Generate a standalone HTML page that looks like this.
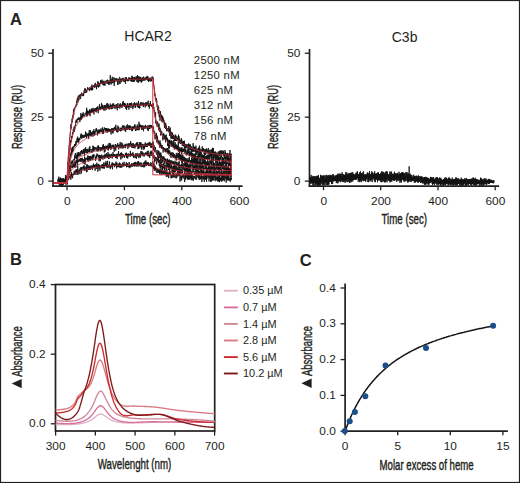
<!DOCTYPE html>
<html><head><meta charset="utf-8"><style>
html,body{margin:0;padding:0;background:#fff;}
#w{position:relative;width:520px;height:483px;overflow:hidden;}
svg{position:absolute;left:0;top:0;}
text{font-family:"Liberation Sans", sans-serif;}
</style></head><body><div id="w">
<svg width="520" height="483" viewBox="0 0 520 483">
<rect x="0.5" y="0.5" width="519" height="482" fill="#fff" stroke="#231f20" stroke-width="1.2"/>
<text x="10.00" y="24.50" font-size="16.5" text-anchor="start" font-weight="bold" fill="#231f20" >A</text>
<text x="148.00" y="41.00" font-size="14" text-anchor="middle" font-weight="normal" fill="#231f20" >HCAR2</text>
<line x1="53.00" y1="49.00" x2="53.00" y2="186.90" stroke="#231f20" stroke-width="1.7" />
<line x1="52.20" y1="186.10" x2="242.60" y2="186.10" stroke="#231f20" stroke-width="1.7" />
<line x1="48.30" y1="53.25" x2="53.00" y2="53.25" stroke="#231f20" stroke-width="1.3" />
<text transform="translate(43.90,56.75) scale(1.08,1)" font-size="11" text-anchor="end" font-weight="normal" fill="#231f20" >50</text>
<line x1="48.30" y1="117.17" x2="53.00" y2="117.17" stroke="#231f20" stroke-width="1.3" />
<text transform="translate(43.90,120.67) scale(1.08,1)" font-size="11" text-anchor="end" font-weight="normal" fill="#231f20" >25</text>
<line x1="48.30" y1="181.10" x2="53.00" y2="181.10" stroke="#231f20" stroke-width="1.3" />
<text transform="translate(43.90,185.40) scale(1.08,1)" font-size="11" text-anchor="end" font-weight="normal" fill="#231f20" >0</text>
<line x1="67.00" y1="186.10" x2="67.00" y2="190.20" stroke="#231f20" stroke-width="1.3" />
<text transform="translate(67.20,205.00) scale(1.08,1)" font-size="11" text-anchor="middle" font-weight="normal" fill="#231f20" >0</text>
<line x1="124.40" y1="186.10" x2="124.40" y2="190.20" stroke="#231f20" stroke-width="1.3" />
<text transform="translate(124.60,205.00) scale(1.08,1)" font-size="11" text-anchor="middle" font-weight="normal" fill="#231f20" >200</text>
<line x1="181.80" y1="186.10" x2="181.80" y2="190.20" stroke="#231f20" stroke-width="1.3" />
<text transform="translate(182.00,205.00) scale(1.08,1)" font-size="11" text-anchor="middle" font-weight="normal" fill="#231f20" >400</text>
<line x1="239.20" y1="186.10" x2="239.20" y2="190.20" stroke="#231f20" stroke-width="1.3" />
<text transform="translate(239.40,205.00) scale(1.08,1)" font-size="11" text-anchor="middle" font-weight="normal" fill="#231f20" >600</text>
<text x="125.00" y="224.30" font-size="14" fill="#231f20" stroke="#231f20" stroke-width="0.4" textLength="45.5" lengthAdjust="spacingAndGlyphs">Time (sec)</text>
<text transform="translate(21.90,149.00) rotate(-90)" font-size="14" fill="#231f20" stroke="#231f20" stroke-width="0.4" textLength="64.0" lengthAdjust="spacingAndGlyphs">Response (RU)</text>
<line x1="309.50" y1="49.00" x2="309.50" y2="186.90" stroke="#231f20" stroke-width="1.7" />
<line x1="308.70" y1="186.10" x2="499.10" y2="186.10" stroke="#231f20" stroke-width="1.7" />
<line x1="304.80" y1="53.25" x2="309.50" y2="53.25" stroke="#231f20" stroke-width="1.3" />
<text transform="translate(300.40,56.75) scale(1.08,1)" font-size="11" text-anchor="end" font-weight="normal" fill="#231f20" >50</text>
<line x1="304.80" y1="117.17" x2="309.50" y2="117.17" stroke="#231f20" stroke-width="1.3" />
<text transform="translate(300.40,120.67) scale(1.08,1)" font-size="11" text-anchor="end" font-weight="normal" fill="#231f20" >25</text>
<line x1="304.80" y1="181.10" x2="309.50" y2="181.10" stroke="#231f20" stroke-width="1.3" />
<text transform="translate(300.40,185.40) scale(1.08,1)" font-size="11" text-anchor="end" font-weight="normal" fill="#231f20" >0</text>
<line x1="323.50" y1="186.10" x2="323.50" y2="190.20" stroke="#231f20" stroke-width="1.3" />
<text transform="translate(323.70,205.00) scale(1.08,1)" font-size="11" text-anchor="middle" font-weight="normal" fill="#231f20" >0</text>
<line x1="380.74" y1="186.10" x2="380.74" y2="190.20" stroke="#231f20" stroke-width="1.3" />
<text transform="translate(380.94,205.00) scale(1.08,1)" font-size="11" text-anchor="middle" font-weight="normal" fill="#231f20" >200</text>
<line x1="437.98" y1="186.10" x2="437.98" y2="190.20" stroke="#231f20" stroke-width="1.3" />
<text transform="translate(438.18,205.00) scale(1.08,1)" font-size="11" text-anchor="middle" font-weight="normal" fill="#231f20" >400</text>
<line x1="495.22" y1="186.10" x2="495.22" y2="190.20" stroke="#231f20" stroke-width="1.3" />
<text transform="translate(495.42,205.00) scale(1.08,1)" font-size="11" text-anchor="middle" font-weight="normal" fill="#231f20" >600</text>
<text x="381.50" y="224.30" font-size="14" fill="#231f20" stroke="#231f20" stroke-width="0.4" textLength="45.5" lengthAdjust="spacingAndGlyphs">Time (sec)</text>
<text transform="translate(278.40,149.00) rotate(-90)" font-size="14" fill="#231f20" stroke="#231f20" stroke-width="0.4" textLength="64.0" lengthAdjust="spacingAndGlyphs">Response (RU)</text>
<text x="404.60" y="41.50" font-size="14" text-anchor="middle" font-weight="normal" fill="#231f20" >C3b</text>
<text x="193.80" y="63.60" font-size="11.3" text-anchor="start" font-weight="normal" fill="#231f20" letter-spacing="0.3">2500 nM</text>
<text x="193.80" y="78.80" font-size="11.3" text-anchor="start" font-weight="normal" fill="#231f20" letter-spacing="0.3">1250 nM</text>
<text x="193.80" y="94.00" font-size="11.3" text-anchor="start" font-weight="normal" fill="#231f20" letter-spacing="0.3">625 nM</text>
<text x="193.80" y="109.20" font-size="11.3" text-anchor="start" font-weight="normal" fill="#231f20" letter-spacing="0.3">312 nM</text>
<text x="193.80" y="124.40" font-size="11.3" text-anchor="start" font-weight="normal" fill="#231f20" letter-spacing="0.3">156 nM</text>
<text x="193.80" y="139.60" font-size="11.3" text-anchor="start" font-weight="normal" fill="#231f20" letter-spacing="0.3">78 nM</text>
<path d="M58.1,181.3 L58.3,179.1 L58.4,179.5 L58.6,182.6 L58.8,182.1 L59.0,182.8 L59.1,181.0 L59.3,181.7 L59.5,179.9 L59.7,184.5 L59.8,178.9 L60.0,181.4 L60.2,180.0 L60.3,181.3 L60.5,181.9 L60.7,179.9 L60.9,179.3 L61.0,181.0 L61.2,181.0 L61.4,179.9 L61.5,182.2 L61.7,183.4 L61.9,179.9 L62.1,181.6 L62.2,183.8 L62.4,182.3 L62.6,181.8 L62.8,183.0 L62.9,183.4 L63.1,180.9 L63.3,179.6 L63.4,181.7 L63.6,182.7 L63.8,180.8 L64.0,180.1 L64.1,181.6 L64.3,180.1 L64.5,179.4 L64.6,181.6 L64.8,182.4 L65.0,180.5 L65.2,180.9 L65.3,179.4 L65.5,183.4 L65.7,182.3 L65.9,182.6 L66.0,184.2 L66.2,181.1 L66.4,180.3 L66.5,182.5 L66.7,179.2 L66.9,179.6 L67.1,179.0 L67.2,175.8 L67.4,171.6 L67.6,172.1 L67.7,165.6 L67.9,162.6 L68.1,163.6 L68.3,157.3 L68.4,155.1 L68.6,151.3 L68.8,150.7 L69.0,147.7 L69.1,145.1 L69.3,145.1 L69.5,140.5 L69.6,140.0 L69.8,137.4 L70.0,137.3 L70.2,133.3 L70.3,132.1 L70.5,131.8 L70.7,128.9 L70.8,126.4 L71.0,124.2 L71.2,128.7 L71.4,123.5 L71.5,122.9 L71.7,122.8 L71.9,123.3 L72.1,118.8 L72.2,121.9 L72.4,117.8 L72.6,115.5 L72.7,119.5 L72.9,116.6 L73.1,117.3 L73.3,113.9 L73.4,111.0 L73.6,109.4 L73.8,114.8 L73.9,112.3 L74.1,109.7 L74.3,107.8 L74.5,109.1 L74.6,110.3 L74.8,108.1 L75.0,108.1 L75.2,107.7 L75.3,108.0 L75.5,105.9 L75.7,105.7 L75.8,105.7 L76.0,105.3 L76.2,106.5 L76.4,104.7 L76.5,101.5 L76.7,103.2 L76.9,105.0 L77.0,99.9 L77.2,100.7 L77.4,97.8 L77.6,100.9 L77.7,101.4 L77.9,102.7 L78.1,97.8 L78.3,95.6 L78.4,101.1 L78.6,100.5 L78.8,98.1 L78.9,100.1 L79.1,98.4 L79.3,98.1 L79.5,96.8 L79.6,95.0 L79.8,96.7 L80.0,94.5 L80.1,96.4 L80.3,95.0 L80.5,99.0 L80.7,97.6 L80.8,94.0 L81.0,96.3 L81.2,94.4 L81.4,94.3 L81.5,92.7 L81.7,93.4 L81.9,93.2 L82.0,94.8 L82.2,95.9 L82.4,95.9 L82.6,95.2 L82.7,96.0 L82.9,94.9 L83.1,93.9 L83.2,93.0 L83.4,94.0 L83.6,96.1 L83.8,93.0 L83.9,92.2 L84.1,90.5 L84.3,91.4 L84.4,93.2 L84.6,93.1 L84.8,88.6 L85.0,90.7 L85.1,88.7 L85.3,88.4 L85.5,93.0 L85.7,90.9 L85.8,90.5 L86.0,90.2 L86.2,89.9 L86.3,90.5 L86.5,90.0 L86.7,92.6 L86.9,90.2 L87.0,90.7 L87.2,89.0 L87.4,89.5 L87.5,87.6 L87.7,87.1 L87.9,88.2 L88.1,88.3 L88.2,88.9 L88.4,89.6 L88.6,89.1 L88.8,89.6 L88.9,88.2 L89.1,88.9 L89.3,88.2 L89.4,91.1 L89.6,87.4 L89.8,89.6 L90.0,89.6 L90.1,88.7 L90.3,89.4 L90.5,87.9 L90.6,89.4 L90.8,90.2 L91.0,89.7 L91.2,86.2 L91.3,87.7 L91.5,89.7 L91.7,87.6 L91.9,90.2 L92.0,84.6 L92.2,90.3 L92.4,86.7 L92.5,86.4 L92.7,89.8 L92.9,86.6 L93.1,85.9 L93.2,86.6 L93.4,86.7 L93.6,85.4 L93.7,86.4 L93.9,85.8 L94.1,86.4 L94.3,85.2 L94.4,87.5 L94.6,84.4 L94.8,86.4 L95.0,87.4 L95.1,84.9 L95.3,82.8 L95.5,84.2 L95.6,86.6 L95.8,84.5 L96.0,86.3 L96.2,86.0 L96.3,85.6 L96.5,89.2 L96.7,84.6 L96.8,86.7 L97.0,86.0 L97.2,87.0 L97.4,86.8 L97.5,85.9 L97.7,83.0 L97.9,81.1 L98.1,83.9 L98.2,82.4 L98.4,84.9 L98.6,87.5 L98.7,84.0 L98.9,83.4 L99.1,84.9 L99.3,83.5 L99.4,82.9 L99.6,85.5 L99.8,86.5 L99.9,84.0 L100.1,83.6 L100.3,83.8 L100.5,81.5 L100.6,80.1 L100.8,83.6 L101.0,81.7 L101.2,81.1 L101.3,81.4 L101.5,80.8 L101.7,83.4 L101.8,81.8 L102.0,79.6 L102.2,81.6 L102.4,84.4 L102.5,82.6 L102.7,81.5 L102.9,83.0 L103.0,84.5 L103.2,80.9 L103.4,85.4 L103.6,82.3 L103.7,83.2 L103.9,85.0 L104.1,80.8 L104.3,82.2 L104.4,84.9 L104.6,81.9 L104.8,83.6 L104.9,85.8 L105.1,83.9 L105.3,82.4 L105.5,81.7 L105.6,82.2 L105.8,82.4 L106.0,81.6 L106.1,82.6 L106.3,80.2 L106.5,81.8 L106.7,81.7 L106.8,81.4 L107.0,84.0 L107.2,83.1 L107.4,79.7 L107.5,81.5 L107.7,82.6 L107.9,81.8 L108.0,83.1 L108.2,81.6 L108.4,83.4 L108.6,81.8 L108.7,84.9 L108.9,80.2 L109.1,83.0 L109.2,84.6 L109.4,82.3 L109.6,82.1 L109.8,81.4 L109.9,83.5 L110.1,80.9 L110.3,75.1 L110.5,83.1 L110.6,80.5 L110.8,81.6 L111.0,81.0 L111.1,84.5 L111.3,83.5 L111.5,80.5 L111.7,81.6 L111.8,78.7 L112.0,82.7 L112.2,81.3 L112.3,76.8 L112.5,83.1 L112.7,83.1 L112.9,81.3 L113.0,81.3 L113.2,79.8 L113.4,80.9 L113.6,82.5 L113.7,80.9 L113.9,77.2 L114.1,79.2 L114.2,85.9 L114.4,81.6 L114.6,82.9 L114.8,80.4 L114.9,81.8 L115.1,78.1 L115.3,79.7 L115.4,79.5 L115.6,80.3 L115.8,80.8 L116.0,80.4 L116.1,78.7 L116.3,79.7 L116.5,81.1 L116.7,78.2 L116.8,80.1 L117.0,80.6 L117.2,82.1 L117.3,82.0 L117.5,82.0 L117.7,85.0 L117.9,78.8 L118.0,79.5 L118.2,80.9 L118.4,78.9 L118.5,79.6 L118.7,79.9 L118.9,84.3 L119.1,80.2 L119.2,78.9 L119.4,77.5 L119.6,76.9 L119.8,77.7 L119.9,82.2 L120.1,83.8 L120.3,79.5 L120.4,80.2 L120.6,78.7 L120.8,80.6 L121.0,79.8 L121.1,82.3 L121.3,79.0 L121.5,80.3 L121.6,79.0 L121.8,78.5 L122.0,79.4 L122.2,78.8 L122.3,79.4 L122.5,78.4 L122.7,79.2 L122.9,81.1 L123.0,81.4 L123.2,77.8 L123.4,80.7 L123.5,79.0 L123.7,80.0 L123.9,81.6 L124.1,81.6 L124.2,80.0 L124.4,79.5 L124.6,79.1 L124.7,82.0 L124.9,80.7 L125.1,79.8 L125.3,77.1 L125.4,83.8 L125.6,79.1 L125.8,81.0 L125.9,79.2 L126.1,80.7 L126.3,79.2 L126.5,77.2 L126.6,79.3 L126.8,79.1 L127.0,79.2 L127.2,81.1 L127.3,78.8 L127.5,79.9 L127.7,81.2 L127.8,80.2 L128.0,80.4 L128.2,79.0 L128.4,80.3 L128.5,81.1 L128.7,77.6 L128.9,78.2 L129.0,77.7 L129.2,78.7 L129.4,79.7 L129.6,80.2 L129.7,79.8 L129.9,77.5 L130.1,78.5 L130.3,81.1 L130.4,78.8 L130.6,80.8 L130.8,78.5 L130.9,80.8 L131.1,80.9 L131.3,78.2 L131.5,78.5 L131.6,81.6 L131.8,77.7 L132.0,75.7 L132.1,81.7 L132.3,76.5 L132.5,80.5 L132.7,80.1 L132.8,79.5 L133.0,82.0 L133.2,77.3 L133.4,78.2 L133.5,80.4 L133.7,79.4 L133.9,81.6 L134.0,79.4 L134.2,77.2 L134.4,81.7 L134.6,79.5 L134.7,78.5 L134.9,77.3 L135.1,76.9 L135.2,79.8 L135.4,80.2 L135.6,78.1 L135.8,79.8 L135.9,79.7 L136.1,77.3 L136.3,76.2 L136.5,78.4 L136.6,79.2 L136.8,77.8 L137.0,82.0 L137.1,79.0 L137.3,80.9 L137.5,75.0 L137.7,77.9 L137.8,78.8 L138.0,79.3 L138.2,83.0 L138.3,77.6 L138.5,76.4 L138.7,80.3 L138.9,78.0 L139.0,77.6 L139.2,81.5 L139.4,77.2 L139.6,76.6 L139.7,78.6 L139.9,79.0 L140.1,77.4 L140.2,81.2 L140.4,78.6 L140.6,77.2 L140.8,81.2 L140.9,77.6 L141.1,80.0 L141.3,82.7 L141.4,79.5 L141.6,81.2 L141.8,79.1 L142.0,81.6 L142.1,77.8 L142.3,80.5 L142.5,78.6 L142.7,79.9 L142.8,79.4 L143.0,77.0 L143.2,78.6 L143.3,79.3 L143.5,80.6 L143.7,76.6 L143.9,77.2 L144.0,79.1 L144.2,78.2 L144.4,80.5 L144.5,80.5 L144.7,80.3 L144.9,78.4 L145.1,78.6 L145.2,80.3 L145.4,77.8 L145.6,77.7 L145.8,78.5 L145.9,77.1 L146.1,79.2 L146.3,78.6 L146.4,77.4 L146.6,78.0 L146.8,76.8 L147.0,80.1 L147.1,75.9 L147.3,79.7 L147.5,78.7 L147.6,80.6 L147.8,77.4 L148.0,76.6 L148.2,77.1 L148.3,77.6 L148.5,81.8 L148.7,80.8 L148.9,80.1 L149.0,81.0 L149.2,77.8 L149.4,79.5 L149.5,79.9 L149.7,79.0 L149.9,81.4 L150.1,81.3 L150.2,81.3 L150.4,78.9 L150.6,79.1 L150.7,78.4 L150.9,77.5 L151.1,81.4 L151.3,79.9 L151.4,78.8 L151.6,81.0 L151.8,79.7 L152.0,76.9 L152.1,76.6 L152.3,76.8 L152.5,78.7 L152.6,79.0 L152.8,76.8 L153.0,79.2 L153.2,78.5 L153.3,78.2 L153.5,83.4 L153.7,85.4 L153.8,85.8 L154.0,85.9 L154.2,87.5 L154.4,89.6 L154.5,89.9 L154.7,95.6 L154.9,95.3 L155.1,94.2 L155.2,97.5 L155.4,99.5 L155.6,100.0 L155.7,100.2 L155.9,99.3 L156.1,101.8 L156.3,100.3 L156.4,98.0 L156.6,102.8 L156.8,100.6 L156.9,103.6 L157.1,106.9 L157.3,106.0 L157.5,108.3 L157.6,105.3 L157.8,110.3 L158.0,105.6 L158.2,107.7 L158.3,113.4 L158.5,108.5 L158.7,107.4 L158.8,113.2 L159.0,110.0 L159.2,116.6 L159.4,112.7 L159.5,116.9 L159.7,113.0 L159.9,118.4 L160.0,120.7 L160.2,114.6 L160.4,111.2 L160.6,117.3 L160.7,114.8 L160.9,116.7 L161.1,118.2 L161.3,116.4 L161.4,114.7 L161.6,121.0 L161.8,117.6 L161.9,118.4 L162.1,122.2 L162.3,116.3 L162.5,115.8 L162.6,122.1 L162.8,116.8 L163.0,120.9 L163.1,121.4 L163.3,118.6 L163.5,121.9 L163.7,121.9 L163.8,119.8 L164.0,120.8 L164.2,121.9 L164.4,127.0 L164.5,127.8 L164.7,122.4 L164.9,127.2 L165.0,125.0 L165.2,127.7 L165.4,126.2 L165.6,128.9 L165.7,123.1 L165.9,128.9 L166.1,127.6 L166.2,128.1 L166.4,125.5 L166.6,131.2 L166.8,128.6 L166.9,129.2 L167.1,128.1 L167.3,128.0 L167.5,130.3 L167.6,129.2 L167.8,130.7 L168.0,129.1 L168.1,130.4 L168.3,131.7 L168.5,130.6 L168.7,130.1 L168.8,126.0 L169.0,132.3 L169.2,130.9 L169.3,128.5 L169.5,136.0 L169.7,135.4 L169.9,134.6 L170.0,132.5 L170.2,127.5 L170.4,132.0 L170.5,130.9 L170.7,134.0 L170.9,138.7 L171.1,138.7 L171.2,131.9 L171.4,134.2 L171.6,137.7 L171.8,132.7 L171.9,138.5 L172.1,133.1 L172.3,132.6 L172.4,137.6 L172.6,138.5 L172.8,134.7 L173.0,138.8 L173.1,134.8 L173.3,139.1 L173.5,135.3 L173.6,136.8 L173.8,138.0 L174.0,138.8 L174.2,136.5 L174.3,141.0 L174.5,137.9 L174.7,138.1 L174.9,136.1 L175.0,140.4 L175.2,134.5 L175.4,138.9 L175.5,140.9 L175.7,135.8 L175.9,135.4 L176.1,139.6 L176.2,141.2 L176.4,139.4 L176.6,140.9 L176.7,140.3 L176.9,136.3 L177.1,138.8 L177.3,139.2 L177.4,139.1 L177.6,140.1 L177.8,138.1 L178.0,138.0 L178.1,140.7 L178.3,139.7 L178.5,134.7 L178.6,139.1 L178.8,140.6 L179.0,136.3 L179.2,140.7 L179.3,143.1 L179.5,139.7 L179.7,143.2 L179.8,142.8 L180.0,141.2 L180.2,142.4 L180.4,143.9 L180.5,143.6 L180.7,143.5 L180.9,139.5 L181.1,143.7 L181.2,143.4 L181.4,138.2 L181.6,143.8 L181.7,139.6 L181.9,140.2 L182.1,143.3 L182.3,145.9 L182.4,142.5 L182.6,142.5 L182.8,141.8 L182.9,143.9 L183.1,141.6 L183.3,141.2 L183.5,146.4 L183.6,141.1 L183.8,144.0 L184.0,145.7 L184.2,145.0 L184.3,140.7 L184.5,142.8 L184.7,148.6 L184.8,144.7 L185.0,145.5 L185.2,145.7 L185.4,146.7 L185.5,148.4 L185.7,143.9 L185.9,147.5 L186.0,146.5 L186.2,147.0 L186.4,147.4 L186.6,144.4 L186.7,145.2 L186.9,147.7 L187.1,148.5 L187.3,147.6 L187.4,144.5 L187.6,146.6 L187.8,146.1 L187.9,147.5 L188.1,147.5 L188.3,146.8 L188.5,151.0 L188.6,143.4 L188.8,148.3 L189.0,148.1 L189.1,144.1 L189.3,146.1 L189.5,147.0 L189.7,148.3 L189.8,150.2 L190.0,146.7 L190.2,144.8 L190.4,149.4 L190.5,144.6 L190.7,149.9 L190.9,149.2 L191.0,147.1 L191.2,147.8 L191.4,146.5 L191.6,149.6 L191.7,150.3 L191.9,151.9 L192.1,150.5 L192.2,150.3 L192.4,151.1 L192.6,147.7 L192.8,149.5 L192.9,152.2 L193.1,143.2 L193.3,150.1 L193.5,150.8 L193.6,145.9 L193.8,146.4 L194.0,151.2 L194.1,151.8 L194.3,150.8 L194.5,146.9 L194.7,150.1 L194.8,151.1 L195.0,149.4 L195.2,147.0 L195.3,152.3 L195.5,150.1 L195.7,152.5 L195.9,145.6 L196.0,146.5 L196.2,148.3 L196.4,150.6 L196.6,148.9 L196.7,154.7 L196.9,149.7 L197.1,153.4 L197.2,153.2 L197.4,151.8 L197.6,150.8 L197.8,148.8 L197.9,148.6 L198.1,149.4 L198.3,152.0 L198.4,148.6 L198.6,150.2 L198.8,147.3 L199.0,151.8 L199.1,155.8 L199.3,151.1 L199.5,145.6 L199.7,149.2 L199.8,150.7 L200.0,148.6 L200.2,149.5 L200.3,149.8 L200.5,152.2 L200.7,151.2 L200.9,150.8 L201.0,152.7 L201.2,153.9 L201.4,151.1 L201.5,149.6 L201.7,150.3 L201.9,150.8 L202.1,151.0 L202.2,146.4 L202.4,151.2 L202.6,150.0 L202.8,147.9 L202.9,151.6 L203.1,151.3 L203.3,149.4 L203.4,148.0 L203.6,150.9 L203.8,150.6 L204.0,151.1 L204.1,154.1 L204.3,149.0 L204.5,151.8 L204.6,154.9 L204.8,151.7 L205.0,155.1 L205.2,153.5 L205.3,151.3 L205.5,153.3 L205.7,149.1 L205.9,154.3 L206.0,150.7 L206.2,150.2 L206.4,148.4 L206.5,149.4 L206.7,151.0 L206.9,151.6 L207.1,151.9 L207.2,149.6 L207.4,153.4 L207.6,151.2 L207.7,152.6 L207.9,151.9 L208.1,153.0 L208.3,148.1 L208.4,153.5 L208.6,151.5 L208.8,151.4 L209.0,150.7 L209.1,151.0 L209.3,150.9 L209.5,149.9 L209.6,155.1 L209.8,152.0 L210.0,154.4 L210.2,151.9 L210.3,154.8 L210.5,154.4 L210.7,152.5 L210.8,149.8 L211.0,151.5 L211.2,151.7 L211.4,149.5 L211.5,154.2 L211.7,156.9 L211.9,153.3 L212.0,153.3 L212.2,150.2 L212.4,148.5 L212.6,155.5 L212.7,147.8 L212.9,150.0 L213.1,151.6 L213.3,152.5 L213.4,148.1 L213.6,152.8 L213.8,153.8 L213.9,152.5 L214.1,155.7 L214.3,152.4 L214.5,153.5 L214.6,152.3 L214.8,152.5 L215.0,155.9 L215.1,151.3 L215.3,156.3 L215.5,152.4 L215.7,157.2 L215.8,152.9 L216.0,155.3 L216.2,153.7 L216.4,155.2 L216.5,158.1 L216.7,155.8 L216.9,153.3 L217.0,152.3 L217.2,156.8 L217.4,158.5 L217.6,156.0 L217.7,154.3 L217.9,154.9 L218.1,155.2 L218.2,151.7 L218.4,151.4 L218.6,151.9 L218.8,155.3 L218.9,153.0 L219.1,153.5 L219.3,156.0 L219.5,151.4 L219.6,153.0 L219.8,154.3 L220.0,150.6 L220.1,151.8 L220.3,151.4 L220.5,150.6 L220.7,151.7 L220.8,155.9 L221.0,154.2 L221.2,151.5 L221.3,155.1 L221.5,153.1 L221.7,152.3 L221.9,150.2 L222.0,150.5 L222.2,151.4 L222.4,153.9 L222.6,151.5 L222.7,152.4 L222.9,153.7 L223.1,150.7 L223.2,152.8 L223.4,155.7 L223.6,151.3 L223.8,154.5 L223.9,153.1 L224.1,157.3 L224.3,154.3 L224.4,156.1 L224.6,156.1 L224.8,158.2 L225.0,150.1 L225.1,154.7 L225.3,154.1 L225.5,152.2 L225.7,154.7 L225.8,153.5 L226.0,157.4 L226.2,154.2 L226.3,155.6 L226.5,153.6 L226.7,154.0 L226.9,157.1 L227.0,158.2 L227.2,156.6 L227.4,152.9 L227.5,153.6 L227.7,153.7 L227.9,158.5 L228.1,159.7 L228.2,155.4 L228.4,154.7 L228.6,155.4 L228.8,153.5 L228.9,154.6 L229.1,156.6 L229.3,155.8 L229.4,153.9 L229.6,154.4 L229.8,154.7 L230.0,150.0 L230.1,155.4 L230.3,154.9 L230.5,157.0 L230.6,155.6 L230.8,153.8 L231.0,153.8 L231.2,155.2 L231.3,153.9" fill="none" stroke="#141414" stroke-width="0.9" stroke-linejoin="round" />
<path d="M58.1,180.7 L58.3,178.7 L58.4,180.3 L58.6,179.9 L58.8,179.2 L59.0,181.7 L59.1,180.6 L59.3,181.8 L59.5,182.3 L59.7,180.6 L59.8,183.1 L60.0,181.6 L60.2,183.1 L60.3,182.2 L60.5,182.9 L60.7,179.9 L60.9,181.5 L61.0,181.7 L61.2,179.0 L61.4,186.5 L61.5,183.3 L61.7,186.2 L61.9,181.5 L62.1,180.6 L62.2,180.2 L62.4,180.8 L62.6,182.8 L62.8,178.4 L62.9,180.7 L63.1,181.6 L63.3,183.2 L63.4,180.6 L63.6,182.3 L63.8,182.1 L64.0,180.9 L64.1,181.1 L64.3,182.7 L64.5,179.2 L64.6,183.0 L64.8,183.4 L65.0,181.0 L65.2,181.1 L65.3,181.1 L65.5,181.9 L65.7,181.4 L65.9,182.5 L66.0,184.3 L66.2,180.2 L66.4,182.9 L66.5,181.4 L66.7,179.6 L66.9,180.8 L67.1,175.4 L67.2,179.8 L67.4,176.1 L67.6,172.2 L67.7,167.7 L67.9,168.2 L68.1,168.3 L68.3,162.2 L68.4,163.9 L68.6,160.8 L68.8,157.2 L69.0,157.9 L69.1,156.0 L69.3,152.8 L69.5,152.3 L69.6,150.0 L69.8,150.6 L70.0,147.9 L70.2,148.4 L70.3,147.9 L70.5,141.1 L70.7,142.0 L70.8,140.2 L71.0,142.2 L71.2,140.0 L71.4,139.5 L71.5,140.6 L71.7,136.5 L71.9,137.6 L72.1,136.0 L72.2,137.4 L72.4,132.8 L72.6,132.4 L72.7,132.3 L72.9,134.0 L73.1,132.9 L73.3,129.3 L73.4,131.0 L73.6,129.9 L73.8,129.7 L73.9,131.6 L74.1,126.7 L74.3,131.9 L74.5,127.9 L74.6,127.4 L74.8,129.4 L75.0,125.9 L75.2,125.0 L75.3,125.1 L75.5,125.9 L75.7,123.0 L75.8,121.3 L76.0,122.5 L76.2,119.8 L76.4,121.3 L76.5,121.0 L76.7,119.6 L76.9,122.8 L77.0,122.5 L77.2,120.5 L77.4,120.2 L77.6,118.3 L77.7,118.7 L77.9,119.8 L78.1,119.3 L78.3,119.9 L78.4,119.9 L78.6,119.9 L78.8,117.3 L78.9,119.7 L79.1,119.5 L79.3,118.5 L79.5,119.5 L79.6,119.0 L79.8,122.1 L80.0,117.6 L80.1,118.6 L80.3,117.6 L80.5,117.0 L80.7,120.2 L80.8,113.1 L81.0,116.8 L81.2,116.6 L81.4,119.8 L81.5,115.4 L81.7,115.7 L81.9,116.9 L82.0,115.7 L82.2,113.9 L82.4,116.9 L82.6,117.6 L82.7,113.7 L82.9,115.4 L83.1,116.1 L83.2,112.3 L83.4,115.6 L83.6,116.0 L83.8,115.4 L83.9,116.4 L84.1,115.1 L84.3,115.0 L84.4,116.1 L84.6,115.5 L84.8,114.1 L85.0,113.9 L85.1,113.4 L85.3,113.1 L85.5,113.7 L85.7,113.1 L85.8,114.3 L86.0,114.0 L86.2,111.7 L86.3,116.4 L86.5,112.5 L86.7,107.8 L86.9,116.1 L87.0,110.6 L87.2,116.3 L87.4,112.7 L87.5,110.6 L87.7,110.6 L87.9,114.5 L88.1,114.9 L88.2,115.1 L88.4,111.3 L88.6,112.9 L88.8,111.8 L88.9,111.0 L89.1,110.6 L89.3,110.4 L89.4,111.3 L89.6,114.4 L89.8,109.3 L90.0,116.2 L90.1,109.7 L90.3,112.7 L90.5,112.1 L90.6,112.5 L90.8,112.0 L91.0,111.1 L91.2,111.5 L91.3,112.8 L91.5,109.3 L91.7,111.5 L91.9,108.3 L92.0,110.6 L92.2,111.6 L92.4,109.8 L92.5,109.3 L92.7,112.3 L92.9,111.3 L93.1,107.9 L93.2,112.2 L93.4,111.9 L93.6,110.0 L93.7,112.5 L93.9,114.4 L94.1,112.9 L94.3,109.3 L94.4,108.8 L94.6,108.7 L94.8,109.3 L95.0,111.8 L95.1,109.0 L95.3,108.0 L95.5,110.9 L95.6,108.2 L95.8,110.7 L96.0,110.0 L96.2,109.5 L96.3,112.3 L96.5,107.4 L96.7,111.3 L96.8,109.6 L97.0,110.3 L97.2,108.7 L97.4,108.6 L97.5,108.9 L97.7,106.3 L97.9,108.2 L98.1,109.3 L98.2,113.2 L98.4,108.7 L98.6,108.7 L98.7,109.5 L98.9,109.5 L99.1,106.7 L99.3,105.9 L99.4,104.3 L99.6,105.7 L99.8,108.8 L99.9,107.3 L100.1,110.0 L100.3,106.6 L100.5,107.4 L100.6,108.6 L100.8,107.9 L101.0,108.1 L101.2,108.9 L101.3,105.6 L101.5,102.9 L101.7,107.0 L101.8,106.6 L102.0,108.0 L102.2,108.8 L102.4,104.7 L102.5,109.0 L102.7,107.7 L102.9,108.8 L103.0,107.5 L103.2,108.3 L103.4,107.1 L103.6,110.4 L103.7,108.2 L103.9,105.4 L104.1,109.6 L104.3,108.8 L104.4,105.2 L104.6,106.5 L104.8,105.3 L104.9,110.7 L105.1,106.4 L105.3,108.4 L105.5,108.9 L105.6,105.8 L105.8,104.8 L106.0,109.5 L106.1,109.0 L106.3,108.1 L106.5,107.4 L106.7,109.4 L106.8,103.6 L107.0,106.4 L107.2,107.9 L107.4,108.2 L107.5,103.1 L107.7,103.1 L107.9,107.8 L108.0,106.3 L108.2,104.7 L108.4,109.0 L108.6,108.0 L108.7,104.6 L108.9,108.0 L109.1,107.7 L109.2,109.5 L109.4,108.6 L109.6,106.0 L109.8,108.4 L109.9,109.0 L110.1,107.7 L110.3,103.6 L110.5,106.5 L110.6,107.7 L110.8,106.4 L111.0,105.4 L111.1,105.9 L111.3,109.2 L111.5,105.8 L111.7,106.7 L111.8,105.0 L112.0,108.6 L112.2,104.3 L112.3,106.8 L112.5,108.7 L112.7,103.6 L112.9,106.6 L113.0,105.0 L113.2,105.9 L113.4,103.8 L113.6,103.6 L113.7,103.4 L113.9,104.3 L114.1,108.3 L114.2,108.5 L114.4,105.5 L114.6,107.5 L114.8,105.0 L114.9,105.4 L115.1,108.3 L115.3,108.2 L115.4,108.7 L115.6,108.1 L115.8,106.9 L116.0,105.3 L116.1,104.3 L116.3,108.0 L116.5,107.7 L116.7,104.4 L116.8,105.6 L117.0,106.3 L117.2,110.3 L117.3,108.1 L117.5,106.2 L117.7,107.6 L117.9,103.1 L118.0,106.4 L118.2,105.8 L118.4,107.9 L118.5,107.6 L118.7,107.1 L118.9,107.1 L119.1,106.7 L119.2,105.6 L119.4,105.7 L119.6,104.4 L119.8,108.5 L119.9,105.7 L120.1,105.6 L120.3,103.3 L120.4,106.4 L120.6,105.5 L120.8,107.4 L121.0,105.2 L121.1,105.3 L121.3,107.0 L121.5,106.3 L121.6,105.9 L121.8,104.8 L122.0,107.8 L122.2,104.1 L122.3,106.0 L122.5,102.0 L122.7,102.8 L122.9,105.9 L123.0,106.1 L123.2,101.1 L123.4,104.0 L123.5,103.8 L123.7,105.6 L123.9,105.1 L124.1,103.5 L124.2,103.7 L124.4,106.4 L124.6,102.9 L124.7,104.8 L124.9,106.8 L125.1,103.5 L125.3,105.7 L125.4,104.2 L125.6,106.7 L125.8,105.4 L125.9,108.7 L126.1,105.3 L126.3,108.7 L126.5,105.5 L126.6,110.0 L126.8,106.0 L127.0,104.7 L127.2,104.7 L127.3,103.3 L127.5,107.2 L127.7,103.0 L127.8,103.0 L128.0,107.5 L128.2,106.9 L128.4,106.6 L128.5,105.8 L128.7,105.1 L128.9,109.7 L129.0,104.6 L129.2,105.7 L129.4,107.0 L129.6,103.5 L129.7,105.6 L129.9,103.2 L130.1,104.0 L130.3,105.4 L130.4,103.1 L130.6,103.9 L130.8,106.1 L130.9,108.1 L131.1,106.2 L131.3,104.3 L131.5,105.9 L131.6,102.6 L131.8,105.4 L132.0,105.5 L132.1,105.2 L132.3,107.2 L132.5,105.9 L132.7,106.5 L132.8,109.2 L133.0,108.2 L133.2,103.6 L133.4,105.4 L133.5,104.6 L133.7,106.8 L133.9,105.2 L134.0,103.1 L134.2,104.1 L134.4,105.2 L134.6,102.3 L134.7,105.1 L134.9,105.7 L135.1,103.2 L135.2,108.0 L135.4,104.1 L135.6,107.4 L135.8,106.7 L135.9,106.6 L136.1,105.3 L136.3,105.1 L136.5,104.7 L136.6,105.1 L136.8,103.0 L137.0,102.6 L137.1,104.4 L137.3,104.0 L137.5,105.8 L137.7,106.9 L137.8,103.9 L138.0,105.0 L138.2,103.5 L138.3,108.0 L138.5,100.9 L138.7,107.5 L138.9,105.2 L139.0,103.6 L139.2,107.8 L139.4,106.4 L139.6,108.6 L139.7,107.4 L139.9,108.0 L140.1,104.6 L140.2,104.1 L140.4,105.2 L140.6,102.3 L140.8,102.0 L140.9,104.3 L141.1,104.8 L141.3,105.2 L141.4,105.4 L141.6,102.5 L141.8,104.1 L142.0,105.0 L142.1,104.7 L142.3,103.7 L142.5,105.4 L142.7,104.3 L142.8,104.7 L143.0,102.3 L143.2,102.7 L143.3,107.1 L143.5,104.8 L143.7,103.5 L143.9,105.4 L144.0,103.3 L144.2,104.1 L144.4,103.6 L144.5,104.8 L144.7,104.3 L144.9,103.9 L145.1,107.4 L145.2,106.8 L145.4,106.8 L145.6,102.3 L145.8,104.4 L145.9,104.2 L146.1,104.3 L146.3,105.7 L146.4,106.1 L146.6,103.3 L146.8,105.2 L147.0,101.9 L147.1,104.2 L147.3,104.5 L147.5,105.0 L147.6,105.0 L147.8,104.9 L148.0,102.1 L148.2,100.7 L148.3,106.6 L148.5,104.3 L148.7,103.5 L148.9,106.2 L149.0,105.6 L149.2,105.6 L149.4,108.7 L149.5,103.6 L149.7,104.8 L149.9,104.8 L150.1,104.7 L150.2,104.3 L150.4,101.1 L150.6,104.8 L150.7,103.9 L150.9,106.0 L151.1,104.6 L151.3,105.7 L151.4,105.5 L151.6,106.9 L151.8,106.8 L152.0,105.0 L152.1,104.3 L152.3,104.6 L152.5,106.3 L152.6,104.3 L152.8,108.9 L153.0,103.2 L153.2,105.1 L153.3,105.5 L153.5,104.5 L153.7,108.8 L153.8,106.9 L154.0,110.9 L154.2,110.1 L154.4,113.5 L154.5,112.8 L154.7,111.4 L154.9,116.6 L155.1,117.5 L155.2,117.5 L155.4,116.7 L155.6,112.4 L155.7,119.9 L155.9,123.5 L156.1,120.8 L156.3,123.3 L156.4,121.5 L156.6,120.8 L156.8,123.4 L156.9,123.7 L157.1,126.6 L157.3,122.7 L157.5,125.2 L157.6,121.7 L157.8,122.3 L158.0,126.8 L158.2,126.2 L158.3,125.9 L158.5,124.8 L158.7,130.2 L158.8,127.4 L159.0,123.6 L159.2,128.1 L159.4,127.8 L159.5,128.9 L159.7,131.8 L159.9,127.8 L160.0,129.6 L160.2,130.2 L160.4,129.4 L160.6,129.6 L160.7,135.5 L160.9,130.9 L161.1,133.7 L161.3,132.5 L161.4,134.5 L161.6,134.9 L161.8,131.5 L161.9,133.6 L162.1,134.6 L162.3,134.9 L162.5,134.4 L162.6,135.3 L162.8,140.3 L163.0,137.3 L163.1,136.3 L163.3,134.7 L163.5,133.7 L163.7,139.1 L163.8,133.3 L164.0,137.3 L164.2,137.0 L164.4,139.0 L164.5,139.3 L164.7,135.4 L164.9,139.2 L165.0,139.1 L165.2,136.7 L165.4,135.5 L165.6,142.3 L165.7,140.1 L165.9,139.7 L166.1,136.0 L166.2,134.5 L166.4,139.9 L166.6,138.8 L166.8,137.8 L166.9,137.4 L167.1,140.6 L167.3,138.3 L167.5,141.4 L167.6,145.8 L167.8,143.5 L168.0,140.5 L168.1,139.4 L168.3,146.1 L168.5,145.3 L168.7,141.5 L168.8,148.7 L169.0,140.7 L169.2,140.0 L169.3,148.4 L169.5,140.6 L169.7,143.1 L169.9,139.8 L170.0,142.4 L170.2,143.5 L170.4,142.9 L170.5,141.4 L170.7,142.9 L170.9,143.4 L171.1,146.8 L171.2,143.0 L171.4,143.8 L171.6,140.2 L171.8,144.3 L171.9,144.7 L172.1,146.1 L172.3,143.4 L172.4,145.3 L172.6,146.4 L172.8,141.5 L173.0,141.2 L173.1,146.2 L173.3,147.6 L173.5,143.3 L173.6,147.7 L173.8,140.2 L174.0,146.5 L174.2,144.5 L174.3,149.5 L174.5,147.4 L174.7,145.0 L174.9,146.3 L175.0,148.7 L175.2,142.3 L175.4,145.8 L175.5,147.8 L175.7,148.8 L175.9,148.0 L176.1,144.5 L176.2,148.7 L176.4,147.1 L176.6,149.1 L176.7,144.8 L176.9,147.9 L177.1,145.7 L177.3,146.8 L177.4,149.2 L177.6,146.7 L177.8,146.2 L178.0,151.0 L178.1,147.5 L178.3,141.4 L178.5,149.7 L178.6,147.8 L178.8,152.0 L179.0,148.2 L179.2,150.8 L179.3,148.0 L179.5,149.7 L179.7,151.8 L179.8,146.9 L180.0,150.0 L180.2,151.5 L180.4,149.3 L180.5,151.5 L180.7,148.8 L180.9,149.5 L181.1,150.4 L181.2,148.3 L181.4,152.6 L181.6,148.1 L181.7,154.3 L181.9,147.0 L182.1,150.1 L182.3,151.2 L182.4,152.1 L182.6,149.4 L182.8,150.9 L182.9,151.2 L183.1,148.7 L183.3,151.8 L183.5,151.2 L183.6,149.9 L183.8,148.7 L184.0,151.3 L184.2,150.7 L184.3,151.3 L184.5,149.8 L184.7,148.4 L184.8,153.8 L185.0,152.3 L185.2,152.2 L185.4,151.0 L185.5,149.2 L185.7,152.4 L185.9,152.2 L186.0,150.4 L186.2,155.5 L186.4,154.4 L186.6,153.5 L186.7,152.7 L186.9,152.4 L187.1,153.9 L187.3,149.2 L187.4,154.6 L187.6,153.6 L187.8,150.8 L187.9,151.5 L188.1,152.9 L188.3,152.2 L188.5,151.3 L188.6,153.1 L188.8,151.7 L189.0,155.0 L189.1,152.8 L189.3,156.2 L189.5,154.8 L189.7,155.3 L189.8,150.4 L190.0,154.2 L190.2,152.6 L190.4,155.2 L190.5,153.6 L190.7,153.7 L190.9,154.9 L191.0,151.4 L191.2,156.8 L191.4,152.0 L191.6,148.0 L191.7,155.1 L191.9,153.1 L192.1,156.8 L192.2,153.7 L192.4,157.6 L192.6,153.1 L192.8,155.4 L192.9,158.3 L193.1,157.3 L193.3,158.3 L193.5,155.9 L193.6,153.8 L193.8,156.4 L194.0,158.2 L194.1,157.5 L194.3,155.3 L194.5,160.7 L194.7,154.4 L194.8,154.9 L195.0,161.0 L195.2,153.2 L195.3,159.0 L195.5,155.9 L195.7,153.0 L195.9,159.0 L196.0,159.7 L196.2,158.4 L196.4,158.4 L196.6,156.3 L196.7,157.1 L196.9,157.1 L197.1,157.4 L197.2,156.9 L197.4,158.3 L197.6,156.0 L197.8,156.7 L197.9,158.8 L198.1,152.6 L198.3,159.1 L198.4,154.6 L198.6,157.6 L198.8,155.2 L199.0,154.8 L199.1,154.3 L199.3,152.8 L199.5,157.3 L199.7,149.4 L199.8,154.7 L200.0,157.4 L200.2,158.7 L200.3,151.0 L200.5,152.3 L200.7,156.0 L200.9,154.3 L201.0,153.3 L201.2,155.9 L201.4,157.1 L201.5,156.4 L201.7,154.5 L201.9,156.3 L202.1,159.3 L202.2,155.4 L202.4,160.8 L202.6,158.7 L202.8,154.5 L202.9,156.8 L203.1,156.6 L203.3,156.9 L203.4,155.1 L203.6,157.5 L203.8,161.7 L204.0,157.0 L204.1,163.9 L204.3,161.7 L204.5,154.0 L204.6,155.4 L204.8,158.8 L205.0,158.0 L205.2,157.8 L205.3,155.9 L205.5,159.4 L205.7,159.4 L205.9,158.6 L206.0,157.2 L206.2,156.7 L206.4,158.0 L206.5,155.6 L206.7,159.3 L206.9,157.3 L207.1,158.4 L207.2,159.2 L207.4,154.7 L207.6,158.3 L207.7,159.4 L207.9,157.1 L208.1,159.3 L208.3,155.9 L208.4,155.5 L208.6,154.8 L208.8,159.2 L209.0,157.0 L209.1,152.8 L209.3,157.1 L209.5,154.2 L209.6,153.7 L209.8,160.1 L210.0,154.7 L210.2,155.4 L210.3,155.3 L210.5,153.5 L210.7,156.2 L210.8,157.0 L211.0,155.6 L211.2,157.6 L211.4,155.9 L211.5,161.2 L211.7,153.5 L211.9,158.3 L212.0,156.2 L212.2,157.0 L212.4,157.4 L212.6,157.6 L212.7,158.1 L212.9,161.9 L213.1,159.6 L213.3,155.8 L213.4,160.3 L213.6,160.5 L213.8,153.7 L213.9,155.5 L214.1,154.9 L214.3,158.2 L214.5,157.4 L214.6,156.3 L214.8,156.5 L215.0,157.8 L215.1,160.9 L215.3,159.4 L215.5,161.1 L215.7,154.4 L215.8,158.8 L216.0,158.4 L216.2,157.6 L216.4,158.2 L216.5,157.4 L216.7,160.1 L216.9,162.2 L217.0,155.3 L217.2,160.3 L217.4,159.8 L217.6,160.4 L217.7,159.7 L217.9,158.6 L218.1,157.2 L218.2,160.9 L218.4,157.8 L218.6,159.6 L218.8,155.7 L218.9,161.0 L219.1,158.3 L219.3,157.0 L219.5,161.4 L219.6,158.2 L219.8,158.1 L220.0,160.3 L220.1,159.1 L220.3,156.5 L220.5,158.2 L220.7,159.5 L220.8,159.0 L221.0,157.5 L221.2,155.8 L221.3,156.8 L221.5,157.1 L221.7,155.3 L221.9,161.9 L222.0,161.7 L222.2,163.2 L222.4,157.0 L222.6,163.7 L222.7,159.3 L222.9,157.6 L223.1,162.3 L223.2,160.7 L223.4,159.9 L223.6,157.9 L223.8,162.7 L223.9,158.8 L224.1,158.0 L224.3,159.1 L224.4,158.8 L224.6,156.6 L224.8,158.5 L225.0,159.0 L225.1,159.5 L225.3,157.5 L225.5,159.3 L225.7,157.6 L225.8,158.9 L226.0,157.0 L226.2,161.1 L226.3,159.2 L226.5,158.8 L226.7,158.5 L226.9,157.2 L227.0,158.9 L227.2,158.0 L227.4,155.6 L227.5,157.6 L227.7,161.6 L227.9,162.2 L228.1,158.0 L228.2,160.1 L228.4,158.9 L228.6,159.7 L228.8,156.6 L228.9,156.9 L229.1,161.9 L229.3,158.9 L229.4,160.1 L229.6,162.3 L229.8,158.1 L230.0,159.8 L230.1,158.4 L230.3,154.1 L230.5,156.5 L230.6,156.9 L230.8,160.0 L231.0,161.8 L231.2,156.6 L231.3,159.9" fill="none" stroke="#141414" stroke-width="0.9" stroke-linejoin="round" />
<path d="M58.1,181.0 L58.3,182.7 L58.4,181.2 L58.6,183.4 L58.8,180.4 L59.0,182.7 L59.1,181.6 L59.3,179.9 L59.5,179.5 L59.7,181.8 L59.8,182.1 L60.0,179.3 L60.2,185.8 L60.3,178.8 L60.5,178.9 L60.7,182.9 L60.9,179.6 L61.0,180.8 L61.2,180.5 L61.4,185.0 L61.5,181.7 L61.7,181.2 L61.9,181.3 L62.1,181.5 L62.2,181.4 L62.4,185.7 L62.6,181.3 L62.8,182.1 L62.9,181.4 L63.1,182.4 L63.3,181.7 L63.4,181.3 L63.6,178.8 L63.8,182.8 L64.0,178.7 L64.1,181.5 L64.3,182.5 L64.5,183.5 L64.6,179.6 L64.8,183.2 L65.0,179.4 L65.2,180.3 L65.3,181.9 L65.5,182.1 L65.7,180.2 L65.9,180.9 L66.0,179.8 L66.2,181.0 L66.4,181.9 L66.5,180.0 L66.7,182.8 L66.9,179.3 L67.1,180.0 L67.2,180.3 L67.4,178.4 L67.6,175.7 L67.7,176.8 L67.9,170.0 L68.1,169.2 L68.3,171.3 L68.4,168.5 L68.6,164.6 L68.8,165.1 L69.0,166.2 L69.1,166.8 L69.3,165.0 L69.5,159.4 L69.6,159.7 L69.8,161.7 L70.0,157.7 L70.2,158.6 L70.3,158.3 L70.5,157.8 L70.7,156.9 L70.8,152.8 L71.0,156.2 L71.2,154.5 L71.4,151.1 L71.5,149.9 L71.7,153.3 L71.9,148.0 L72.1,149.1 L72.2,152.6 L72.4,146.8 L72.6,151.9 L72.7,148.0 L72.9,150.4 L73.1,151.2 L73.3,146.7 L73.4,147.1 L73.6,147.4 L73.8,146.1 L73.9,146.4 L74.1,146.2 L74.3,147.2 L74.5,144.0 L74.6,144.9 L74.8,145.3 L75.0,145.6 L75.2,144.7 L75.3,146.1 L75.5,144.2 L75.7,145.2 L75.8,141.2 L76.0,144.7 L76.2,143.9 L76.4,142.8 L76.5,141.0 L76.7,141.4 L76.9,141.8 L77.0,138.4 L77.2,141.7 L77.4,140.9 L77.6,136.7 L77.7,142.4 L77.9,138.9 L78.1,139.7 L78.3,142.4 L78.4,141.1 L78.6,138.7 L78.8,142.2 L78.9,139.8 L79.1,137.8 L79.3,139.8 L79.5,138.8 L79.6,140.2 L79.8,139.9 L80.0,139.5 L80.1,139.1 L80.3,137.2 L80.5,137.9 L80.7,134.7 L80.8,137.0 L81.0,137.0 L81.2,133.5 L81.4,137.3 L81.5,138.3 L81.7,137.0 L81.9,138.5 L82.0,135.9 L82.2,134.6 L82.4,136.0 L82.6,137.5 L82.7,137.3 L82.9,136.2 L83.1,135.1 L83.2,137.8 L83.4,137.6 L83.6,135.1 L83.8,136.4 L83.9,136.3 L84.1,135.9 L84.3,137.8 L84.4,136.7 L84.6,134.8 L84.8,136.6 L85.0,136.4 L85.1,135.6 L85.3,135.4 L85.5,131.6 L85.7,136.9 L85.8,135.3 L86.0,132.5 L86.2,135.5 L86.3,135.1 L86.5,138.2 L86.7,133.9 L86.9,134.3 L87.0,134.4 L87.2,136.2 L87.4,135.3 L87.5,135.8 L87.7,133.9 L87.9,135.1 L88.1,133.1 L88.2,136.5 L88.4,135.0 L88.6,138.9 L88.8,134.5 L88.9,132.9 L89.1,134.4 L89.3,130.0 L89.4,135.5 L89.6,134.3 L89.8,135.4 L90.0,134.6 L90.1,134.5 L90.3,136.0 L90.5,135.1 L90.6,130.3 L90.8,134.0 L91.0,132.2 L91.2,135.9 L91.3,133.9 L91.5,132.9 L91.7,134.4 L91.9,134.9 L92.0,134.3 L92.2,133.6 L92.4,132.2 L92.5,131.4 L92.7,135.3 L92.9,136.6 L93.1,133.6 L93.2,133.2 L93.4,131.6 L93.6,130.9 L93.7,133.7 L93.9,129.3 L94.1,132.3 L94.3,135.6 L94.4,131.1 L94.6,131.9 L94.8,131.9 L95.0,134.7 L95.1,132.8 L95.3,131.7 L95.5,132.0 L95.6,130.5 L95.8,129.2 L96.0,128.6 L96.2,128.9 L96.3,131.3 L96.5,128.3 L96.7,130.9 L96.8,129.8 L97.0,131.9 L97.2,133.9 L97.4,135.4 L97.5,131.4 L97.7,132.9 L97.9,131.6 L98.1,129.7 L98.2,133.6 L98.4,133.7 L98.6,130.3 L98.7,129.8 L98.9,131.0 L99.1,131.3 L99.3,133.0 L99.4,130.5 L99.6,131.8 L99.8,130.2 L99.9,129.4 L100.1,132.2 L100.3,130.8 L100.5,131.1 L100.6,129.9 L100.8,128.6 L101.0,130.3 L101.2,130.3 L101.3,129.8 L101.5,132.0 L101.7,131.2 L101.8,130.6 L102.0,128.8 L102.2,129.0 L102.4,127.4 L102.5,133.0 L102.7,131.1 L102.9,134.0 L103.0,132.2 L103.2,133.9 L103.4,129.2 L103.6,129.7 L103.7,132.7 L103.9,129.9 L104.1,129.2 L104.3,127.4 L104.4,128.8 L104.6,129.4 L104.8,129.7 L104.9,128.4 L105.1,128.8 L105.3,130.3 L105.5,131.4 L105.6,128.0 L105.8,131.1 L106.0,130.2 L106.1,128.3 L106.3,129.9 L106.5,128.0 L106.7,131.7 L106.8,128.9 L107.0,132.3 L107.2,132.6 L107.4,131.7 L107.5,129.5 L107.7,130.7 L107.9,132.3 L108.0,128.1 L108.2,131.7 L108.4,130.2 L108.6,129.3 L108.7,130.7 L108.9,129.4 L109.1,129.1 L109.2,130.7 L109.4,128.9 L109.6,131.4 L109.8,132.0 L109.9,129.9 L110.1,132.0 L110.3,129.8 L110.5,130.3 L110.6,130.6 L110.8,129.0 L111.0,129.0 L111.1,134.4 L111.3,129.9 L111.5,129.3 L111.7,128.3 L111.8,130.1 L112.0,131.2 L112.2,129.1 L112.3,128.2 L112.5,132.7 L112.7,131.3 L112.9,130.2 L113.0,133.4 L113.2,130.1 L113.4,128.2 L113.6,131.2 L113.7,129.2 L113.9,130.9 L114.1,128.7 L114.2,128.0 L114.4,127.0 L114.6,129.2 L114.8,127.7 L114.9,129.0 L115.1,130.0 L115.3,126.6 L115.4,129.7 L115.6,128.4 L115.8,124.8 L116.0,127.6 L116.1,130.6 L116.3,128.6 L116.5,130.1 L116.7,129.3 L116.8,132.0 L117.0,129.5 L117.2,132.4 L117.3,129.2 L117.5,129.1 L117.7,128.3 L117.9,125.7 L118.0,132.1 L118.2,131.3 L118.4,130.7 L118.5,129.6 L118.7,126.8 L118.9,128.8 L119.1,129.4 L119.2,130.2 L119.4,129.5 L119.6,129.5 L119.8,128.8 L119.9,130.8 L120.1,128.7 L120.3,128.0 L120.4,128.5 L120.6,131.3 L120.8,127.7 L121.0,127.7 L121.1,128.4 L121.3,130.5 L121.5,130.9 L121.6,128.1 L121.8,129.9 L122.0,130.1 L122.2,126.2 L122.3,126.2 L122.5,126.7 L122.7,125.4 L122.9,126.4 L123.0,130.3 L123.2,126.2 L123.4,128.1 L123.5,127.5 L123.7,125.6 L123.9,127.6 L124.1,125.8 L124.2,128.3 L124.4,129.3 L124.6,129.4 L124.7,128.1 L124.9,130.9 L125.1,128.3 L125.3,128.4 L125.4,129.3 L125.6,131.9 L125.8,131.6 L125.9,126.8 L126.1,129.3 L126.3,125.4 L126.5,128.8 L126.6,127.0 L126.8,129.9 L127.0,128.6 L127.2,127.5 L127.3,126.3 L127.5,124.4 L127.7,125.7 L127.8,129.7 L128.0,127.4 L128.2,127.7 L128.4,128.9 L128.5,127.2 L128.7,125.5 L128.9,129.2 L129.0,126.6 L129.2,126.3 L129.4,130.1 L129.6,125.5 L129.7,125.9 L129.9,128.2 L130.1,125.6 L130.3,127.9 L130.4,126.7 L130.6,127.0 L130.8,129.6 L130.9,127.7 L131.1,128.8 L131.3,129.4 L131.5,130.4 L131.6,129.8 L131.8,130.4 L132.0,126.4 L132.1,131.2 L132.3,128.1 L132.5,129.2 L132.7,130.2 L132.8,126.9 L133.0,129.4 L133.2,126.3 L133.4,128.5 L133.5,127.8 L133.7,128.2 L133.9,127.0 L134.0,126.5 L134.2,128.7 L134.4,127.9 L134.6,124.9 L134.7,128.4 L134.9,124.3 L135.1,128.3 L135.2,128.6 L135.4,130.8 L135.6,129.3 L135.8,130.7 L135.9,128.6 L136.1,126.3 L136.3,127.5 L136.5,128.8 L136.6,129.6 L136.8,128.8 L137.0,130.3 L137.1,129.9 L137.3,124.6 L137.5,127.7 L137.7,129.8 L137.8,127.6 L138.0,125.9 L138.2,128.9 L138.3,128.1 L138.5,130.1 L138.7,130.3 L138.9,125.2 L139.0,121.8 L139.2,128.6 L139.4,129.9 L139.6,124.5 L139.7,125.1 L139.9,126.3 L140.1,124.5 L140.2,127.4 L140.4,126.1 L140.6,125.2 L140.8,127.0 L140.9,125.6 L141.1,126.7 L141.3,125.4 L141.4,126.2 L141.6,129.8 L141.8,126.1 L142.0,128.5 L142.1,127.9 L142.3,129.6 L142.5,125.6 L142.7,127.8 L142.8,128.0 L143.0,125.5 L143.2,126.2 L143.3,127.9 L143.5,131.2 L143.7,126.7 L143.9,128.0 L144.0,128.0 L144.2,126.1 L144.4,128.5 L144.5,127.6 L144.7,126.3 L144.9,126.9 L145.1,128.7 L145.2,125.3 L145.4,126.0 L145.6,124.9 L145.8,128.2 L145.9,127.6 L146.1,126.0 L146.3,127.0 L146.4,127.3 L146.6,127.8 L146.8,128.0 L147.0,128.6 L147.1,128.3 L147.3,126.7 L147.5,127.9 L147.6,130.2 L147.8,127.7 L148.0,125.0 L148.2,125.8 L148.3,131.0 L148.5,129.2 L148.7,126.5 L148.9,127.5 L149.0,127.5 L149.2,127.5 L149.4,127.3 L149.5,128.8 L149.7,125.2 L149.9,128.7 L150.1,127.4 L150.2,124.8 L150.4,125.2 L150.6,127.3 L150.7,127.2 L150.9,128.4 L151.1,128.0 L151.3,127.8 L151.4,125.1 L151.6,128.0 L151.8,126.4 L152.0,126.6 L152.1,126.6 L152.3,127.6 L152.5,126.0 L152.6,127.0 L152.8,126.6 L153.0,127.8 L153.2,131.8 L153.3,126.7 L153.5,127.2 L153.7,130.4 L153.8,130.8 L154.0,130.8 L154.2,134.0 L154.4,131.0 L154.5,132.0 L154.7,132.2 L154.9,132.8 L155.1,139.4 L155.2,135.1 L155.4,137.7 L155.6,134.8 L155.7,135.4 L155.9,136.1 L156.1,138.6 L156.3,132.9 L156.4,139.1 L156.6,141.1 L156.8,136.9 L156.9,142.4 L157.1,135.6 L157.3,137.7 L157.5,137.2 L157.6,138.2 L157.8,139.7 L158.0,143.5 L158.2,142.4 L158.3,140.6 L158.5,142.6 L158.7,141.6 L158.8,144.2 L159.0,144.7 L159.2,142.5 L159.4,141.9 L159.5,143.6 L159.7,146.1 L159.9,147.7 L160.0,140.4 L160.2,147.1 L160.4,146.7 L160.6,146.5 L160.7,143.3 L160.9,147.3 L161.1,144.8 L161.3,145.4 L161.4,148.5 L161.6,146.0 L161.8,148.8 L161.9,146.9 L162.1,145.1 L162.3,147.3 L162.5,148.8 L162.6,147.9 L162.8,147.7 L163.0,147.0 L163.1,152.5 L163.3,151.7 L163.5,147.2 L163.7,148.5 L163.8,148.6 L164.0,148.4 L164.2,149.7 L164.4,150.4 L164.5,149.3 L164.7,148.0 L164.9,148.7 L165.0,149.4 L165.2,151.6 L165.4,149.1 L165.6,152.1 L165.7,151.2 L165.9,149.9 L166.1,150.0 L166.2,148.1 L166.4,148.9 L166.6,150.1 L166.8,151.8 L166.9,151.3 L167.1,151.9 L167.3,148.0 L167.5,150.6 L167.6,152.5 L167.8,152.9 L168.0,148.9 L168.1,153.3 L168.3,151.0 L168.5,151.7 L168.7,149.8 L168.8,153.9 L169.0,151.3 L169.2,152.1 L169.3,150.9 L169.5,150.2 L169.7,153.0 L169.9,153.8 L170.0,151.5 L170.2,156.2 L170.4,153.3 L170.5,155.8 L170.7,156.5 L170.9,157.3 L171.1,157.8 L171.2,152.8 L171.4,152.7 L171.6,154.4 L171.8,152.6 L171.9,154.8 L172.1,155.8 L172.3,157.0 L172.4,153.2 L172.6,153.3 L172.8,152.3 L173.0,156.7 L173.1,155.5 L173.3,157.9 L173.5,153.1 L173.6,154.2 L173.8,155.1 L174.0,156.3 L174.2,156.7 L174.3,157.2 L174.5,154.2 L174.7,158.0 L174.9,155.0 L175.0,156.1 L175.2,158.5 L175.4,159.4 L175.5,158.0 L175.7,156.4 L175.9,158.8 L176.1,154.6 L176.2,153.4 L176.4,154.5 L176.6,158.9 L176.7,160.4 L176.9,154.1 L177.1,152.8 L177.3,156.5 L177.4,155.1 L177.6,156.7 L177.8,158.0 L178.0,154.7 L178.1,157.9 L178.3,155.3 L178.5,153.4 L178.6,157.1 L178.8,152.9 L179.0,159.8 L179.2,155.1 L179.3,157.3 L179.5,151.9 L179.7,157.4 L179.8,159.1 L180.0,154.1 L180.2,160.7 L180.4,156.5 L180.5,159.2 L180.7,154.7 L180.9,157.9 L181.1,155.9 L181.2,157.8 L181.4,160.1 L181.6,162.6 L181.7,154.8 L181.9,158.2 L182.1,161.2 L182.3,159.7 L182.4,157.2 L182.6,162.2 L182.8,154.6 L182.9,160.0 L183.1,160.1 L183.3,156.6 L183.5,158.6 L183.6,161.1 L183.8,157.2 L184.0,158.2 L184.2,156.7 L184.3,161.0 L184.5,161.1 L184.7,157.7 L184.8,160.2 L185.0,164.1 L185.2,161.2 L185.4,159.0 L185.5,161.9 L185.7,157.9 L185.9,161.4 L186.0,160.5 L186.2,164.0 L186.4,162.1 L186.6,160.7 L186.7,159.0 L186.9,159.8 L187.1,158.1 L187.3,164.7 L187.4,160.1 L187.6,160.7 L187.8,163.0 L187.9,161.0 L188.1,162.4 L188.3,160.1 L188.5,161.8 L188.6,160.1 L188.8,162.7 L189.0,158.2 L189.1,159.9 L189.3,156.9 L189.5,160.7 L189.7,161.3 L189.8,160.0 L190.0,161.1 L190.2,162.3 L190.4,160.2 L190.5,160.6 L190.7,161.9 L190.9,161.6 L191.0,163.0 L191.2,160.6 L191.4,163.6 L191.6,157.5 L191.7,161.1 L191.9,158.9 L192.1,163.4 L192.2,160.0 L192.4,161.3 L192.6,159.0 L192.8,159.1 L192.9,164.3 L193.1,158.6 L193.3,164.2 L193.5,158.5 L193.6,161.7 L193.8,163.9 L194.0,160.0 L194.1,161.1 L194.3,163.2 L194.5,162.8 L194.7,160.6 L194.8,164.7 L195.0,163.4 L195.2,157.7 L195.3,163.1 L195.5,160.8 L195.7,160.6 L195.9,159.8 L196.0,160.0 L196.2,167.2 L196.4,162.8 L196.6,159.3 L196.7,163.6 L196.9,158.1 L197.1,161.5 L197.2,164.7 L197.4,161.2 L197.6,158.1 L197.8,163.8 L197.9,161.1 L198.1,164.2 L198.3,163.7 L198.4,162.5 L198.6,161.5 L198.8,162.0 L199.0,162.3 L199.1,157.7 L199.3,165.1 L199.5,166.6 L199.7,161.7 L199.8,162.5 L200.0,165.7 L200.2,158.6 L200.3,163.9 L200.5,165.2 L200.7,161.3 L200.9,160.8 L201.0,157.2 L201.2,165.3 L201.4,164.5 L201.5,162.5 L201.7,162.9 L201.9,162.4 L202.1,163.7 L202.2,165.4 L202.4,163.3 L202.6,160.8 L202.8,160.9 L202.9,164.0 L203.1,161.7 L203.3,162.1 L203.4,164.1 L203.6,163.7 L203.8,162.5 L204.0,156.7 L204.1,162.0 L204.3,164.4 L204.5,162.8 L204.6,163.5 L204.8,159.8 L205.0,166.5 L205.2,164.1 L205.3,160.1 L205.5,161.3 L205.7,162.4 L205.9,161.1 L206.0,165.4 L206.2,161.7 L206.4,165.1 L206.5,165.6 L206.7,162.1 L206.9,164.8 L207.1,164.1 L207.2,162.3 L207.4,165.7 L207.6,162.2 L207.7,158.6 L207.9,163.8 L208.1,161.3 L208.3,161.6 L208.4,165.9 L208.6,166.1 L208.8,163.3 L209.0,167.4 L209.1,162.8 L209.3,162.2 L209.5,161.9 L209.6,161.9 L209.8,160.4 L210.0,163.9 L210.2,160.3 L210.3,162.1 L210.5,162.2 L210.7,163.7 L210.8,161.4 L211.0,165.0 L211.2,161.9 L211.4,161.1 L211.5,164.6 L211.7,165.1 L211.9,164.9 L212.0,163.7 L212.2,162.6 L212.4,161.5 L212.6,159.3 L212.7,160.0 L212.9,163.1 L213.1,164.3 L213.3,166.1 L213.4,162.1 L213.6,162.7 L213.8,164.2 L213.9,164.1 L214.1,163.9 L214.3,169.4 L214.5,164.0 L214.6,163.0 L214.8,164.1 L215.0,166.1 L215.1,163.7 L215.3,163.0 L215.5,160.0 L215.7,161.7 L215.8,162.8 L216.0,164.0 L216.2,166.6 L216.4,164.9 L216.5,166.9 L216.7,164.3 L216.9,161.5 L217.0,161.0 L217.2,161.5 L217.4,163.1 L217.6,161.3 L217.7,163.9 L217.9,167.4 L218.1,163.1 L218.2,162.9 L218.4,166.6 L218.6,164.2 L218.8,168.9 L218.9,164.8 L219.1,161.3 L219.3,165.0 L219.5,161.2 L219.6,163.6 L219.8,165.4 L220.0,167.8 L220.1,162.5 L220.3,162.7 L220.5,166.7 L220.7,164.7 L220.8,161.8 L221.0,165.4 L221.2,162.6 L221.3,167.5 L221.5,165.5 L221.7,162.4 L221.9,166.6 L222.0,167.2 L222.2,167.4 L222.4,164.7 L222.6,167.0 L222.7,164.2 L222.9,162.8 L223.1,160.8 L223.2,164.8 L223.4,160.4 L223.6,162.2 L223.8,164.1 L223.9,162.4 L224.1,160.4 L224.3,160.4 L224.4,162.2 L224.6,164.2 L224.8,162.2 L225.0,163.7 L225.1,163.8 L225.3,164.0 L225.5,160.5 L225.7,166.7 L225.8,164.7 L226.0,166.9 L226.2,162.6 L226.3,161.9 L226.5,161.4 L226.7,164.6 L226.9,163.9 L227.0,162.2 L227.2,163.5 L227.4,163.4 L227.5,163.2 L227.7,163.2 L227.9,163.9 L228.1,162.6 L228.2,166.7 L228.4,164.5 L228.6,166.0 L228.8,163.6 L228.9,164.9 L229.1,162.3 L229.3,160.9 L229.4,166.0 L229.6,165.0 L229.8,162.9 L230.0,160.5 L230.1,162.3 L230.3,163.3 L230.5,164.3 L230.6,165.1 L230.8,163.3 L231.0,163.1 L231.2,163.9 L231.3,165.6" fill="none" stroke="#141414" stroke-width="0.9" stroke-linejoin="round" />
<path d="M58.1,182.0 L58.3,182.1 L58.4,183.0 L58.6,180.3 L58.8,181.6 L59.0,183.8 L59.1,179.4 L59.3,179.3 L59.5,181.1 L59.7,181.7 L59.8,181.1 L60.0,182.3 L60.2,178.9 L60.3,178.0 L60.5,178.7 L60.7,180.3 L60.9,180.5 L61.0,180.2 L61.2,178.1 L61.4,182.2 L61.5,181.1 L61.7,182.4 L61.9,183.1 L62.1,180.7 L62.2,179.5 L62.4,182.9 L62.6,179.5 L62.8,179.8 L62.9,180.2 L63.1,178.7 L63.3,182.0 L63.4,178.2 L63.6,181.9 L63.8,180.2 L64.0,183.2 L64.1,179.1 L64.3,180.8 L64.5,182.0 L64.6,183.1 L64.8,181.3 L65.0,179.4 L65.2,180.7 L65.3,182.1 L65.5,182.8 L65.7,183.6 L65.9,182.5 L66.0,184.4 L66.2,182.4 L66.4,179.8 L66.5,181.6 L66.7,181.7 L66.9,182.4 L67.1,179.9 L67.2,179.0 L67.4,176.5 L67.6,178.8 L67.7,178.4 L67.9,176.6 L68.1,176.6 L68.3,173.4 L68.4,173.3 L68.6,173.4 L68.8,171.1 L69.0,168.7 L69.1,168.4 L69.3,170.0 L69.5,168.3 L69.6,166.9 L69.8,165.8 L70.0,167.0 L70.2,168.2 L70.3,164.8 L70.5,166.6 L70.7,164.9 L70.8,164.5 L71.0,162.2 L71.2,164.0 L71.4,162.8 L71.5,163.2 L71.7,163.8 L71.9,160.8 L72.1,162.7 L72.2,160.7 L72.4,160.9 L72.6,164.1 L72.7,163.4 L72.9,166.0 L73.1,159.9 L73.3,159.7 L73.4,160.4 L73.6,160.2 L73.8,159.5 L73.9,159.7 L74.1,158.7 L74.3,158.5 L74.5,160.0 L74.6,155.5 L74.8,156.1 L75.0,158.2 L75.2,153.7 L75.3,153.1 L75.5,155.1 L75.7,155.4 L75.8,157.9 L76.0,157.2 L76.2,159.2 L76.4,157.4 L76.5,154.8 L76.7,157.1 L76.9,159.1 L77.0,153.5 L77.2,152.6 L77.4,153.0 L77.6,158.1 L77.7,154.2 L77.9,156.7 L78.1,155.4 L78.3,153.7 L78.4,152.0 L78.6,155.5 L78.8,154.9 L78.9,156.6 L79.1,154.3 L79.3,155.7 L79.5,154.8 L79.6,152.6 L79.8,153.5 L80.0,153.4 L80.1,153.1 L80.3,152.3 L80.5,151.3 L80.7,155.1 L80.8,155.8 L81.0,152.1 L81.2,151.5 L81.4,150.6 L81.5,151.7 L81.7,150.0 L81.9,151.9 L82.0,153.8 L82.2,151.1 L82.4,154.2 L82.6,153.8 L82.7,151.9 L82.9,153.1 L83.1,150.7 L83.2,152.6 L83.4,149.0 L83.6,153.5 L83.8,150.3 L83.9,151.9 L84.1,148.9 L84.3,152.3 L84.4,150.2 L84.6,156.4 L84.8,152.1 L85.0,148.4 L85.1,151.0 L85.3,151.2 L85.5,149.8 L85.7,147.3 L85.8,152.9 L86.0,151.0 L86.2,151.4 L86.3,149.6 L86.5,152.0 L86.7,153.1 L86.9,152.9 L87.0,149.0 L87.2,150.0 L87.4,148.9 L87.5,153.2 L87.7,151.9 L87.9,151.2 L88.1,148.9 L88.2,149.6 L88.4,150.7 L88.6,152.2 L88.8,150.5 L88.9,151.4 L89.1,148.9 L89.3,147.4 L89.4,150.3 L89.6,152.3 L89.8,146.2 L90.0,149.0 L90.1,149.2 L90.3,149.9 L90.5,149.6 L90.6,149.8 L90.8,149.6 L91.0,152.5 L91.2,151.2 L91.3,150.2 L91.5,149.9 L91.7,149.9 L91.9,149.1 L92.0,152.5 L92.2,151.0 L92.4,150.4 L92.5,148.8 L92.7,149.3 L92.9,145.7 L93.1,149.7 L93.2,149.6 L93.4,151.6 L93.6,146.2 L93.7,149.2 L93.9,149.5 L94.1,150.4 L94.3,149.1 L94.4,149.7 L94.6,147.1 L94.8,150.5 L95.0,149.8 L95.1,150.0 L95.3,148.1 L95.5,148.5 L95.6,147.4 L95.8,148.0 L96.0,148.1 L96.2,149.0 L96.3,147.4 L96.5,147.9 L96.7,148.1 L96.8,151.1 L97.0,149.2 L97.2,149.7 L97.4,151.4 L97.5,146.0 L97.7,145.9 L97.9,146.3 L98.1,147.1 L98.2,145.5 L98.4,150.6 L98.6,145.7 L98.7,151.4 L98.9,147.5 L99.1,147.9 L99.3,147.5 L99.4,147.3 L99.6,147.1 L99.8,149.7 L99.9,149.7 L100.1,150.3 L100.3,148.6 L100.5,149.2 L100.6,151.3 L100.8,147.0 L101.0,150.4 L101.2,149.0 L101.3,149.4 L101.5,149.4 L101.7,147.2 L101.8,149.1 L102.0,150.4 L102.2,149.0 L102.4,149.6 L102.5,150.1 L102.7,145.6 L102.9,145.3 L103.0,149.8 L103.2,144.7 L103.4,144.0 L103.6,149.2 L103.7,146.7 L103.9,147.9 L104.1,146.1 L104.3,152.5 L104.4,146.8 L104.6,148.4 L104.8,146.7 L104.9,146.1 L105.1,151.7 L105.3,147.9 L105.5,147.7 L105.6,146.5 L105.8,145.7 L106.0,146.4 L106.1,148.8 L106.3,146.4 L106.5,148.9 L106.7,145.9 L106.8,147.6 L107.0,147.4 L107.2,146.7 L107.4,149.6 L107.5,147.2 L107.7,148.4 L107.9,145.1 L108.0,144.6 L108.2,149.2 L108.4,150.5 L108.6,146.5 L108.7,147.8 L108.9,148.5 L109.1,142.9 L109.2,147.5 L109.4,148.3 L109.6,147.0 L109.8,145.9 L109.9,143.7 L110.1,145.8 L110.3,148.1 L110.5,147.3 L110.6,143.5 L110.8,149.9 L111.0,147.1 L111.1,145.3 L111.3,146.7 L111.5,147.6 L111.7,148.6 L111.8,147.0 L112.0,146.4 L112.2,146.6 L112.3,145.3 L112.5,146.6 L112.7,144.8 L112.9,146.8 L113.0,145.7 L113.2,147.9 L113.4,144.8 L113.6,145.1 L113.7,146.1 L113.9,149.0 L114.1,146.9 L114.2,151.8 L114.4,147.7 L114.6,146.6 L114.8,148.3 L114.9,146.4 L115.1,145.5 L115.3,144.0 L115.4,146.6 L115.6,149.1 L115.8,150.6 L116.0,147.0 L116.1,145.2 L116.3,144.8 L116.5,146.3 L116.7,147.8 L116.8,147.6 L117.0,146.5 L117.2,146.7 L117.3,145.6 L117.5,146.1 L117.7,143.1 L117.9,146.1 L118.0,145.7 L118.2,144.9 L118.4,144.9 L118.5,147.7 L118.7,149.4 L118.9,148.9 L119.1,146.3 L119.2,145.8 L119.4,146.1 L119.6,145.2 L119.8,144.4 L119.9,147.7 L120.1,142.3 L120.3,142.0 L120.4,145.2 L120.6,146.7 L120.8,145.7 L121.0,148.5 L121.1,146.2 L121.3,147.5 L121.5,146.2 L121.6,146.5 L121.8,142.6 L122.0,147.5 L122.2,145.5 L122.3,146.7 L122.5,143.7 L122.7,144.5 L122.9,148.6 L123.0,147.9 L123.2,146.0 L123.4,147.5 L123.5,145.4 L123.7,146.0 L123.9,148.0 L124.1,146.6 L124.2,145.1 L124.4,146.5 L124.6,145.8 L124.7,145.3 L124.9,146.0 L125.1,143.8 L125.3,148.2 L125.4,145.1 L125.6,146.5 L125.8,145.0 L125.9,144.3 L126.1,144.1 L126.3,144.4 L126.5,144.3 L126.6,144.5 L126.8,145.7 L127.0,144.1 L127.2,143.6 L127.3,144.1 L127.5,145.2 L127.7,145.0 L127.8,148.8 L128.0,146.9 L128.2,145.8 L128.4,143.8 L128.5,143.4 L128.7,145.4 L128.9,147.5 L129.0,144.4 L129.2,143.3 L129.4,143.8 L129.6,146.4 L129.7,146.8 L129.9,146.2 L130.1,146.5 L130.3,143.1 L130.4,143.9 L130.6,141.1 L130.8,142.4 L130.9,143.6 L131.1,146.2 L131.3,143.8 L131.5,144.2 L131.6,147.6 L131.8,147.4 L132.0,146.3 L132.1,143.4 L132.3,146.2 L132.5,147.5 L132.7,145.4 L132.8,144.8 L133.0,148.1 L133.2,143.1 L133.4,147.6 L133.5,144.6 L133.7,145.5 L133.9,147.7 L134.0,146.5 L134.2,146.2 L134.4,146.5 L134.6,144.5 L134.7,145.5 L134.9,148.4 L135.1,145.3 L135.2,147.2 L135.4,145.7 L135.6,144.9 L135.8,145.4 L135.9,143.6 L136.1,145.4 L136.3,146.2 L136.5,142.5 L136.6,143.9 L136.8,145.3 L137.0,145.2 L137.1,145.7 L137.3,144.9 L137.5,146.9 L137.7,142.1 L137.8,143.4 L138.0,149.1 L138.2,147.1 L138.3,145.7 L138.5,146.8 L138.7,149.0 L138.9,144.4 L139.0,147.8 L139.2,144.2 L139.4,144.7 L139.6,142.6 L139.7,146.8 L139.9,142.2 L140.1,147.4 L140.2,142.8 L140.4,143.5 L140.6,144.6 L140.8,146.8 L140.9,142.4 L141.1,143.8 L141.3,147.8 L141.4,149.5 L141.6,146.3 L141.8,146.8 L142.0,143.9 L142.1,145.0 L142.3,144.7 L142.5,146.1 L142.7,143.9 L142.8,146.4 L143.0,148.0 L143.2,149.7 L143.3,144.6 L143.5,146.4 L143.7,148.6 L143.9,147.2 L144.0,146.2 L144.2,144.5 L144.4,149.2 L144.5,146.4 L144.7,144.7 L144.9,144.9 L145.1,144.5 L145.2,142.6 L145.4,147.1 L145.6,146.7 L145.8,143.8 L145.9,142.9 L146.1,145.1 L146.3,146.0 L146.4,147.0 L146.6,144.1 L146.8,144.4 L147.0,146.9 L147.1,146.1 L147.3,147.0 L147.5,144.2 L147.6,145.2 L147.8,143.0 L148.0,142.9 L148.2,144.8 L148.3,143.5 L148.5,143.6 L148.7,142.8 L148.9,146.0 L149.0,144.1 L149.2,142.4 L149.4,144.3 L149.5,145.9 L149.7,145.0 L149.9,141.8 L150.1,145.7 L150.2,146.3 L150.4,143.6 L150.6,145.7 L150.7,147.7 L150.9,147.8 L151.1,145.6 L151.3,146.7 L151.4,143.3 L151.6,146.6 L151.8,147.9 L152.0,146.9 L152.1,147.5 L152.3,143.7 L152.5,146.7 L152.6,142.7 L152.8,143.9 L153.0,141.5 L153.2,145.1 L153.3,143.5 L153.5,150.4 L153.7,147.5 L153.8,148.7 L154.0,145.0 L154.2,148.5 L154.4,147.1 L154.5,150.6 L154.7,152.2 L154.9,149.7 L155.1,147.3 L155.2,150.3 L155.4,147.1 L155.6,151.3 L155.7,151.7 L155.9,152.3 L156.1,152.4 L156.3,153.4 L156.4,152.5 L156.6,154.1 L156.8,154.8 L156.9,149.9 L157.1,151.6 L157.3,154.3 L157.5,155.0 L157.6,156.9 L157.8,152.6 L158.0,155.6 L158.2,150.4 L158.3,158.4 L158.5,154.2 L158.7,152.5 L158.8,156.3 L159.0,151.2 L159.2,153.9 L159.4,154.1 L159.5,158.1 L159.7,154.4 L159.9,154.4 L160.0,156.3 L160.2,152.7 L160.4,155.9 L160.6,161.5 L160.7,156.0 L160.9,152.7 L161.1,157.6 L161.3,155.0 L161.4,158.0 L161.6,157.2 L161.8,163.3 L161.9,161.6 L162.1,158.4 L162.3,158.8 L162.5,161.6 L162.6,156.4 L162.8,157.6 L163.0,160.1 L163.1,162.5 L163.3,156.9 L163.5,159.4 L163.7,157.0 L163.8,156.4 L164.0,159.8 L164.2,159.8 L164.4,157.8 L164.5,159.9 L164.7,163.7 L164.9,158.4 L165.0,159.1 L165.2,161.2 L165.4,159.1 L165.6,161.1 L165.7,161.4 L165.9,158.8 L166.1,163.5 L166.2,164.1 L166.4,161.3 L166.6,164.1 L166.8,159.4 L166.9,162.8 L167.1,164.8 L167.3,162.1 L167.5,166.0 L167.6,158.6 L167.8,161.9 L168.0,160.6 L168.1,160.8 L168.3,161.3 L168.5,164.2 L168.7,160.3 L168.8,162.7 L169.0,163.7 L169.2,166.2 L169.3,159.5 L169.5,162.5 L169.7,163.0 L169.9,166.2 L170.0,160.5 L170.2,162.7 L170.4,160.5 L170.5,162.6 L170.7,164.1 L170.9,161.6 L171.1,166.1 L171.2,166.0 L171.4,162.6 L171.6,161.0 L171.8,160.3 L171.9,163.1 L172.1,163.0 L172.3,162.2 L172.4,163.4 L172.6,164.0 L172.8,161.6 L173.0,164.1 L173.1,163.9 L173.3,161.1 L173.5,163.0 L173.6,164.3 L173.8,162.1 L174.0,164.1 L174.2,162.3 L174.3,165.2 L174.5,165.1 L174.7,166.4 L174.9,161.2 L175.0,160.6 L175.2,160.9 L175.4,162.8 L175.5,163.1 L175.7,164.0 L175.9,162.6 L176.1,164.3 L176.2,166.0 L176.4,161.8 L176.6,161.8 L176.7,162.6 L176.9,163.8 L177.1,164.5 L177.3,163.5 L177.4,163.4 L177.6,165.9 L177.8,164.8 L178.0,166.1 L178.1,161.8 L178.3,166.9 L178.5,166.9 L178.6,166.5 L178.8,164.6 L179.0,167.0 L179.2,161.3 L179.3,163.7 L179.5,170.2 L179.7,165.1 L179.8,164.8 L180.0,168.2 L180.2,165.6 L180.4,165.2 L180.5,166.8 L180.7,165.6 L180.9,164.7 L181.1,166.4 L181.2,165.5 L181.4,167.9 L181.6,164.0 L181.7,166.8 L181.9,163.2 L182.1,161.4 L182.3,162.1 L182.4,166.5 L182.6,164.7 L182.8,166.3 L182.9,164.9 L183.1,167.7 L183.3,168.0 L183.5,166.0 L183.6,167.3 L183.8,163.1 L184.0,164.1 L184.2,165.0 L184.3,166.2 L184.5,166.3 L184.7,163.8 L184.8,165.6 L185.0,165.9 L185.2,161.9 L185.4,165.7 L185.5,166.8 L185.7,166.8 L185.9,163.3 L186.0,166.9 L186.2,167.0 L186.4,163.7 L186.6,163.4 L186.7,162.8 L186.9,167.4 L187.1,164.5 L187.3,166.8 L187.4,164.7 L187.6,169.3 L187.8,166.7 L187.9,164.1 L188.1,166.2 L188.3,171.9 L188.5,164.7 L188.6,166.2 L188.8,167.5 L189.0,166.5 L189.1,167.3 L189.3,164.3 L189.5,166.4 L189.7,169.4 L189.8,167.7 L190.0,162.4 L190.2,163.7 L190.4,164.4 L190.5,168.0 L190.7,165.5 L190.9,164.4 L191.0,166.3 L191.2,165.4 L191.4,164.5 L191.6,164.6 L191.7,166.0 L191.9,165.8 L192.1,169.6 L192.2,167.4 L192.4,165.0 L192.6,163.4 L192.8,166.6 L192.9,164.5 L193.1,166.9 L193.3,168.9 L193.5,165.8 L193.6,166.0 L193.8,169.0 L194.0,169.1 L194.1,166.9 L194.3,167.8 L194.5,165.7 L194.7,169.6 L194.8,165.2 L195.0,168.0 L195.2,166.3 L195.3,170.1 L195.5,164.8 L195.7,166.3 L195.9,162.5 L196.0,170.6 L196.2,171.0 L196.4,165.6 L196.6,164.9 L196.7,170.6 L196.9,165.7 L197.1,165.0 L197.2,164.1 L197.4,167.1 L197.6,170.7 L197.8,171.5 L197.9,163.0 L198.1,166.7 L198.3,165.8 L198.4,168.7 L198.6,168.5 L198.8,168.4 L199.0,169.7 L199.1,168.2 L199.3,169.9 L199.5,168.5 L199.7,165.3 L199.8,167.3 L200.0,168.9 L200.2,164.0 L200.3,165.0 L200.5,167.5 L200.7,171.3 L200.9,164.9 L201.0,164.8 L201.2,168.8 L201.4,164.5 L201.5,169.5 L201.7,168.2 L201.9,168.2 L202.1,166.9 L202.2,167.8 L202.4,164.7 L202.6,168.4 L202.8,166.5 L202.9,167.3 L203.1,166.8 L203.3,169.0 L203.4,167.4 L203.6,164.7 L203.8,165.9 L204.0,170.0 L204.1,168.3 L204.3,169.6 L204.5,169.2 L204.6,169.0 L204.8,170.3 L205.0,166.4 L205.2,165.4 L205.3,167.0 L205.5,168.3 L205.7,167.1 L205.9,169.0 L206.0,165.1 L206.2,162.6 L206.4,173.2 L206.5,166.9 L206.7,168.0 L206.9,168.0 L207.1,168.8 L207.2,171.3 L207.4,168.3 L207.6,168.6 L207.7,168.1 L207.9,167.7 L208.1,168.4 L208.3,162.7 L208.4,170.0 L208.6,168.0 L208.8,169.9 L209.0,167.7 L209.1,163.9 L209.3,167.2 L209.5,168.9 L209.6,170.1 L209.8,166.3 L210.0,168.8 L210.2,166.0 L210.3,168.8 L210.5,168.8 L210.7,167.6 L210.8,171.1 L211.0,165.5 L211.2,170.5 L211.4,168.0 L211.5,167.5 L211.7,163.8 L211.9,167.8 L212.0,166.9 L212.2,169.6 L212.4,168.9 L212.6,168.6 L212.7,166.2 L212.9,170.6 L213.1,167.5 L213.3,162.5 L213.4,170.5 L213.6,172.4 L213.8,169.6 L213.9,168.9 L214.1,165.3 L214.3,167.8 L214.5,166.5 L214.6,170.2 L214.8,168.6 L215.0,167.9 L215.1,169.9 L215.3,167.6 L215.5,169.2 L215.7,167.7 L215.8,171.2 L216.0,172.5 L216.2,165.3 L216.4,168.1 L216.5,168.5 L216.7,162.9 L216.9,166.2 L217.0,167.3 L217.2,169.6 L217.4,167.7 L217.6,168.1 L217.7,169.2 L217.9,165.9 L218.1,167.1 L218.2,167.6 L218.4,170.4 L218.6,170.4 L218.8,166.8 L218.9,168.4 L219.1,170.0 L219.3,168.0 L219.5,168.4 L219.6,169.2 L219.8,168.9 L220.0,166.9 L220.1,167.9 L220.3,170.3 L220.5,169.8 L220.7,167.6 L220.8,170.6 L221.0,168.3 L221.2,168.9 L221.3,171.7 L221.5,174.1 L221.7,170.6 L221.9,168.6 L222.0,168.4 L222.2,165.8 L222.4,168.4 L222.6,168.5 L222.7,167.5 L222.9,169.0 L223.1,164.3 L223.2,168.9 L223.4,169.8 L223.6,169.0 L223.8,165.6 L223.9,169.2 L224.1,169.7 L224.3,167.1 L224.4,165.7 L224.6,169.4 L224.8,167.0 L225.0,170.0 L225.1,165.5 L225.3,170.9 L225.5,169.3 L225.7,169.7 L225.8,170.5 L226.0,168.8 L226.2,167.3 L226.3,170.1 L226.5,164.5 L226.7,168.0 L226.9,168.0 L227.0,170.3 L227.2,168.9 L227.4,166.8 L227.5,170.7 L227.7,170.0 L227.9,170.4 L228.1,171.5 L228.2,167.7 L228.4,170.6 L228.6,165.6 L228.8,171.5 L228.9,169.7 L229.1,168.8 L229.3,171.4 L229.4,173.6 L229.6,170.4 L229.8,169.2 L230.0,171.2 L230.1,168.6 L230.3,173.1 L230.5,168.5 L230.6,164.7 L230.8,167.2 L231.0,166.9 L231.2,169.8 L231.3,170.0" fill="none" stroke="#141414" stroke-width="0.9" stroke-linejoin="round" />
<path d="M58.1,181.2 L58.3,181.0 L58.4,180.0 L58.6,181.4 L58.8,180.6 L59.0,180.8 L59.1,182.2 L59.3,179.6 L59.5,178.8 L59.7,179.4 L59.8,180.9 L60.0,179.8 L60.2,182.7 L60.3,182.3 L60.5,182.2 L60.7,181.5 L60.9,179.4 L61.0,182.2 L61.2,181.6 L61.4,183.3 L61.5,182.0 L61.7,183.8 L61.9,179.3 L62.1,181.2 L62.2,179.4 L62.4,179.0 L62.6,180.4 L62.8,180.7 L62.9,181.5 L63.1,182.2 L63.3,185.0 L63.4,181.0 L63.6,182.6 L63.8,182.9 L64.0,182.3 L64.1,181.3 L64.3,179.9 L64.5,182.7 L64.6,182.8 L64.8,178.9 L65.0,179.9 L65.2,179.5 L65.3,181.3 L65.5,183.1 L65.7,178.5 L65.9,178.7 L66.0,182.0 L66.2,180.4 L66.4,179.1 L66.5,176.8 L66.7,179.1 L66.9,180.2 L67.1,181.1 L67.2,180.9 L67.4,179.5 L67.6,179.8 L67.7,176.7 L67.9,176.5 L68.1,176.5 L68.3,177.4 L68.4,174.6 L68.6,174.8 L68.8,173.1 L69.0,175.0 L69.1,171.8 L69.3,172.7 L69.5,169.1 L69.6,173.2 L69.8,168.2 L70.0,166.3 L70.2,170.9 L70.3,167.1 L70.5,168.4 L70.7,171.5 L70.8,169.8 L71.0,166.8 L71.2,167.4 L71.4,166.1 L71.5,166.7 L71.7,164.6 L71.9,167.0 L72.1,168.0 L72.2,167.2 L72.4,166.2 L72.6,167.9 L72.7,166.2 L72.9,166.6 L73.1,166.8 L73.3,166.1 L73.4,166.5 L73.6,164.3 L73.8,165.5 L73.9,164.0 L74.1,167.3 L74.3,164.6 L74.5,165.3 L74.6,167.4 L74.8,160.5 L75.0,165.9 L75.2,162.7 L75.3,162.5 L75.5,161.7 L75.7,164.0 L75.8,167.6 L76.0,161.8 L76.2,162.8 L76.4,161.5 L76.5,162.8 L76.7,160.1 L76.9,161.1 L77.0,162.3 L77.2,157.7 L77.4,162.6 L77.6,165.2 L77.7,161.2 L77.9,160.5 L78.1,160.2 L78.3,161.8 L78.4,160.9 L78.6,162.1 L78.8,161.3 L78.9,159.4 L79.1,161.3 L79.3,159.2 L79.5,160.7 L79.6,160.3 L79.8,161.0 L80.0,158.6 L80.1,160.2 L80.3,161.7 L80.5,160.1 L80.7,158.2 L80.8,159.7 L81.0,161.7 L81.2,161.3 L81.4,162.0 L81.5,158.0 L81.7,159.8 L81.9,158.6 L82.0,158.5 L82.2,160.3 L82.4,157.8 L82.6,159.9 L82.7,159.4 L82.9,163.1 L83.1,159.8 L83.2,160.4 L83.4,161.0 L83.6,159.3 L83.8,161.8 L83.9,160.1 L84.1,163.9 L84.3,160.0 L84.4,160.8 L84.6,157.0 L84.8,159.6 L85.0,158.7 L85.1,164.6 L85.3,160.7 L85.5,162.1 L85.7,157.9 L85.8,158.4 L86.0,159.8 L86.2,159.5 L86.3,159.5 L86.5,159.1 L86.7,158.1 L86.9,158.2 L87.0,159.4 L87.2,160.4 L87.4,156.6 L87.5,159.9 L87.7,160.4 L87.9,155.4 L88.1,159.0 L88.2,159.7 L88.4,161.5 L88.6,160.6 L88.8,156.4 L88.9,158.9 L89.1,156.3 L89.3,160.0 L89.4,156.7 L89.6,157.9 L89.8,158.7 L90.0,161.1 L90.1,156.1 L90.3,158.1 L90.5,158.3 L90.6,156.7 L90.8,159.8 L91.0,155.8 L91.2,157.0 L91.3,157.4 L91.5,157.4 L91.7,159.3 L91.9,158.2 L92.0,157.0 L92.2,158.6 L92.4,155.5 L92.5,156.1 L92.7,155.2 L92.9,159.8 L93.1,154.5 L93.2,157.6 L93.4,158.0 L93.6,157.3 L93.7,154.4 L93.9,155.8 L94.1,155.8 L94.3,155.1 L94.4,154.9 L94.6,154.9 L94.8,155.5 L95.0,156.6 L95.1,156.3 L95.3,159.2 L95.5,157.3 L95.6,160.8 L95.8,157.5 L96.0,157.2 L96.2,158.6 L96.3,158.1 L96.5,155.1 L96.7,157.6 L96.8,156.6 L97.0,153.5 L97.2,156.0 L97.4,155.0 L97.5,155.6 L97.7,155.5 L97.9,154.5 L98.1,156.7 L98.2,155.2 L98.4,157.3 L98.6,157.5 L98.7,155.9 L98.9,158.1 L99.1,161.3 L99.3,157.4 L99.4,154.9 L99.6,158.8 L99.8,156.3 L99.9,158.1 L100.1,160.0 L100.3,158.0 L100.5,161.1 L100.6,155.1 L100.8,157.7 L101.0,156.2 L101.2,156.7 L101.3,159.0 L101.5,157.2 L101.7,154.6 L101.8,155.3 L102.0,157.2 L102.2,157.6 L102.4,156.5 L102.5,158.6 L102.7,156.4 L102.9,159.6 L103.0,158.1 L103.2,155.5 L103.4,156.7 L103.6,157.5 L103.7,156.1 L103.9,156.8 L104.1,156.2 L104.3,154.8 L104.4,156.4 L104.6,158.8 L104.8,155.3 L104.9,157.1 L105.1,153.8 L105.3,154.2 L105.5,155.7 L105.6,155.0 L105.8,157.8 L106.0,158.2 L106.1,156.0 L106.3,154.7 L106.5,153.2 L106.7,156.5 L106.8,156.8 L107.0,156.6 L107.2,156.4 L107.4,155.0 L107.5,158.0 L107.7,154.5 L107.9,157.8 L108.0,152.1 L108.2,155.9 L108.4,155.4 L108.6,158.6 L108.7,155.5 L108.9,159.0 L109.1,154.3 L109.2,156.9 L109.4,155.4 L109.6,155.1 L109.8,154.6 L109.9,153.8 L110.1,154.3 L110.3,154.8 L110.5,156.9 L110.6,157.8 L110.8,154.8 L111.0,155.2 L111.1,156.5 L111.3,155.6 L111.5,153.8 L111.7,154.0 L111.8,156.4 L112.0,157.5 L112.2,158.5 L112.3,156.1 L112.5,155.6 L112.7,157.2 L112.9,153.3 L113.0,152.1 L113.2,156.6 L113.4,154.0 L113.6,155.1 L113.7,154.4 L113.9,155.2 L114.1,155.5 L114.2,154.0 L114.4,154.6 L114.6,156.4 L114.8,154.8 L114.9,156.5 L115.1,155.6 L115.3,154.9 L115.4,154.8 L115.6,158.0 L115.8,154.7 L116.0,157.7 L116.1,155.3 L116.3,154.4 L116.5,158.1 L116.7,157.5 L116.8,154.3 L117.0,155.0 L117.2,158.9 L117.3,153.7 L117.5,156.2 L117.7,156.9 L117.9,154.5 L118.0,156.3 L118.2,155.0 L118.4,154.5 L118.5,151.0 L118.7,153.7 L118.9,154.8 L119.1,155.3 L119.2,154.8 L119.4,154.6 L119.6,156.3 L119.8,154.1 L119.9,156.0 L120.1,155.7 L120.3,154.9 L120.4,153.1 L120.6,153.3 L120.8,159.5 L121.0,152.7 L121.1,154.8 L121.3,154.9 L121.5,152.6 L121.6,156.3 L121.8,156.8 L122.0,158.3 L122.2,156.8 L122.3,153.7 L122.5,156.6 L122.7,157.0 L122.9,154.4 L123.0,156.7 L123.2,156.2 L123.4,156.2 L123.5,154.3 L123.7,156.1 L123.9,155.5 L124.1,155.0 L124.2,157.5 L124.4,155.0 L124.6,157.4 L124.7,156.5 L124.9,155.4 L125.1,154.8 L125.3,155.5 L125.4,153.2 L125.6,155.1 L125.8,154.4 L125.9,156.0 L126.1,156.3 L126.3,152.6 L126.5,158.0 L126.6,153.6 L126.8,156.5 L127.0,154.0 L127.2,157.3 L127.3,154.4 L127.5,154.6 L127.7,158.5 L127.8,156.0 L128.0,154.0 L128.2,153.4 L128.4,154.2 L128.5,155.8 L128.7,155.0 L128.9,156.9 L129.0,156.6 L129.2,154.7 L129.4,155.2 L129.6,153.9 L129.7,154.7 L129.9,154.1 L130.1,155.4 L130.3,154.0 L130.4,150.9 L130.6,156.6 L130.8,154.7 L130.9,155.4 L131.1,153.7 L131.3,154.1 L131.5,156.0 L131.6,154.5 L131.8,154.6 L132.0,155.2 L132.1,154.7 L132.3,153.0 L132.5,154.3 L132.7,155.6 L132.8,154.9 L133.0,152.3 L133.2,156.7 L133.4,154.1 L133.5,156.9 L133.7,158.0 L133.9,156.4 L134.0,154.6 L134.2,155.5 L134.4,156.4 L134.6,156.6 L134.7,156.5 L134.9,156.4 L135.1,155.4 L135.2,158.2 L135.4,153.8 L135.6,154.5 L135.8,154.8 L135.9,153.3 L136.1,155.5 L136.3,154.3 L136.5,158.7 L136.6,154.3 L136.8,155.3 L137.0,153.7 L137.1,153.3 L137.3,154.5 L137.5,156.4 L137.7,154.0 L137.8,153.3 L138.0,153.4 L138.2,155.7 L138.3,156.4 L138.5,155.2 L138.7,156.4 L138.9,158.2 L139.0,154.1 L139.2,153.9 L139.4,153.4 L139.6,155.9 L139.7,154.5 L139.9,156.6 L140.1,156.9 L140.2,154.0 L140.4,157.7 L140.6,155.3 L140.8,151.1 L140.9,153.0 L141.1,153.9 L141.3,153.7 L141.4,155.0 L141.6,155.3 L141.8,151.2 L142.0,154.5 L142.1,155.3 L142.3,153.3 L142.5,154.5 L142.7,152.4 L142.8,155.7 L143.0,156.3 L143.2,155.9 L143.3,152.8 L143.5,153.6 L143.7,154.8 L143.9,155.0 L144.0,154.6 L144.2,156.5 L144.4,153.9 L144.5,155.3 L144.7,153.8 L144.9,153.9 L145.1,153.1 L145.2,154.7 L145.4,152.4 L145.6,153.4 L145.8,155.2 L145.9,153.3 L146.1,154.3 L146.3,153.3 L146.4,152.6 L146.6,154.9 L146.8,154.5 L147.0,154.5 L147.1,154.4 L147.3,151.1 L147.5,153.8 L147.6,156.1 L147.8,154.5 L148.0,155.6 L148.2,150.7 L148.3,155.6 L148.5,156.3 L148.7,153.0 L148.9,154.9 L149.0,155.0 L149.2,154.7 L149.4,155.6 L149.5,155.0 L149.7,157.9 L149.9,154.7 L150.1,153.7 L150.2,151.7 L150.4,154.9 L150.6,153.6 L150.7,155.8 L150.9,152.0 L151.1,150.7 L151.3,153.6 L151.4,154.8 L151.6,153.9 L151.8,151.6 L152.0,156.0 L152.1,151.7 L152.3,155.9 L152.5,156.0 L152.6,154.3 L152.8,154.0 L153.0,153.6 L153.2,152.7 L153.3,158.3 L153.5,156.0 L153.7,155.4 L153.8,156.8 L154.0,155.1 L154.2,157.6 L154.4,158.5 L154.5,162.4 L154.7,161.8 L154.9,156.5 L155.1,160.8 L155.2,158.1 L155.4,157.2 L155.6,159.0 L155.7,157.0 L155.9,160.7 L156.1,158.7 L156.3,160.4 L156.4,163.4 L156.6,164.4 L156.8,160.7 L156.9,157.2 L157.1,158.3 L157.3,159.7 L157.5,159.3 L157.6,159.0 L157.8,161.4 L158.0,158.3 L158.2,160.7 L158.3,162.6 L158.5,154.0 L158.7,160.7 L158.8,162.8 L159.0,161.4 L159.2,165.5 L159.4,165.9 L159.5,159.8 L159.7,162.8 L159.9,166.5 L160.0,167.7 L160.2,164.5 L160.4,166.6 L160.6,161.6 L160.7,168.1 L160.9,161.7 L161.1,166.4 L161.3,166.7 L161.4,163.9 L161.6,166.7 L161.8,165.5 L161.9,165.7 L162.1,169.6 L162.3,167.4 L162.5,164.4 L162.6,169.5 L162.8,168.3 L163.0,167.5 L163.1,163.9 L163.3,164.2 L163.5,163.0 L163.7,168.1 L163.8,164.4 L164.0,165.4 L164.2,168.6 L164.4,164.9 L164.5,165.7 L164.7,167.1 L164.9,168.2 L165.0,169.2 L165.2,164.7 L165.4,165.0 L165.6,166.7 L165.7,166.9 L165.9,167.5 L166.1,164.6 L166.2,166.0 L166.4,170.2 L166.6,166.2 L166.8,165.5 L166.9,167.6 L167.1,167.4 L167.3,167.5 L167.5,165.1 L167.6,166.9 L167.8,166.4 L168.0,166.3 L168.1,163.5 L168.3,170.1 L168.5,162.1 L168.7,169.9 L168.8,167.9 L169.0,169.3 L169.2,167.4 L169.3,166.9 L169.5,163.2 L169.7,165.5 L169.9,169.2 L170.0,167.2 L170.2,167.5 L170.4,168.9 L170.5,166.4 L170.7,167.2 L170.9,168.8 L171.1,169.1 L171.2,166.3 L171.4,168.1 L171.6,165.6 L171.8,166.4 L171.9,170.8 L172.1,172.8 L172.3,168.5 L172.4,170.2 L172.6,171.1 L172.8,170.8 L173.0,166.3 L173.1,169.9 L173.3,165.5 L173.5,167.6 L173.6,172.7 L173.8,168.3 L174.0,166.0 L174.2,172.9 L174.3,171.7 L174.5,169.2 L174.7,170.1 L174.9,165.4 L175.0,170.7 L175.2,165.5 L175.4,172.2 L175.5,171.1 L175.7,168.9 L175.9,168.4 L176.1,169.4 L176.2,166.4 L176.4,165.9 L176.6,165.8 L176.7,170.4 L176.9,168.5 L177.1,171.1 L177.3,167.5 L177.4,175.2 L177.6,171.6 L177.8,170.6 L178.0,171.1 L178.1,166.9 L178.3,173.0 L178.5,171.7 L178.6,172.4 L178.8,170.0 L179.0,171.9 L179.2,168.1 L179.3,168.2 L179.5,174.5 L179.7,174.6 L179.8,168.4 L180.0,169.5 L180.2,173.6 L180.4,170.5 L180.5,173.0 L180.7,168.6 L180.9,173.0 L181.1,171.9 L181.2,169.8 L181.4,170.7 L181.6,168.6 L181.7,169.8 L181.9,173.9 L182.1,170.2 L182.3,172.9 L182.4,167.9 L182.6,167.7 L182.8,168.3 L182.9,166.1 L183.1,169.0 L183.3,167.6 L183.5,168.7 L183.6,168.9 L183.8,168.8 L184.0,170.2 L184.2,166.9 L184.3,172.6 L184.5,173.6 L184.7,171.9 L184.8,167.1 L185.0,170.9 L185.2,171.8 L185.4,171.8 L185.5,169.3 L185.7,170.1 L185.9,167.3 L186.0,170.7 L186.2,168.3 L186.4,172.1 L186.6,169.3 L186.7,164.1 L186.9,171.3 L187.1,171.1 L187.3,168.8 L187.4,172.9 L187.6,172.3 L187.8,172.5 L187.9,170.8 L188.1,174.2 L188.3,168.4 L188.5,171.1 L188.6,171.1 L188.8,171.8 L189.0,171.7 L189.1,176.5 L189.3,168.9 L189.5,173.6 L189.7,170.2 L189.8,172.1 L190.0,172.2 L190.2,170.9 L190.4,168.6 L190.5,172.3 L190.7,173.4 L190.9,171.4 L191.0,177.5 L191.2,173.9 L191.4,174.2 L191.6,173.1 L191.7,175.0 L191.9,170.4 L192.1,172.7 L192.2,171.9 L192.4,171.9 L192.6,172.1 L192.8,172.7 L192.9,168.9 L193.1,169.6 L193.3,168.1 L193.5,171.6 L193.6,170.6 L193.8,170.2 L194.0,171.7 L194.1,171.4 L194.3,175.0 L194.5,174.2 L194.7,173.5 L194.8,174.3 L195.0,171.3 L195.2,171.4 L195.3,171.5 L195.5,173.1 L195.7,170.5 L195.9,170.4 L196.0,171.0 L196.2,172.7 L196.4,168.8 L196.6,174.6 L196.7,175.3 L196.9,174.9 L197.1,169.6 L197.2,171.8 L197.4,173.2 L197.6,176.8 L197.8,172.7 L197.9,174.6 L198.1,176.9 L198.3,170.0 L198.4,172.1 L198.6,169.0 L198.8,171.9 L199.0,170.9 L199.1,173.5 L199.3,170.9 L199.5,173.2 L199.7,171.1 L199.8,172.2 L200.0,175.0 L200.2,172.8 L200.3,172.7 L200.5,174.4 L200.7,173.1 L200.9,170.9 L201.0,170.2 L201.2,172.4 L201.4,177.3 L201.5,170.9 L201.7,168.9 L201.9,173.1 L202.1,174.3 L202.2,171.9 L202.4,172.2 L202.6,171.0 L202.8,174.1 L202.9,169.1 L203.1,170.9 L203.3,174.7 L203.4,170.3 L203.6,172.7 L203.8,170.9 L204.0,171.8 L204.1,172.4 L204.3,171.7 L204.5,173.8 L204.6,174.4 L204.8,173.3 L205.0,173.4 L205.2,172.3 L205.3,172.8 L205.5,176.6 L205.7,171.6 L205.9,173.2 L206.0,171.2 L206.2,171.3 L206.4,172.3 L206.5,171.6 L206.7,175.7 L206.9,169.0 L207.1,168.4 L207.2,170.9 L207.4,173.2 L207.6,170.8 L207.7,173.0 L207.9,168.8 L208.1,173.0 L208.3,174.7 L208.4,174.2 L208.6,174.0 L208.8,170.9 L209.0,172.8 L209.1,171.9 L209.3,173.2 L209.5,169.9 L209.6,172.4 L209.8,171.9 L210.0,168.8 L210.2,171.4 L210.3,173.4 L210.5,172.9 L210.7,169.9 L210.8,171.6 L211.0,174.2 L211.2,170.3 L211.4,176.0 L211.5,177.6 L211.7,175.2 L211.9,177.1 L212.0,173.6 L212.2,173.2 L212.4,173.9 L212.6,174.6 L212.7,175.6 L212.9,171.3 L213.1,177.3 L213.3,171.7 L213.4,172.7 L213.6,173.3 L213.8,172.0 L213.9,176.1 L214.1,170.7 L214.3,171.3 L214.5,170.1 L214.6,176.8 L214.8,172.0 L215.0,172.8 L215.1,177.6 L215.3,173.5 L215.5,173.0 L215.7,175.0 L215.8,172.6 L216.0,172.5 L216.2,174.3 L216.4,174.1 L216.5,171.7 L216.7,175.4 L216.9,172.4 L217.0,170.7 L217.2,173.6 L217.4,172.3 L217.6,172.9 L217.7,171.2 L217.9,176.0 L218.1,176.5 L218.2,174.8 L218.4,173.9 L218.6,170.5 L218.8,169.5 L218.9,171.1 L219.1,169.9 L219.3,173.4 L219.5,173.9 L219.6,176.4 L219.8,170.8 L220.0,172.1 L220.1,173.6 L220.3,176.4 L220.5,176.0 L220.7,172.9 L220.8,174.1 L221.0,171.9 L221.2,173.6 L221.3,175.4 L221.5,176.5 L221.7,174.1 L221.9,170.9 L222.0,170.1 L222.2,175.6 L222.4,173.0 L222.6,175.5 L222.7,173.6 L222.9,179.8 L223.1,175.2 L223.2,177.6 L223.4,170.8 L223.6,174.6 L223.8,172.9 L223.9,173.5 L224.1,176.0 L224.3,171.8 L224.4,170.8 L224.6,172.9 L224.8,172.2 L225.0,170.9 L225.1,171.9 L225.3,173.1 L225.5,176.2 L225.7,174.9 L225.8,174.8 L226.0,171.6 L226.2,170.4 L226.3,172.8 L226.5,170.8 L226.7,177.9 L226.9,172.4 L227.0,175.6 L227.2,171.2 L227.4,170.5 L227.5,171.1 L227.7,171.9 L227.9,171.3 L228.1,170.1 L228.2,174.9 L228.4,170.6 L228.6,174.3 L228.8,176.4 L228.9,172.2 L229.1,172.1 L229.3,172.9 L229.4,175.0 L229.6,172.2 L229.8,173.8 L230.0,168.2 L230.1,172.6 L230.3,172.5 L230.5,174.4 L230.6,172.0 L230.8,169.6 L231.0,174.4 L231.2,173.5 L231.3,176.9" fill="none" stroke="#141414" stroke-width="0.9" stroke-linejoin="round" />
<path d="M58.1,182.2 L58.3,179.7 L58.4,181.5 L58.6,178.4 L58.8,176.7 L59.0,180.1 L59.1,179.7 L59.3,184.9 L59.5,179.8 L59.7,183.7 L59.8,181.8 L60.0,179.5 L60.2,183.6 L60.3,177.5 L60.5,182.1 L60.7,179.8 L60.9,182.3 L61.0,180.3 L61.2,182.1 L61.4,181.2 L61.5,185.2 L61.7,179.7 L61.9,179.7 L62.1,181.4 L62.2,181.7 L62.4,183.1 L62.6,182.4 L62.8,180.8 L62.9,181.0 L63.1,180.5 L63.3,179.9 L63.4,179.8 L63.6,181.3 L63.8,181.2 L64.0,181.6 L64.1,179.1 L64.3,182.3 L64.5,182.2 L64.6,180.1 L64.8,182.9 L65.0,180.9 L65.2,183.2 L65.3,182.2 L65.5,175.0 L65.7,183.9 L65.9,179.7 L66.0,182.5 L66.2,183.4 L66.4,184.1 L66.5,180.5 L66.7,182.3 L66.9,181.6 L67.1,178.5 L67.2,183.4 L67.4,184.4 L67.6,180.4 L67.7,177.8 L67.9,179.6 L68.1,177.2 L68.3,177.5 L68.4,178.4 L68.6,180.0 L68.8,178.5 L69.0,176.5 L69.1,177.3 L69.3,177.9 L69.5,177.2 L69.6,177.7 L69.8,176.2 L70.0,177.6 L70.2,174.2 L70.3,175.7 L70.5,175.7 L70.7,179.1 L70.8,179.7 L71.0,176.2 L71.2,176.2 L71.4,172.1 L71.5,176.1 L71.7,176.4 L71.9,173.5 L72.1,178.1 L72.2,174.4 L72.4,176.2 L72.6,178.2 L72.7,176.6 L72.9,174.2 L73.1,173.8 L73.3,174.3 L73.4,175.3 L73.6,173.5 L73.8,173.1 L73.9,173.5 L74.1,171.0 L74.3,172.0 L74.5,175.0 L74.6,174.1 L74.8,174.5 L75.0,172.6 L75.2,170.9 L75.3,170.1 L75.5,172.5 L75.7,173.6 L75.8,173.9 L76.0,174.9 L76.2,169.3 L76.4,172.6 L76.5,173.1 L76.7,169.3 L76.9,173.1 L77.0,171.7 L77.2,170.9 L77.4,174.5 L77.6,173.7 L77.7,166.0 L77.9,170.7 L78.1,174.6 L78.3,172.1 L78.4,171.2 L78.6,170.4 L78.8,171.8 L78.9,173.3 L79.1,171.3 L79.3,169.3 L79.5,171.7 L79.6,172.4 L79.8,172.2 L80.0,174.2 L80.1,168.3 L80.3,169.2 L80.5,169.7 L80.7,169.1 L80.8,167.1 L81.0,170.1 L81.2,172.0 L81.4,167.9 L81.5,173.4 L81.7,169.9 L81.9,167.3 L82.0,166.9 L82.2,169.3 L82.4,169.3 L82.6,169.4 L82.7,169.4 L82.9,168.9 L83.1,166.7 L83.2,168.1 L83.4,166.4 L83.6,168.2 L83.8,169.6 L83.9,169.4 L84.1,165.3 L84.3,169.9 L84.4,167.3 L84.6,170.8 L84.8,168.1 L85.0,169.7 L85.1,169.7 L85.3,170.4 L85.5,170.1 L85.7,168.7 L85.8,166.5 L86.0,167.9 L86.2,169.8 L86.3,167.4 L86.5,172.2 L86.7,168.1 L86.9,164.2 L87.0,171.9 L87.2,168.6 L87.4,166.4 L87.5,164.8 L87.7,166.0 L87.9,169.0 L88.1,165.5 L88.2,165.8 L88.4,169.1 L88.6,168.3 L88.8,170.0 L88.9,168.7 L89.1,165.7 L89.3,170.0 L89.4,166.1 L89.6,167.3 L89.8,167.2 L90.0,168.3 L90.1,165.9 L90.3,167.3 L90.5,167.3 L90.6,169.7 L90.8,167.0 L91.0,167.6 L91.2,165.2 L91.3,166.6 L91.5,167.1 L91.7,168.3 L91.9,168.5 L92.0,168.7 L92.2,166.3 L92.4,169.9 L92.5,169.9 L92.7,167.1 L92.9,165.2 L93.1,166.9 L93.2,167.7 L93.4,163.5 L93.6,166.2 L93.7,167.6 L93.9,166.4 L94.1,164.8 L94.3,167.2 L94.4,165.2 L94.6,167.3 L94.8,166.3 L95.0,165.9 L95.1,170.7 L95.3,164.4 L95.5,165.6 L95.6,165.7 L95.8,166.3 L96.0,167.0 L96.2,164.4 L96.3,166.4 L96.5,164.8 L96.7,169.0 L96.8,162.7 L97.0,165.8 L97.2,165.5 L97.4,167.7 L97.5,167.7 L97.7,165.6 L97.9,171.6 L98.1,164.4 L98.2,168.1 L98.4,168.2 L98.6,166.9 L98.7,163.8 L98.9,166.8 L99.1,165.1 L99.3,168.8 L99.4,167.6 L99.6,165.0 L99.8,168.4 L99.9,170.6 L100.1,167.5 L100.3,167.1 L100.5,167.1 L100.6,165.4 L100.8,165.7 L101.0,167.4 L101.2,165.9 L101.3,167.0 L101.5,166.4 L101.7,168.2 L101.8,165.4 L102.0,166.8 L102.2,164.0 L102.4,168.4 L102.5,164.1 L102.7,168.0 L102.9,165.0 L103.0,167.6 L103.2,167.3 L103.4,164.5 L103.6,168.4 L103.7,164.3 L103.9,162.3 L104.1,164.8 L104.3,168.6 L104.4,164.9 L104.6,166.2 L104.8,165.7 L104.9,166.0 L105.1,164.0 L105.3,162.9 L105.5,164.8 L105.6,163.1 L105.8,166.1 L106.0,161.1 L106.1,166.8 L106.3,167.2 L106.5,165.9 L106.7,163.7 L106.8,163.5 L107.0,167.7 L107.2,165.0 L107.4,164.5 L107.5,160.8 L107.7,165.8 L107.9,167.8 L108.0,167.9 L108.2,165.7 L108.4,164.9 L108.6,165.5 L108.7,165.9 L108.9,167.2 L109.1,166.0 L109.2,165.7 L109.4,161.4 L109.6,165.6 L109.8,167.5 L109.9,166.5 L110.1,165.8 L110.3,169.1 L110.5,165.7 L110.6,165.1 L110.8,165.2 L111.0,167.4 L111.1,166.0 L111.3,165.1 L111.5,163.9 L111.7,164.4 L111.8,167.1 L112.0,163.8 L112.2,162.3 L112.3,165.4 L112.5,169.3 L112.7,163.7 L112.9,163.5 L113.0,165.0 L113.2,165.8 L113.4,163.4 L113.6,164.1 L113.7,165.3 L113.9,165.5 L114.1,165.0 L114.2,163.6 L114.4,165.1 L114.6,167.2 L114.8,166.1 L114.9,164.9 L115.1,164.4 L115.3,165.8 L115.4,163.8 L115.6,166.1 L115.8,163.1 L116.0,161.7 L116.1,163.0 L116.3,164.4 L116.5,163.9 L116.7,168.4 L116.8,162.5 L117.0,166.5 L117.2,166.6 L117.3,165.7 L117.5,167.0 L117.7,165.5 L117.9,166.0 L118.0,165.6 L118.2,163.4 L118.4,164.7 L118.5,166.6 L118.7,166.0 L118.9,167.0 L119.1,164.0 L119.2,167.4 L119.4,166.1 L119.6,162.5 L119.8,165.5 L119.9,165.0 L120.1,164.6 L120.3,167.9 L120.4,164.8 L120.6,163.5 L120.8,164.6 L121.0,164.1 L121.1,166.8 L121.3,165.5 L121.5,166.3 L121.6,165.8 L121.8,167.7 L122.0,166.3 L122.2,164.5 L122.3,166.5 L122.5,164.5 L122.7,162.7 L122.9,164.6 L123.0,164.7 L123.2,163.5 L123.4,165.7 L123.5,165.5 L123.7,166.6 L123.9,166.3 L124.1,161.8 L124.2,166.0 L124.4,164.6 L124.6,165.5 L124.7,165.6 L124.9,165.8 L125.1,165.8 L125.3,164.7 L125.4,165.8 L125.6,164.3 L125.8,165.6 L125.9,165.8 L126.1,165.6 L126.3,162.2 L126.5,167.3 L126.6,165.4 L126.8,163.8 L127.0,164.2 L127.2,166.5 L127.3,167.0 L127.5,165.3 L127.7,163.0 L127.8,163.8 L128.0,165.3 L128.2,165.7 L128.4,165.4 L128.5,165.4 L128.7,167.3 L128.9,167.3 L129.0,165.2 L129.2,162.0 L129.4,165.0 L129.6,168.2 L129.7,167.0 L129.9,165.3 L130.1,167.0 L130.3,164.9 L130.4,166.4 L130.6,166.6 L130.8,167.3 L130.9,164.3 L131.1,164.4 L131.3,164.4 L131.5,164.1 L131.6,165.6 L131.8,163.2 L132.0,167.0 L132.1,164.0 L132.3,165.5 L132.5,165.6 L132.7,165.9 L132.8,163.9 L133.0,164.5 L133.2,163.1 L133.4,166.1 L133.5,164.3 L133.7,165.9 L133.9,163.6 L134.0,162.6 L134.2,166.3 L134.4,163.2 L134.6,166.4 L134.7,162.3 L134.9,164.4 L135.1,163.6 L135.2,166.1 L135.4,161.9 L135.6,164.9 L135.8,165.7 L135.9,163.5 L136.1,166.2 L136.3,165.7 L136.5,165.8 L136.6,166.3 L136.8,163.2 L137.0,162.3 L137.1,166.4 L137.3,162.2 L137.5,162.8 L137.7,165.1 L137.8,163.4 L138.0,161.2 L138.2,165.6 L138.3,165.5 L138.5,166.3 L138.7,161.5 L138.9,163.5 L139.0,166.3 L139.2,165.2 L139.4,163.9 L139.6,165.4 L139.7,163.0 L139.9,164.4 L140.1,162.5 L140.2,164.0 L140.4,163.9 L140.6,165.1 L140.8,163.7 L140.9,163.1 L141.1,167.1 L141.3,163.8 L141.4,162.7 L141.6,163.6 L141.8,164.6 L142.0,165.4 L142.1,167.0 L142.3,166.8 L142.5,165.7 L142.7,166.6 L142.8,164.9 L143.0,165.8 L143.2,165.1 L143.3,162.6 L143.5,164.2 L143.7,163.6 L143.9,167.5 L144.0,163.7 L144.2,166.0 L144.4,162.2 L144.5,166.7 L144.7,165.4 L144.9,163.0 L145.1,160.8 L145.2,166.3 L145.4,164.3 L145.6,165.1 L145.8,161.2 L145.9,160.5 L146.1,163.1 L146.3,162.4 L146.4,164.9 L146.6,166.0 L146.8,163.3 L147.0,164.8 L147.1,162.8 L147.3,164.5 L147.5,162.2 L147.6,164.7 L147.8,164.7 L148.0,163.0 L148.2,164.3 L148.3,162.3 L148.5,165.7 L148.7,166.1 L148.9,163.2 L149.0,163.5 L149.2,165.2 L149.4,166.0 L149.5,165.2 L149.7,164.1 L149.9,164.6 L150.1,165.8 L150.2,165.5 L150.4,163.4 L150.6,162.5 L150.7,162.2 L150.9,165.9 L151.1,166.3 L151.3,163.6 L151.4,165.3 L151.6,163.4 L151.8,163.3 L152.0,165.4 L152.1,165.0 L152.3,167.3 L152.5,167.2 L152.6,163.4 L152.8,161.2 L153.0,167.0 L153.2,167.3 L153.3,165.6 L153.5,163.5 L153.7,169.0 L153.8,165.7 L154.0,163.4 L154.2,170.8 L154.4,169.0 L154.5,165.3 L154.7,165.0 L154.9,168.8 L155.1,166.0 L155.2,165.9 L155.4,170.5 L155.6,167.8 L155.7,169.0 L155.9,168.7 L156.1,167.8 L156.3,170.9 L156.4,172.6 L156.6,171.8 L156.8,172.1 L156.9,170.3 L157.1,168.4 L157.3,171.9 L157.5,172.5 L157.6,172.1 L157.8,169.6 L158.0,171.6 L158.2,171.5 L158.3,173.0 L158.5,171.7 L158.7,172.2 L158.8,169.2 L159.0,171.1 L159.2,168.8 L159.4,170.4 L159.5,170.8 L159.7,174.3 L159.9,171.1 L160.0,172.6 L160.2,168.7 L160.4,170.2 L160.6,170.3 L160.7,171.5 L160.9,168.5 L161.1,175.1 L161.3,169.8 L161.4,172.3 L161.6,173.6 L161.8,173.1 L161.9,171.8 L162.1,171.0 L162.3,169.4 L162.5,173.0 L162.6,173.3 L162.8,170.3 L163.0,170.1 L163.1,174.8 L163.3,174.0 L163.5,172.0 L163.7,173.3 L163.8,171.4 L164.0,174.5 L164.2,174.2 L164.4,166.9 L164.5,170.4 L164.7,169.3 L164.9,171.4 L165.0,174.2 L165.2,170.7 L165.4,170.1 L165.6,173.8 L165.7,173.8 L165.9,172.2 L166.1,173.3 L166.2,176.4 L166.4,172.4 L166.6,172.2 L166.8,177.0 L166.9,169.7 L167.1,175.7 L167.3,175.6 L167.5,174.8 L167.6,173.1 L167.8,173.3 L168.0,176.6 L168.1,172.9 L168.3,172.5 L168.5,174.7 L168.7,178.1 L168.8,175.8 L169.0,175.2 L169.2,172.6 L169.3,175.0 L169.5,173.2 L169.7,168.4 L169.9,174.2 L170.0,174.5 L170.2,172.3 L170.4,171.7 L170.5,171.5 L170.7,174.3 L170.9,176.9 L171.1,178.3 L171.2,176.4 L171.4,175.0 L171.6,177.0 L171.8,177.6 L171.9,175.6 L172.1,175.8 L172.3,176.1 L172.4,171.1 L172.6,173.0 L172.8,177.9 L173.0,173.3 L173.1,175.9 L173.3,177.1 L173.5,176.6 L173.6,169.8 L173.8,175.3 L174.0,177.2 L174.2,175.8 L174.3,173.7 L174.5,175.1 L174.7,175.7 L174.9,177.0 L175.0,176.6 L175.2,178.2 L175.4,175.5 L175.5,174.9 L175.7,174.9 L175.9,175.8 L176.1,173.2 L176.2,174.9 L176.4,174.8 L176.6,178.3 L176.7,176.8 L176.9,177.0 L177.1,173.8 L177.3,176.2 L177.4,175.8 L177.6,175.9 L177.8,172.0 L178.0,176.0 L178.1,176.3 L178.3,174.2 L178.5,175.3 L178.6,172.3 L178.8,172.7 L179.0,174.4 L179.2,175.6 L179.3,175.7 L179.5,173.2 L179.7,175.5 L179.8,175.2 L180.0,181.6 L180.2,178.7 L180.4,176.8 L180.5,174.9 L180.7,174.9 L180.9,176.1 L181.1,179.8 L181.2,176.1 L181.4,177.8 L181.6,180.5 L181.7,177.9 L181.9,177.0 L182.1,175.6 L182.3,174.5 L182.4,175.8 L182.6,176.2 L182.8,177.1 L182.9,176.0 L183.1,178.6 L183.3,174.8 L183.5,176.2 L183.6,174.2 L183.8,175.4 L184.0,177.5 L184.2,177.0 L184.3,176.9 L184.5,176.7 L184.7,182.1 L184.8,178.5 L185.0,172.5 L185.2,176.6 L185.4,173.6 L185.5,177.6 L185.7,179.6 L185.9,176.8 L186.0,176.9 L186.2,177.7 L186.4,173.7 L186.6,173.2 L186.7,177.7 L186.9,172.1 L187.1,174.2 L187.3,178.6 L187.4,174.0 L187.6,175.5 L187.8,176.4 L187.9,179.9 L188.1,175.8 L188.3,178.2 L188.5,172.8 L188.6,178.7 L188.8,179.9 L189.0,176.1 L189.1,179.5 L189.3,174.0 L189.5,178.8 L189.7,175.1 L189.8,178.5 L190.0,177.9 L190.2,176.6 L190.4,178.5 L190.5,175.4 L190.7,178.1 L190.9,173.8 L191.0,174.8 L191.2,180.3 L191.4,173.2 L191.6,177.0 L191.7,179.2 L191.9,176.8 L192.1,177.1 L192.2,175.9 L192.4,175.8 L192.6,175.1 L192.8,180.3 L192.9,176.9 L193.1,178.8 L193.3,180.5 L193.5,178.9 L193.6,179.3 L193.8,176.2 L194.0,177.5 L194.1,176.0 L194.3,177.0 L194.5,176.5 L194.7,175.9 L194.8,178.5 L195.0,177.1 L195.2,177.1 L195.3,178.1 L195.5,179.4 L195.7,176.8 L195.9,175.9 L196.0,173.3 L196.2,176.9 L196.4,176.8 L196.6,179.6 L196.7,177.7 L196.9,174.6 L197.1,172.6 L197.2,175.6 L197.4,173.2 L197.6,173.5 L197.8,172.5 L197.9,175.0 L198.1,177.7 L198.3,176.2 L198.4,173.9 L198.6,177.8 L198.8,177.0 L199.0,178.9 L199.1,178.3 L199.3,180.0 L199.5,175.0 L199.7,178.7 L199.8,177.3 L200.0,176.1 L200.2,177.6 L200.3,179.3 L200.5,178.4 L200.7,179.2 L200.9,176.8 L201.0,178.5 L201.2,174.6 L201.4,178.0 L201.5,176.3 L201.7,179.8 L201.9,181.9 L202.1,179.1 L202.2,176.4 L202.4,176.3 L202.6,175.8 L202.8,179.2 L202.9,179.3 L203.1,178.0 L203.3,178.8 L203.4,176.8 L203.6,176.1 L203.8,175.7 L204.0,179.5 L204.1,174.9 L204.3,181.9 L204.5,178.6 L204.6,178.8 L204.8,177.9 L205.0,178.4 L205.2,175.3 L205.3,178.9 L205.5,175.9 L205.7,179.7 L205.9,177.4 L206.0,176.6 L206.2,175.2 L206.4,179.6 L206.5,181.7 L206.7,173.6 L206.9,179.1 L207.1,177.8 L207.2,177.4 L207.4,174.2 L207.6,175.3 L207.7,174.4 L207.9,174.4 L208.1,176.5 L208.3,177.9 L208.4,174.6 L208.6,175.3 L208.8,176.9 L209.0,181.4 L209.1,178.7 L209.3,176.5 L209.5,178.5 L209.6,175.6 L209.8,171.9 L210.0,177.2 L210.2,176.7 L210.3,176.0 L210.5,174.0 L210.7,182.0 L210.8,178.8 L211.0,175.0 L211.2,178.1 L211.4,181.4 L211.5,176.6 L211.7,180.4 L211.9,176.1 L212.0,175.7 L212.2,178.8 L212.4,180.5 L212.6,177.1 L212.7,178.7 L212.9,178.4 L213.1,179.2 L213.3,178.9 L213.4,180.1 L213.6,176.3 L213.8,175.7 L213.9,179.8 L214.1,180.6 L214.3,176.1 L214.5,175.1 L214.6,177.0 L214.8,175.3 L215.0,176.1 L215.1,177.8 L215.3,178.5 L215.5,179.4 L215.7,177.9 L215.8,181.2 L216.0,174.8 L216.2,180.0 L216.4,177.0 L216.5,177.1 L216.7,178.2 L216.9,177.9 L217.0,179.5 L217.2,178.7 L217.4,176.4 L217.6,177.0 L217.7,180.9 L217.9,178.4 L218.1,181.8 L218.2,178.4 L218.4,178.2 L218.6,180.9 L218.8,174.9 L218.9,180.9 L219.1,175.5 L219.3,181.6 L219.5,176.7 L219.6,182.1 L219.8,179.3 L220.0,180.9 L220.1,177.4 L220.3,179.9 L220.5,178.8 L220.7,177.6 L220.8,180.3 L221.0,179.5 L221.2,177.8 L221.3,180.2 L221.5,177.2 L221.7,181.7 L221.9,173.9 L222.0,175.9 L222.2,180.9 L222.4,179.5 L222.6,178.6 L222.7,176.5 L222.9,175.9 L223.1,175.5 L223.2,175.4 L223.4,180.2 L223.6,177.7 L223.8,178.2 L223.9,176.7 L224.1,178.2 L224.3,181.3 L224.4,178.7 L224.6,172.7 L224.8,177.8 L225.0,175.6 L225.1,178.4 L225.3,178.6 L225.5,178.2 L225.7,178.9 L225.8,176.8 L226.0,179.6 L226.2,182.6 L226.3,177.1 L226.5,178.1 L226.7,180.0 L226.9,179.2 L227.0,177.3 L227.2,178.0 L227.4,180.4 L227.5,175.7 L227.7,173.2 L227.9,178.4 L228.1,180.2 L228.2,175.7 L228.4,174.8 L228.6,179.4 L228.8,180.5 L228.9,179.9 L229.1,178.6 L229.3,179.7 L229.4,178.4 L229.6,178.3 L229.8,180.7 L230.0,176.7 L230.1,174.4 L230.3,181.7 L230.5,178.1 L230.6,178.9 L230.8,179.4 L231.0,177.7 L231.2,180.1 L231.3,176.4" fill="none" stroke="#141414" stroke-width="0.9" stroke-linejoin="round" />
<path d="M53.8,182.9 L67.0,182.9 L67.0,182.9 L67.3,176.5 L67.6,170.6 L67.9,165.3 L68.1,160.4 L68.4,155.9 L68.7,151.7 L69.0,147.9 L69.3,144.3 L69.6,141.0 L69.9,138.0 L70.2,135.1 L70.4,132.5 L70.7,130.0 L71.0,127.8 L71.3,125.6 L71.6,123.6 L71.9,121.8 L72.2,120.0 L72.5,118.4 L72.7,116.9 L73.0,115.4 L73.3,114.1 L73.6,112.8 L73.9,111.7 L74.2,110.5 L74.5,109.5 L74.7,108.5 L75.0,107.5 L75.3,106.7 L75.6,105.8 L75.9,105.0 L76.2,104.3 L76.5,103.5 L76.8,102.9 L77.0,102.2 L77.3,101.6 L77.6,101.0 L77.9,100.4 L78.2,99.9 L78.5,99.4 L78.8,98.9 L79.1,98.4 L79.3,98.0 L79.6,97.5 L79.9,97.1 L80.2,96.7 L80.5,96.3 L80.8,95.9 L81.1,95.6 L81.3,95.2 L81.6,94.9 L81.9,94.5 L82.2,94.2 L82.5,93.9 L82.8,93.6 L83.1,93.3 L83.4,93.0 L83.6,92.8 L83.9,92.5 L84.2,92.2 L84.5,92.0 L84.8,91.7 L85.1,91.5 L85.4,91.2 L85.7,91.0 L85.9,90.8 L86.2,90.6 L86.5,90.4 L86.8,90.2 L87.1,89.9 L87.4,89.7 L87.7,89.6 L88.0,89.4 L88.2,89.2 L88.5,89.0 L88.8,88.8 L89.1,88.6 L89.4,88.5 L89.7,88.3 L90.0,88.1 L90.2,88.0 L90.5,87.8 L90.8,87.6 L91.1,87.5 L91.4,87.3 L91.7,87.2 L92.0,87.0 L92.3,86.9 L92.5,86.8 L92.8,86.6 L93.1,86.5 L93.4,86.4 L93.7,86.2 L94.0,86.1 L94.3,86.0 L94.6,85.8 L94.8,85.7 L95.1,85.6 L95.4,85.5 L95.7,85.4 L96.0,85.3 L96.3,85.1 L96.6,85.0 L96.8,84.9 L97.1,84.8 L97.4,84.7 L97.7,84.6 L98.0,84.5 L98.3,84.4 L98.6,84.3 L98.9,84.2 L99.1,84.1 L99.4,84.0 L99.7,84.0 L100.0,83.9 L100.3,83.8 L100.6,83.7 L100.9,83.6 L101.2,83.5 L101.4,83.4 L101.7,83.4 L102.0,83.3 L102.3,83.2 L102.6,83.1 L102.9,83.0 L103.2,83.0 L103.4,82.9 L103.7,82.8 L104.0,82.8 L104.3,82.7 L104.6,82.6 L104.9,82.6 L105.2,82.5 L105.5,82.4 L105.7,82.4 L106.0,82.3 L106.3,82.2 L106.6,82.2 L106.9,82.1 L107.2,82.1 L107.5,82.0 L107.8,81.9 L108.0,81.9 L108.3,81.8 L108.6,81.8 L108.9,81.7 L109.2,81.7 L109.5,81.6 L109.8,81.6 L110.0,81.5 L110.3,81.5 L110.6,81.4 L110.9,81.4 L111.2,81.3 L111.5,81.3 L111.8,81.2 L112.1,81.2 L112.3,81.2 L112.6,81.1 L112.9,81.1 L113.2,81.0 L113.5,81.0 L113.8,80.9 L114.1,80.9 L114.4,80.9 L114.6,80.8 L114.9,80.8 L115.2,80.8 L115.5,80.7 L115.8,80.7 L116.1,80.7 L116.4,80.6 L116.7,80.6 L116.9,80.6 L117.2,80.5 L117.5,80.5 L117.8,80.5 L118.1,80.4 L118.4,80.4 L118.7,80.4 L118.9,80.3 L119.2,80.3 L119.5,80.3 L119.8,80.2 L120.1,80.2 L120.4,80.2 L120.7,80.2 L121.0,80.1 L121.2,80.1 L121.5,80.1 L121.8,80.1 L122.1,80.0 L122.4,80.0 L122.7,80.0 L123.0,80.0 L123.3,79.9 L123.5,79.9 L123.8,79.9 L124.1,79.9 L124.4,79.9 L124.7,79.8 L125.0,79.8 L125.3,79.8 L125.5,79.8 L125.8,79.8 L126.1,79.7 L126.4,79.7 L126.7,79.7 L127.0,79.7 L127.3,79.7 L127.6,79.6 L127.8,79.6 L128.1,79.6 L128.4,79.6 L128.7,79.6 L129.0,79.6 L129.3,79.5 L129.6,79.5 L129.9,79.5 L130.1,79.5 L130.4,79.5 L130.7,79.5 L131.0,79.5 L131.3,79.4 L131.6,79.4 L131.9,79.4 L132.1,79.4 L132.4,79.4 L132.7,79.4 L133.0,79.4 L133.3,79.3 L133.6,79.3 L133.9,79.3 L134.2,79.3 L134.4,79.3 L134.7,79.3 L135.0,79.3 L135.3,79.3 L135.6,79.2 L135.9,79.2 L136.2,79.2 L136.5,79.2 L136.7,79.2 L137.0,79.2 L137.3,79.2 L137.6,79.2 L137.9,79.2 L138.2,79.2 L138.5,79.1 L138.8,79.1 L139.0,79.1 L139.3,79.1 L139.6,79.1 L139.9,79.1 L140.2,79.1 L140.5,79.1 L140.8,79.1 L141.0,79.1 L141.3,79.1 L141.6,79.0 L141.9,79.0 L142.2,79.0 L142.5,79.0 L142.8,79.0 L143.1,79.0 L143.3,79.0 L143.6,79.0 L143.9,79.0 L144.2,79.0 L144.5,79.0 L144.8,79.0 L145.1,79.0 L145.4,79.0 L145.6,79.0 L145.9,78.9 L146.2,78.9 L146.5,78.9 L146.8,78.9 L147.1,78.9 L147.4,78.9 L147.6,78.9 L147.9,78.9 L148.2,78.9 L148.5,78.9 L148.8,78.9 L149.1,78.9 L149.4,78.9 L149.7,78.9 L149.9,78.9 L150.2,78.9 L150.5,78.9 L150.8,78.9 L151.1,78.8 L151.4,78.8 L151.7,78.8 L152.0,78.8 L152.2,78.8 L152.5,78.8 L152.8,78.8 L153.1,78.8 L153.4,81.5 L154.0,86.4 L154.5,90.7 L155.1,94.5 L155.7,97.9 L156.3,100.9 L156.8,103.7 L157.4,106.1 L158.0,108.4 L158.6,110.4 L159.1,112.3 L159.7,114.1 L160.3,115.7 L160.8,117.2 L161.4,118.6 L162.0,119.9 L162.6,121.1 L163.1,122.3 L163.7,123.4 L164.3,124.5 L164.9,125.5 L165.4,126.4 L166.0,127.3 L166.6,128.2 L167.2,129.1 L167.7,129.9 L168.3,130.7 L168.9,131.4 L169.5,132.2 L170.0,132.9 L170.6,133.5 L171.2,134.2 L171.8,134.8 L172.3,135.5 L172.9,136.1 L173.5,136.6 L174.1,137.2 L174.6,137.7 L175.2,138.3 L175.8,138.8 L176.3,139.3 L176.9,139.8 L177.5,140.2 L178.1,140.7 L178.6,141.1 L179.2,141.6 L179.8,142.0 L180.4,142.4 L180.9,142.8 L181.5,143.2 L182.1,143.5 L182.7,143.9 L183.2,144.3 L183.8,144.6 L184.4,144.9 L185.0,145.3 L185.5,145.6 L186.1,145.9 L186.7,146.2 L187.3,146.5 L187.8,146.7 L188.4,147.0 L189.0,147.3 L189.5,147.5 L190.1,147.8 L190.7,148.0 L191.3,148.3 L191.8,148.5 L192.4,148.7 L193.0,148.9 L193.6,149.1 L194.1,149.3 L194.7,149.5 L195.3,149.7 L195.9,149.9 L196.4,150.1 L197.0,150.3 L197.6,150.4 L198.2,150.6 L198.7,150.8 L199.3,150.9 L199.9,151.1 L200.5,151.2 L201.0,151.4 L201.6,151.5 L202.2,151.7 L202.8,151.8 L203.3,151.9 L203.9,152.0 L204.5,152.2 L205.0,152.3 L205.6,152.4 L206.2,152.5 L206.8,152.6 L207.3,152.7 L207.9,152.8 L208.5,152.9 L209.1,153.0 L209.6,153.1 L210.2,153.2 L210.8,153.3 L211.4,153.4 L211.9,153.5 L212.5,153.6 L213.1,153.6 L213.7,153.7 L214.2,153.8 L214.8,153.9 L215.4,153.9 L216.0,154.0 L216.5,154.1 L217.1,154.1 L217.7,154.2 L218.2,154.3 L218.8,154.3 L219.4,154.4 L220.0,154.4 L220.5,154.5 L221.1,154.5 L221.7,154.6 L222.3,154.6 L222.8,154.7 L223.4,154.7 L224.0,154.8 L224.6,154.8 L225.1,154.9 L225.7,154.9 L226.3,155.0 L226.9,155.0 L227.4,155.0 L228.0,155.1 L228.6,155.1 L229.2,155.1 L229.7,155.2 L230.3,155.2 L230.9,155.2 L231.5,155.3" fill="none" stroke="#c8303c" stroke-width="1.0" stroke-linejoin="round" opacity="0.95"/>
<path d="M53.8,182.9 L67.0,182.9 L67.0,182.9 L67.3,178.2 L67.6,173.9 L67.9,170.0 L68.1,166.4 L68.4,163.2 L68.7,160.2 L69.0,157.4 L69.3,154.9 L69.6,152.5 L69.9,150.3 L70.2,148.3 L70.4,146.4 L70.7,144.7 L71.0,143.0 L71.3,141.5 L71.6,140.1 L71.9,138.7 L72.2,137.5 L72.5,136.3 L72.7,135.2 L73.0,134.2 L73.3,133.2 L73.6,132.3 L73.9,131.4 L74.2,130.6 L74.5,129.8 L74.7,129.1 L75.0,128.4 L75.3,127.8 L75.6,127.2 L75.9,126.6 L76.2,126.0 L76.5,125.5 L76.8,125.0 L77.0,124.5 L77.3,124.1 L77.6,123.6 L77.9,123.2 L78.2,122.8 L78.5,122.4 L78.8,122.1 L79.1,121.7 L79.3,121.4 L79.6,121.0 L79.9,120.7 L80.2,120.4 L80.5,120.1 L80.8,119.8 L81.1,119.5 L81.3,119.3 L81.6,119.0 L81.9,118.8 L82.2,118.5 L82.5,118.3 L82.8,118.0 L83.1,117.8 L83.4,117.6 L83.6,117.4 L83.9,117.2 L84.2,117.0 L84.5,116.8 L84.8,116.6 L85.1,116.4 L85.4,116.2 L85.7,116.0 L85.9,115.8 L86.2,115.6 L86.5,115.5 L86.8,115.3 L87.1,115.1 L87.4,115.0 L87.7,114.8 L88.0,114.6 L88.2,114.5 L88.5,114.3 L88.8,114.2 L89.1,114.0 L89.4,113.9 L89.7,113.8 L90.0,113.6 L90.2,113.5 L90.5,113.3 L90.8,113.2 L91.1,113.1 L91.4,113.0 L91.7,112.8 L92.0,112.7 L92.3,112.6 L92.5,112.5 L92.8,112.3 L93.1,112.2 L93.4,112.1 L93.7,112.0 L94.0,111.9 L94.3,111.8 L94.6,111.7 L94.8,111.6 L95.1,111.5 L95.4,111.4 L95.7,111.3 L96.0,111.2 L96.3,111.1 L96.6,111.0 L96.8,110.9 L97.1,110.8 L97.4,110.7 L97.7,110.6 L98.0,110.5 L98.3,110.4 L98.6,110.3 L98.9,110.2 L99.1,110.1 L99.4,110.1 L99.7,110.0 L100.0,109.9 L100.3,109.8 L100.6,109.7 L100.9,109.7 L101.2,109.6 L101.4,109.5 L101.7,109.4 L102.0,109.4 L102.3,109.3 L102.6,109.2 L102.9,109.1 L103.2,109.1 L103.4,109.0 L103.7,108.9 L104.0,108.9 L104.3,108.8 L104.6,108.7 L104.9,108.7 L105.2,108.6 L105.5,108.6 L105.7,108.5 L106.0,108.4 L106.3,108.4 L106.6,108.3 L106.9,108.3 L107.2,108.2 L107.5,108.1 L107.8,108.1 L108.0,108.0 L108.3,108.0 L108.6,107.9 L108.9,107.9 L109.2,107.8 L109.5,107.8 L109.8,107.7 L110.0,107.7 L110.3,107.6 L110.6,107.6 L110.9,107.5 L111.2,107.5 L111.5,107.4 L111.8,107.4 L112.1,107.3 L112.3,107.3 L112.6,107.3 L112.9,107.2 L113.2,107.2 L113.5,107.1 L113.8,107.1 L114.1,107.0 L114.4,107.0 L114.6,107.0 L114.9,106.9 L115.2,106.9 L115.5,106.9 L115.8,106.8 L116.1,106.8 L116.4,106.7 L116.7,106.7 L116.9,106.7 L117.2,106.6 L117.5,106.6 L117.8,106.6 L118.1,106.5 L118.4,106.5 L118.7,106.5 L118.9,106.4 L119.2,106.4 L119.5,106.4 L119.8,106.4 L120.1,106.3 L120.4,106.3 L120.7,106.3 L121.0,106.2 L121.2,106.2 L121.5,106.2 L121.8,106.2 L122.1,106.1 L122.4,106.1 L122.7,106.1 L123.0,106.0 L123.3,106.0 L123.5,106.0 L123.8,106.0 L124.1,105.9 L124.4,105.9 L124.7,105.9 L125.0,105.9 L125.3,105.9 L125.5,105.8 L125.8,105.8 L126.1,105.8 L126.4,105.8 L126.7,105.7 L127.0,105.7 L127.3,105.7 L127.6,105.7 L127.8,105.7 L128.1,105.6 L128.4,105.6 L128.7,105.6 L129.0,105.6 L129.3,105.6 L129.6,105.5 L129.9,105.5 L130.1,105.5 L130.4,105.5 L130.7,105.5 L131.0,105.5 L131.3,105.4 L131.6,105.4 L131.9,105.4 L132.1,105.4 L132.4,105.4 L132.7,105.4 L133.0,105.3 L133.3,105.3 L133.6,105.3 L133.9,105.3 L134.2,105.3 L134.4,105.3 L134.7,105.2 L135.0,105.2 L135.3,105.2 L135.6,105.2 L135.9,105.2 L136.2,105.2 L136.5,105.2 L136.7,105.2 L137.0,105.1 L137.3,105.1 L137.6,105.1 L137.9,105.1 L138.2,105.1 L138.5,105.1 L138.8,105.1 L139.0,105.1 L139.3,105.0 L139.6,105.0 L139.9,105.0 L140.2,105.0 L140.5,105.0 L140.8,105.0 L141.0,105.0 L141.3,105.0 L141.6,105.0 L141.9,104.9 L142.2,104.9 L142.5,104.9 L142.8,104.9 L143.1,104.9 L143.3,104.9 L143.6,104.9 L143.9,104.9 L144.2,104.9 L144.5,104.9 L144.8,104.9 L145.1,104.8 L145.4,104.8 L145.6,104.8 L145.9,104.8 L146.2,104.8 L146.5,104.8 L146.8,104.8 L147.1,104.8 L147.4,104.8 L147.6,104.8 L147.9,104.8 L148.2,104.8 L148.5,104.7 L148.8,104.7 L149.1,104.7 L149.4,104.7 L149.7,104.7 L149.9,104.7 L150.2,104.7 L150.5,104.7 L150.8,104.7 L151.1,104.7 L151.4,104.7 L151.7,104.7 L152.0,104.7 L152.2,104.7 L152.5,104.7 L152.8,104.7 L153.1,104.6 L153.4,106.6 L154.0,110.3 L154.5,113.4 L155.1,116.3 L155.7,118.8 L156.3,121.1 L156.8,123.1 L157.4,124.9 L158.0,126.6 L158.6,128.1 L159.1,129.5 L159.7,130.8 L160.3,132.0 L160.8,133.1 L161.4,134.2 L162.0,135.1 L162.6,136.1 L163.1,136.9 L163.7,137.7 L164.3,138.5 L164.9,139.3 L165.4,140.0 L166.0,140.7 L166.6,141.3 L167.2,142.0 L167.7,142.6 L168.3,143.1 L168.9,143.7 L169.5,144.2 L170.0,144.8 L170.6,145.3 L171.2,145.8 L171.8,146.2 L172.3,146.7 L172.9,147.1 L173.5,147.6 L174.1,148.0 L174.6,148.4 L175.2,148.8 L175.8,149.2 L176.3,149.5 L176.9,149.9 L177.5,150.3 L178.1,150.6 L178.6,150.9 L179.2,151.2 L179.8,151.5 L180.4,151.8 L180.9,152.1 L181.5,152.4 L182.1,152.7 L182.7,153.0 L183.2,153.2 L183.8,153.5 L184.4,153.7 L185.0,154.0 L185.5,154.2 L186.1,154.4 L186.7,154.7 L187.3,154.9 L187.8,155.1 L188.4,155.3 L189.0,155.5 L189.5,155.7 L190.1,155.8 L190.7,156.0 L191.3,156.2 L191.8,156.4 L192.4,156.5 L193.0,156.7 L193.6,156.9 L194.1,157.0 L194.7,157.1 L195.3,157.3 L195.9,157.4 L196.4,157.6 L197.0,157.7 L197.6,157.8 L198.2,157.9 L198.7,158.1 L199.3,158.2 L199.9,158.3 L200.5,158.4 L201.0,158.5 L201.6,158.6 L202.2,158.7 L202.8,158.8 L203.3,158.9 L203.9,159.0 L204.5,159.1 L205.0,159.2 L205.6,159.3 L206.2,159.4 L206.8,159.4 L207.3,159.5 L207.9,159.6 L208.5,159.7 L209.1,159.7 L209.6,159.8 L210.2,159.9 L210.8,159.9 L211.4,160.0 L211.9,160.1 L212.5,160.1 L213.1,160.2 L213.7,160.2 L214.2,160.3 L214.8,160.4 L215.4,160.4 L216.0,160.5 L216.5,160.5 L217.1,160.6 L217.7,160.6 L218.2,160.7 L218.8,160.7 L219.4,160.7 L220.0,160.8 L220.5,160.8 L221.1,160.9 L221.7,160.9 L222.3,160.9 L222.8,161.0 L223.4,161.0 L224.0,161.0 L224.6,161.1 L225.1,161.1 L225.7,161.1 L226.3,161.2 L226.9,161.2 L227.4,161.2 L228.0,161.3 L228.6,161.3 L229.2,161.3 L229.7,161.3 L230.3,161.4 L230.9,161.4 L231.5,161.4" fill="none" stroke="#c8303c" stroke-width="1.0" stroke-linejoin="round" opacity="0.95"/>
<path d="M53.8,182.9 L67.0,182.9 L67.0,182.9 L67.3,179.8 L67.6,177.1 L67.9,174.6 L68.1,172.3 L68.4,170.3 L68.7,168.4 L69.0,166.7 L69.3,165.1 L69.6,163.6 L69.9,162.2 L70.2,161.0 L70.4,159.8 L70.7,158.7 L71.0,157.6 L71.3,156.7 L71.6,155.8 L71.9,154.9 L72.2,154.1 L72.5,153.4 L72.7,152.6 L73.0,152.0 L73.3,151.3 L73.6,150.7 L73.9,150.2 L74.2,149.6 L74.5,149.1 L74.7,148.6 L75.0,148.2 L75.3,147.7 L75.6,147.3 L75.9,146.9 L76.2,146.5 L76.5,146.2 L76.8,145.8 L77.0,145.5 L77.3,145.2 L77.6,144.8 L77.9,144.5 L78.2,144.3 L78.5,144.0 L78.8,143.7 L79.1,143.4 L79.3,143.2 L79.6,142.9 L79.9,142.7 L80.2,142.5 L80.5,142.2 L80.8,142.0 L81.1,141.8 L81.3,141.6 L81.6,141.4 L81.9,141.2 L82.2,141.0 L82.5,140.8 L82.8,140.6 L83.1,140.4 L83.4,140.3 L83.6,140.1 L83.9,139.9 L84.2,139.7 L84.5,139.6 L84.8,139.4 L85.1,139.2 L85.4,139.1 L85.7,138.9 L85.9,138.8 L86.2,138.6 L86.5,138.5 L86.8,138.3 L87.1,138.2 L87.4,138.1 L87.7,137.9 L88.0,137.8 L88.2,137.6 L88.5,137.5 L88.8,137.4 L89.1,137.2 L89.4,137.1 L89.7,137.0 L90.0,136.9 L90.2,136.8 L90.5,136.6 L90.8,136.5 L91.1,136.4 L91.4,136.3 L91.7,136.2 L92.0,136.1 L92.3,135.9 L92.5,135.8 L92.8,135.7 L93.1,135.6 L93.4,135.5 L93.7,135.4 L94.0,135.3 L94.3,135.2 L94.6,135.1 L94.8,135.0 L95.1,134.9 L95.4,134.8 L95.7,134.7 L96.0,134.6 L96.3,134.5 L96.6,134.4 L96.8,134.3 L97.1,134.2 L97.4,134.2 L97.7,134.1 L98.0,134.0 L98.3,133.9 L98.6,133.8 L98.9,133.7 L99.1,133.6 L99.4,133.6 L99.7,133.5 L100.0,133.4 L100.3,133.3 L100.6,133.2 L100.9,133.2 L101.2,133.1 L101.4,133.0 L101.7,132.9 L102.0,132.9 L102.3,132.8 L102.6,132.7 L102.9,132.6 L103.2,132.6 L103.4,132.5 L103.7,132.4 L104.0,132.4 L104.3,132.3 L104.6,132.2 L104.9,132.2 L105.2,132.1 L105.5,132.0 L105.7,132.0 L106.0,131.9 L106.3,131.9 L106.6,131.8 L106.9,131.7 L107.2,131.7 L107.5,131.6 L107.8,131.6 L108.0,131.5 L108.3,131.4 L108.6,131.4 L108.9,131.3 L109.2,131.3 L109.5,131.2 L109.8,131.2 L110.0,131.1 L110.3,131.1 L110.6,131.0 L110.9,131.0 L111.2,130.9 L111.5,130.9 L111.8,130.8 L112.1,130.8 L112.3,130.7 L112.6,130.7 L112.9,130.6 L113.2,130.6 L113.5,130.5 L113.8,130.5 L114.1,130.4 L114.4,130.4 L114.6,130.3 L114.9,130.3 L115.2,130.3 L115.5,130.2 L115.8,130.2 L116.1,130.1 L116.4,130.1 L116.7,130.1 L116.9,130.0 L117.2,130.0 L117.5,129.9 L117.8,129.9 L118.1,129.9 L118.4,129.8 L118.7,129.8 L118.9,129.7 L119.2,129.7 L119.5,129.7 L119.8,129.6 L120.1,129.6 L120.4,129.6 L120.7,129.5 L121.0,129.5 L121.2,129.5 L121.5,129.4 L121.8,129.4 L122.1,129.4 L122.4,129.3 L122.7,129.3 L123.0,129.3 L123.3,129.2 L123.5,129.2 L123.8,129.2 L124.1,129.2 L124.4,129.1 L124.7,129.1 L125.0,129.1 L125.3,129.0 L125.5,129.0 L125.8,129.0 L126.1,129.0 L126.4,128.9 L126.7,128.9 L127.0,128.9 L127.3,128.8 L127.6,128.8 L127.8,128.8 L128.1,128.8 L128.4,128.7 L128.7,128.7 L129.0,128.7 L129.3,128.7 L129.6,128.6 L129.9,128.6 L130.1,128.6 L130.4,128.6 L130.7,128.6 L131.0,128.5 L131.3,128.5 L131.6,128.5 L131.9,128.5 L132.1,128.4 L132.4,128.4 L132.7,128.4 L133.0,128.4 L133.3,128.4 L133.6,128.3 L133.9,128.3 L134.2,128.3 L134.4,128.3 L134.7,128.3 L135.0,128.2 L135.3,128.2 L135.6,128.2 L135.9,128.2 L136.2,128.2 L136.5,128.2 L136.7,128.1 L137.0,128.1 L137.3,128.1 L137.6,128.1 L137.9,128.1 L138.2,128.0 L138.5,128.0 L138.8,128.0 L139.0,128.0 L139.3,128.0 L139.6,128.0 L139.9,128.0 L140.2,127.9 L140.5,127.9 L140.8,127.9 L141.0,127.9 L141.3,127.9 L141.6,127.9 L141.9,127.8 L142.2,127.8 L142.5,127.8 L142.8,127.8 L143.1,127.8 L143.3,127.8 L143.6,127.8 L143.9,127.8 L144.2,127.7 L144.5,127.7 L144.8,127.7 L145.1,127.7 L145.4,127.7 L145.6,127.7 L145.9,127.7 L146.2,127.7 L146.5,127.6 L146.8,127.6 L147.1,127.6 L147.4,127.6 L147.6,127.6 L147.9,127.6 L148.2,127.6 L148.5,127.6 L148.8,127.6 L149.1,127.5 L149.4,127.5 L149.7,127.5 L149.9,127.5 L150.2,127.5 L150.5,127.5 L150.8,127.5 L151.1,127.5 L151.4,127.5 L151.7,127.4 L152.0,127.4 L152.2,127.4 L152.5,127.4 L152.8,127.4 L153.1,127.4 L153.4,128.8 L154.0,131.3 L154.5,133.5 L155.1,135.5 L155.7,137.3 L156.3,138.9 L156.8,140.3 L157.4,141.6 L158.0,142.7 L158.6,143.8 L159.1,144.8 L159.7,145.7 L160.3,146.5 L160.8,147.3 L161.4,148.0 L162.0,148.7 L162.6,149.3 L163.1,149.9 L163.7,150.5 L164.3,151.1 L164.9,151.6 L165.4,152.1 L166.0,152.6 L166.6,153.0 L167.2,153.5 L167.7,153.9 L168.3,154.3 L168.9,154.7 L169.5,155.1 L170.0,155.4 L170.6,155.8 L171.2,156.1 L171.8,156.4 L172.3,156.8 L172.9,157.1 L173.5,157.4 L174.1,157.7 L174.6,157.9 L175.2,158.2 L175.8,158.5 L176.3,158.7 L176.9,159.0 L177.5,159.2 L178.1,159.5 L178.6,159.7 L179.2,159.9 L179.8,160.2 L180.4,160.4 L180.9,160.6 L181.5,160.8 L182.1,161.0 L182.7,161.1 L183.2,161.3 L183.8,161.5 L184.4,161.7 L185.0,161.8 L185.5,162.0 L186.1,162.2 L186.7,162.3 L187.3,162.5 L187.8,162.6 L188.4,162.8 L189.0,162.9 L189.5,163.0 L190.1,163.2 L190.7,163.3 L191.3,163.4 L191.8,163.5 L192.4,163.6 L193.0,163.7 L193.6,163.9 L194.1,164.0 L194.7,164.1 L195.3,164.2 L195.9,164.3 L196.4,164.4 L197.0,164.4 L197.6,164.5 L198.2,164.6 L198.7,164.7 L199.3,164.8 L199.9,164.9 L200.5,164.9 L201.0,165.0 L201.6,165.1 L202.2,165.2 L202.8,165.2 L203.3,165.3 L203.9,165.4 L204.5,165.4 L205.0,165.5 L205.6,165.5 L206.2,165.6 L206.8,165.7 L207.3,165.7 L207.9,165.8 L208.5,165.8 L209.1,165.9 L209.6,165.9 L210.2,166.0 L210.8,166.0 L211.4,166.1 L211.9,166.1 L212.5,166.1 L213.1,166.2 L213.7,166.2 L214.2,166.3 L214.8,166.3 L215.4,166.3 L216.0,166.4 L216.5,166.4 L217.1,166.4 L217.7,166.5 L218.2,166.5 L218.8,166.5 L219.4,166.6 L220.0,166.6 L220.5,166.6 L221.1,166.7 L221.7,166.7 L222.3,166.7 L222.8,166.7 L223.4,166.8 L224.0,166.8 L224.6,166.8 L225.1,166.8 L225.7,166.8 L226.3,166.9 L226.9,166.9 L227.4,166.9 L228.0,166.9 L228.6,166.9 L229.2,167.0 L229.7,167.0 L230.3,167.0 L230.9,167.0 L231.5,167.0" fill="none" stroke="#c8303c" stroke-width="1.0" stroke-linejoin="round" opacity="0.95"/>
<path d="M53.8,182.9 L67.0,182.9 L67.0,182.9 L67.3,180.8 L67.6,179.1 L67.9,177.5 L68.1,176.0 L68.4,174.8 L68.7,173.6 L69.0,172.5 L69.3,171.5 L69.6,170.6 L69.9,169.8 L70.2,169.0 L70.4,168.2 L70.7,167.6 L71.0,166.9 L71.3,166.3 L71.6,165.7 L71.9,165.2 L72.2,164.7 L72.5,164.2 L72.7,163.8 L73.0,163.3 L73.3,162.9 L73.6,162.6 L73.9,162.2 L74.2,161.8 L74.5,161.5 L74.7,161.2 L75.0,160.9 L75.3,160.6 L75.6,160.3 L75.9,160.1 L76.2,159.8 L76.5,159.6 L76.8,159.3 L77.0,159.1 L77.3,158.9 L77.6,158.7 L77.9,158.4 L78.2,158.2 L78.5,158.0 L78.8,157.9 L79.1,157.7 L79.3,157.5 L79.6,157.3 L79.9,157.2 L80.2,157.0 L80.5,156.8 L80.8,156.7 L81.1,156.5 L81.3,156.4 L81.6,156.2 L81.9,156.1 L82.2,155.9 L82.5,155.8 L82.8,155.7 L83.1,155.5 L83.4,155.4 L83.6,155.3 L83.9,155.1 L84.2,155.0 L84.5,154.9 L84.8,154.8 L85.1,154.6 L85.4,154.5 L85.7,154.4 L85.9,154.3 L86.2,154.2 L86.5,154.1 L86.8,154.0 L87.1,153.9 L87.4,153.8 L87.7,153.7 L88.0,153.5 L88.2,153.4 L88.5,153.3 L88.8,153.2 L89.1,153.1 L89.4,153.1 L89.7,153.0 L90.0,152.9 L90.2,152.8 L90.5,152.7 L90.8,152.6 L91.1,152.5 L91.4,152.4 L91.7,152.3 L92.0,152.2 L92.3,152.2 L92.5,152.1 L92.8,152.0 L93.1,151.9 L93.4,151.8 L93.7,151.7 L94.0,151.7 L94.3,151.6 L94.6,151.5 L94.8,151.4 L95.1,151.3 L95.4,151.3 L95.7,151.2 L96.0,151.1 L96.3,151.1 L96.6,151.0 L96.8,150.9 L97.1,150.8 L97.4,150.8 L97.7,150.7 L98.0,150.6 L98.3,150.6 L98.6,150.5 L98.9,150.4 L99.1,150.4 L99.4,150.3 L99.7,150.2 L100.0,150.2 L100.3,150.1 L100.6,150.1 L100.9,150.0 L101.2,149.9 L101.4,149.9 L101.7,149.8 L102.0,149.8 L102.3,149.7 L102.6,149.6 L102.9,149.6 L103.2,149.5 L103.4,149.5 L103.7,149.4 L104.0,149.4 L104.3,149.3 L104.6,149.3 L104.9,149.2 L105.2,149.2 L105.5,149.1 L105.7,149.1 L106.0,149.0 L106.3,149.0 L106.6,148.9 L106.9,148.9 L107.2,148.8 L107.5,148.8 L107.8,148.7 L108.0,148.7 L108.3,148.6 L108.6,148.6 L108.9,148.6 L109.2,148.5 L109.5,148.5 L109.8,148.4 L110.0,148.4 L110.3,148.3 L110.6,148.3 L110.9,148.3 L111.2,148.2 L111.5,148.2 L111.8,148.1 L112.1,148.1 L112.3,148.1 L112.6,148.0 L112.9,148.0 L113.2,147.9 L113.5,147.9 L113.8,147.9 L114.1,147.8 L114.4,147.8 L114.6,147.8 L114.9,147.7 L115.2,147.7 L115.5,147.7 L115.8,147.6 L116.1,147.6 L116.4,147.6 L116.7,147.5 L116.9,147.5 L117.2,147.5 L117.5,147.4 L117.8,147.4 L118.1,147.4 L118.4,147.3 L118.7,147.3 L118.9,147.3 L119.2,147.2 L119.5,147.2 L119.8,147.2 L120.1,147.2 L120.4,147.1 L120.7,147.1 L121.0,147.1 L121.2,147.0 L121.5,147.0 L121.8,147.0 L122.1,147.0 L122.4,146.9 L122.7,146.9 L123.0,146.9 L123.3,146.9 L123.5,146.8 L123.8,146.8 L124.1,146.8 L124.4,146.8 L124.7,146.7 L125.0,146.7 L125.3,146.7 L125.5,146.7 L125.8,146.6 L126.1,146.6 L126.4,146.6 L126.7,146.6 L127.0,146.6 L127.3,146.5 L127.6,146.5 L127.8,146.5 L128.1,146.5 L128.4,146.4 L128.7,146.4 L129.0,146.4 L129.3,146.4 L129.6,146.4 L129.9,146.3 L130.1,146.3 L130.4,146.3 L130.7,146.3 L131.0,146.3 L131.3,146.3 L131.6,146.2 L131.9,146.2 L132.1,146.2 L132.4,146.2 L132.7,146.2 L133.0,146.1 L133.3,146.1 L133.6,146.1 L133.9,146.1 L134.2,146.1 L134.4,146.1 L134.7,146.0 L135.0,146.0 L135.3,146.0 L135.6,146.0 L135.9,146.0 L136.2,146.0 L136.5,146.0 L136.7,145.9 L137.0,145.9 L137.3,145.9 L137.6,145.9 L137.9,145.9 L138.2,145.9 L138.5,145.8 L138.8,145.8 L139.0,145.8 L139.3,145.8 L139.6,145.8 L139.9,145.8 L140.2,145.8 L140.5,145.8 L140.8,145.7 L141.0,145.7 L141.3,145.7 L141.6,145.7 L141.9,145.7 L142.2,145.7 L142.5,145.7 L142.8,145.7 L143.1,145.6 L143.3,145.6 L143.6,145.6 L143.9,145.6 L144.2,145.6 L144.5,145.6 L144.8,145.6 L145.1,145.6 L145.4,145.6 L145.6,145.5 L145.9,145.5 L146.2,145.5 L146.5,145.5 L146.8,145.5 L147.1,145.5 L147.4,145.5 L147.6,145.5 L147.9,145.5 L148.2,145.5 L148.5,145.4 L148.8,145.4 L149.1,145.4 L149.4,145.4 L149.7,145.4 L149.9,145.4 L150.2,145.4 L150.5,145.4 L150.8,145.4 L151.1,145.4 L151.4,145.4 L151.7,145.3 L152.0,145.3 L152.2,145.3 L152.5,145.3 L152.8,145.3 L153.1,145.3 L153.4,146.2 L154.0,147.8 L154.5,149.2 L155.1,150.5 L155.7,151.6 L156.3,152.6 L156.8,153.5 L157.4,154.3 L158.0,155.1 L158.6,155.8 L159.1,156.4 L159.7,157.0 L160.3,157.5 L160.8,158.0 L161.4,158.5 L162.0,158.9 L162.6,159.3 L163.1,159.7 L163.7,160.1 L164.3,160.4 L164.9,160.7 L165.4,161.1 L166.0,161.4 L166.6,161.7 L167.2,161.9 L167.7,162.2 L168.3,162.5 L168.9,162.7 L169.5,163.0 L170.0,163.2 L170.6,163.4 L171.2,163.6 L171.8,163.9 L172.3,164.1 L172.9,164.3 L173.5,164.4 L174.1,164.6 L174.6,164.8 L175.2,165.0 L175.8,165.2 L176.3,165.3 L176.9,165.5 L177.5,165.6 L178.1,165.8 L178.6,165.9 L179.2,166.1 L179.8,166.2 L180.4,166.4 L180.9,166.5 L181.5,166.6 L182.1,166.7 L182.7,166.9 L183.2,167.0 L183.8,167.1 L184.4,167.2 L185.0,167.3 L185.5,167.4 L186.1,167.5 L186.7,167.6 L187.3,167.7 L187.8,167.8 L188.4,167.9 L189.0,168.0 L189.5,168.1 L190.1,168.1 L190.7,168.2 L191.3,168.3 L191.8,168.4 L192.4,168.4 L193.0,168.5 L193.6,168.6 L194.1,168.7 L194.7,168.7 L195.3,168.8 L195.9,168.8 L196.4,168.9 L197.0,169.0 L197.6,169.0 L198.2,169.1 L198.7,169.1 L199.3,169.2 L199.9,169.2 L200.5,169.3 L201.0,169.3 L201.6,169.4 L202.2,169.4 L202.8,169.5 L203.3,169.5 L203.9,169.5 L204.5,169.6 L205.0,169.6 L205.6,169.7 L206.2,169.7 L206.8,169.7 L207.3,169.8 L207.9,169.8 L208.5,169.8 L209.1,169.9 L209.6,169.9 L210.2,169.9 L210.8,170.0 L211.4,170.0 L211.9,170.0 L212.5,170.0 L213.1,170.1 L213.7,170.1 L214.2,170.1 L214.8,170.1 L215.4,170.2 L216.0,170.2 L216.5,170.2 L217.1,170.2 L217.7,170.3 L218.2,170.3 L218.8,170.3 L219.4,170.3 L220.0,170.3 L220.5,170.4 L221.1,170.4 L221.7,170.4 L222.3,170.4 L222.8,170.4 L223.4,170.4 L224.0,170.5 L224.6,170.5 L225.1,170.5 L225.7,170.5 L226.3,170.5 L226.9,170.5 L227.4,170.5 L228.0,170.5 L228.6,170.6 L229.2,170.6 L229.7,170.6 L230.3,170.6 L230.9,170.6 L231.5,170.6" fill="none" stroke="#c8303c" stroke-width="1.0" stroke-linejoin="round" opacity="0.95"/>
<path d="M53.8,182.9 L67.0,182.9 L67.0,182.9 L67.3,181.3 L67.6,180.0 L67.9,178.8 L68.1,177.8 L68.4,176.9 L68.7,176.0 L69.0,175.2 L69.3,174.5 L69.6,173.9 L69.9,173.3 L70.2,172.7 L70.4,172.2 L70.7,171.7 L71.0,171.3 L71.3,170.9 L71.6,170.4 L71.9,170.1 L72.2,169.7 L72.5,169.4 L72.7,169.0 L73.0,168.7 L73.3,168.4 L73.6,168.2 L73.9,167.9 L74.2,167.6 L74.5,167.4 L74.7,167.2 L75.0,166.9 L75.3,166.7 L75.6,166.5 L75.9,166.3 L76.2,166.1 L76.5,165.9 L76.8,165.7 L77.0,165.6 L77.3,165.4 L77.6,165.2 L77.9,165.1 L78.2,164.9 L78.5,164.8 L78.8,164.6 L79.1,164.5 L79.3,164.3 L79.6,164.2 L79.9,164.1 L80.2,163.9 L80.5,163.8 L80.8,163.7 L81.1,163.6 L81.3,163.4 L81.6,163.3 L81.9,163.2 L82.2,163.1 L82.5,163.0 L82.8,162.9 L83.1,162.8 L83.4,162.7 L83.6,162.6 L83.9,162.5 L84.2,162.4 L84.5,162.3 L84.8,162.2 L85.1,162.1 L85.4,162.0 L85.7,161.9 L85.9,161.8 L86.2,161.7 L86.5,161.6 L86.8,161.5 L87.1,161.4 L87.4,161.4 L87.7,161.3 L88.0,161.2 L88.2,161.1 L88.5,161.0 L88.8,161.0 L89.1,160.9 L89.4,160.8 L89.7,160.7 L90.0,160.6 L90.2,160.6 L90.5,160.5 L90.8,160.4 L91.1,160.3 L91.4,160.3 L91.7,160.2 L92.0,160.1 L92.3,160.1 L92.5,160.0 L92.8,159.9 L93.1,159.9 L93.4,159.8 L93.7,159.7 L94.0,159.7 L94.3,159.6 L94.6,159.5 L94.8,159.5 L95.1,159.4 L95.4,159.4 L95.7,159.3 L96.0,159.2 L96.3,159.2 L96.6,159.1 L96.8,159.1 L97.1,159.0 L97.4,158.9 L97.7,158.9 L98.0,158.8 L98.3,158.8 L98.6,158.7 L98.9,158.7 L99.1,158.6 L99.4,158.6 L99.7,158.5 L100.0,158.5 L100.3,158.4 L100.6,158.4 L100.9,158.3 L101.2,158.3 L101.4,158.2 L101.7,158.2 L102.0,158.1 L102.3,158.1 L102.6,158.0 L102.9,158.0 L103.2,157.9 L103.4,157.9 L103.7,157.9 L104.0,157.8 L104.3,157.8 L104.6,157.7 L104.9,157.7 L105.2,157.6 L105.5,157.6 L105.7,157.6 L106.0,157.5 L106.3,157.5 L106.6,157.4 L106.9,157.4 L107.2,157.4 L107.5,157.3 L107.8,157.3 L108.0,157.3 L108.3,157.2 L108.6,157.2 L108.9,157.1 L109.2,157.1 L109.5,157.1 L109.8,157.0 L110.0,157.0 L110.3,157.0 L110.6,156.9 L110.9,156.9 L111.2,156.9 L111.5,156.8 L111.8,156.8 L112.1,156.8 L112.3,156.7 L112.6,156.7 L112.9,156.7 L113.2,156.7 L113.5,156.6 L113.8,156.6 L114.1,156.6 L114.4,156.5 L114.6,156.5 L114.9,156.5 L115.2,156.4 L115.5,156.4 L115.8,156.4 L116.1,156.4 L116.4,156.3 L116.7,156.3 L116.9,156.3 L117.2,156.3 L117.5,156.2 L117.8,156.2 L118.1,156.2 L118.4,156.2 L118.7,156.1 L118.9,156.1 L119.2,156.1 L119.5,156.1 L119.8,156.0 L120.1,156.0 L120.4,156.0 L120.7,156.0 L121.0,155.9 L121.2,155.9 L121.5,155.9 L121.8,155.9 L122.1,155.9 L122.4,155.8 L122.7,155.8 L123.0,155.8 L123.3,155.8 L123.5,155.8 L123.8,155.7 L124.1,155.7 L124.4,155.7 L124.7,155.7 L125.0,155.7 L125.3,155.6 L125.5,155.6 L125.8,155.6 L126.1,155.6 L126.4,155.6 L126.7,155.5 L127.0,155.5 L127.3,155.5 L127.6,155.5 L127.8,155.5 L128.1,155.5 L128.4,155.4 L128.7,155.4 L129.0,155.4 L129.3,155.4 L129.6,155.4 L129.9,155.4 L130.1,155.3 L130.4,155.3 L130.7,155.3 L131.0,155.3 L131.3,155.3 L131.6,155.3 L131.9,155.2 L132.1,155.2 L132.4,155.2 L132.7,155.2 L133.0,155.2 L133.3,155.2 L133.6,155.2 L133.9,155.2 L134.2,155.1 L134.4,155.1 L134.7,155.1 L135.0,155.1 L135.3,155.1 L135.6,155.1 L135.9,155.1 L136.2,155.0 L136.5,155.0 L136.7,155.0 L137.0,155.0 L137.3,155.0 L137.6,155.0 L137.9,155.0 L138.2,155.0 L138.5,155.0 L138.8,154.9 L139.0,154.9 L139.3,154.9 L139.6,154.9 L139.9,154.9 L140.2,154.9 L140.5,154.9 L140.8,154.9 L141.0,154.9 L141.3,154.8 L141.6,154.8 L141.9,154.8 L142.2,154.8 L142.5,154.8 L142.8,154.8 L143.1,154.8 L143.3,154.8 L143.6,154.8 L143.9,154.8 L144.2,154.7 L144.5,154.7 L144.8,154.7 L145.1,154.7 L145.4,154.7 L145.6,154.7 L145.9,154.7 L146.2,154.7 L146.5,154.7 L146.8,154.7 L147.1,154.7 L147.4,154.7 L147.6,154.6 L147.9,154.6 L148.2,154.6 L148.5,154.6 L148.8,154.6 L149.1,154.6 L149.4,154.6 L149.7,154.6 L149.9,154.6 L150.2,154.6 L150.5,154.6 L150.8,154.6 L151.1,154.6 L151.4,154.5 L151.7,154.5 L152.0,154.5 L152.2,154.5 L152.5,154.5 L152.8,154.5 L153.1,154.5 L153.4,155.2 L154.0,156.5 L154.5,157.6 L155.1,158.6 L155.7,159.5 L156.3,160.3 L156.8,161.0 L157.4,161.6 L158.0,162.2 L158.6,162.8 L159.1,163.2 L159.7,163.7 L160.3,164.1 L160.8,164.5 L161.4,164.9 L162.0,165.2 L162.6,165.5 L163.1,165.8 L163.7,166.1 L164.3,166.4 L164.9,166.7 L165.4,166.9 L166.0,167.2 L166.6,167.4 L167.2,167.6 L167.7,167.8 L168.3,168.0 L168.9,168.2 L169.5,168.4 L170.0,168.6 L170.6,168.8 L171.2,169.0 L171.8,169.1 L172.3,169.3 L172.9,169.4 L173.5,169.6 L174.1,169.7 L174.6,169.9 L175.2,170.0 L175.8,170.2 L176.3,170.3 L176.9,170.4 L177.5,170.5 L178.1,170.6 L178.6,170.8 L179.2,170.9 L179.8,171.0 L180.4,171.1 L180.9,171.2 L181.5,171.3 L182.1,171.4 L182.7,171.5 L183.2,171.6 L183.8,171.7 L184.4,171.8 L185.0,171.8 L185.5,171.9 L186.1,172.0 L186.7,172.1 L187.3,172.2 L187.8,172.2 L188.4,172.3 L189.0,172.4 L189.5,172.4 L190.1,172.5 L190.7,172.6 L191.3,172.6 L191.8,172.7 L192.4,172.7 L193.0,172.8 L193.6,172.8 L194.1,172.9 L194.7,173.0 L195.3,173.0 L195.9,173.1 L196.4,173.1 L197.0,173.1 L197.6,173.2 L198.2,173.2 L198.7,173.3 L199.3,173.3 L199.9,173.4 L200.5,173.4 L201.0,173.4 L201.6,173.5 L202.2,173.5 L202.8,173.5 L203.3,173.6 L203.9,173.6 L204.5,173.6 L205.0,173.7 L205.6,173.7 L206.2,173.7 L206.8,173.8 L207.3,173.8 L207.9,173.8 L208.5,173.8 L209.1,173.9 L209.6,173.9 L210.2,173.9 L210.8,173.9 L211.4,174.0 L211.9,174.0 L212.5,174.0 L213.1,174.0 L213.7,174.0 L214.2,174.1 L214.8,174.1 L215.4,174.1 L216.0,174.1 L216.5,174.1 L217.1,174.2 L217.7,174.2 L218.2,174.2 L218.8,174.2 L219.4,174.2 L220.0,174.2 L220.5,174.2 L221.1,174.3 L221.7,174.3 L222.3,174.3 L222.8,174.3 L223.4,174.3 L224.0,174.3 L224.6,174.3 L225.1,174.3 L225.7,174.4 L226.3,174.4 L226.9,174.4 L227.4,174.4 L228.0,174.4 L228.6,174.4 L229.2,174.4 L229.7,174.4 L230.3,174.4 L230.9,174.4 L231.5,174.5" fill="none" stroke="#c8303c" stroke-width="1.0" stroke-linejoin="round" opacity="0.95"/>
<path d="M53.8,182.9 L67.0,182.9 L67.0,182.9 L67.3,182.0 L67.6,181.2 L67.9,180.5 L68.1,180.0 L68.4,179.5 L68.7,179.1 L69.0,178.7 L69.3,178.3 L69.6,178.0 L69.9,177.7 L70.2,177.4 L70.4,177.1 L70.7,176.9 L71.0,176.6 L71.3,176.4 L71.6,176.1 L71.9,175.9 L72.2,175.7 L72.5,175.5 L72.7,175.3 L73.0,175.1 L73.3,174.9 L73.6,174.7 L73.9,174.5 L74.2,174.4 L74.5,174.2 L74.7,174.0 L75.0,173.8 L75.3,173.7 L75.6,173.5 L75.9,173.4 L76.2,173.2 L76.5,173.1 L76.8,172.9 L77.0,172.8 L77.3,172.6 L77.6,172.5 L77.9,172.4 L78.2,172.2 L78.5,172.1 L78.8,172.0 L79.1,171.9 L79.3,171.7 L79.6,171.6 L79.9,171.5 L80.2,171.4 L80.5,171.3 L80.8,171.2 L81.1,171.1 L81.3,170.9 L81.6,170.8 L81.9,170.7 L82.2,170.6 L82.5,170.5 L82.8,170.4 L83.1,170.3 L83.4,170.2 L83.6,170.2 L83.9,170.1 L84.2,170.0 L84.5,169.9 L84.8,169.8 L85.1,169.7 L85.4,169.6 L85.7,169.5 L85.9,169.5 L86.2,169.4 L86.5,169.3 L86.8,169.2 L87.1,169.2 L87.4,169.1 L87.7,169.0 L88.0,168.9 L88.2,168.9 L88.5,168.8 L88.8,168.7 L89.1,168.7 L89.4,168.6 L89.7,168.5 L90.0,168.5 L90.2,168.4 L90.5,168.3 L90.8,168.3 L91.1,168.2 L91.4,168.2 L91.7,168.1 L92.0,168.0 L92.3,168.0 L92.5,167.9 L92.8,167.9 L93.1,167.8 L93.4,167.8 L93.7,167.7 L94.0,167.7 L94.3,167.6 L94.6,167.6 L94.8,167.5 L95.1,167.5 L95.4,167.4 L95.7,167.4 L96.0,167.3 L96.3,167.3 L96.6,167.2 L96.8,167.2 L97.1,167.2 L97.4,167.1 L97.7,167.1 L98.0,167.0 L98.3,167.0 L98.6,167.0 L98.9,166.9 L99.1,166.9 L99.4,166.8 L99.7,166.8 L100.0,166.8 L100.3,166.7 L100.6,166.7 L100.9,166.7 L101.2,166.6 L101.4,166.6 L101.7,166.6 L102.0,166.5 L102.3,166.5 L102.6,166.5 L102.9,166.4 L103.2,166.4 L103.4,166.4 L103.7,166.4 L104.0,166.3 L104.3,166.3 L104.6,166.3 L104.9,166.2 L105.2,166.2 L105.5,166.2 L105.7,166.2 L106.0,166.1 L106.3,166.1 L106.6,166.1 L106.9,166.1 L107.2,166.0 L107.5,166.0 L107.8,166.0 L108.0,166.0 L108.3,166.0 L108.6,165.9 L108.9,165.9 L109.2,165.9 L109.5,165.9 L109.8,165.8 L110.0,165.8 L110.3,165.8 L110.6,165.8 L110.9,165.8 L111.2,165.8 L111.5,165.7 L111.8,165.7 L112.1,165.7 L112.3,165.7 L112.6,165.7 L112.9,165.6 L113.2,165.6 L113.5,165.6 L113.8,165.6 L114.1,165.6 L114.4,165.6 L114.6,165.5 L114.9,165.5 L115.2,165.5 L115.5,165.5 L115.8,165.5 L116.1,165.5 L116.4,165.5 L116.7,165.4 L116.9,165.4 L117.2,165.4 L117.5,165.4 L117.8,165.4 L118.1,165.4 L118.4,165.4 L118.7,165.4 L118.9,165.3 L119.2,165.3 L119.5,165.3 L119.8,165.3 L120.1,165.3 L120.4,165.3 L120.7,165.3 L121.0,165.3 L121.2,165.3 L121.5,165.2 L121.8,165.2 L122.1,165.2 L122.4,165.2 L122.7,165.2 L123.0,165.2 L123.3,165.2 L123.5,165.2 L123.8,165.2 L124.1,165.2 L124.4,165.2 L124.7,165.1 L125.0,165.1 L125.3,165.1 L125.5,165.1 L125.8,165.1 L126.1,165.1 L126.4,165.1 L126.7,165.1 L127.0,165.1 L127.3,165.1 L127.6,165.1 L127.8,165.1 L128.1,165.1 L128.4,165.0 L128.7,165.0 L129.0,165.0 L129.3,165.0 L129.6,165.0 L129.9,165.0 L130.1,165.0 L130.4,165.0 L130.7,165.0 L131.0,165.0 L131.3,165.0 L131.6,165.0 L131.9,165.0 L132.1,165.0 L132.4,165.0 L132.7,165.0 L133.0,165.0 L133.3,164.9 L133.6,164.9 L133.9,164.9 L134.2,164.9 L134.4,164.9 L134.7,164.9 L135.0,164.9 L135.3,164.9 L135.6,164.9 L135.9,164.9 L136.2,164.9 L136.5,164.9 L136.7,164.9 L137.0,164.9 L137.3,164.9 L137.6,164.9 L137.9,164.9 L138.2,164.9 L138.5,164.9 L138.8,164.9 L139.0,164.9 L139.3,164.9 L139.6,164.9 L139.9,164.8 L140.2,164.8 L140.5,164.8 L140.8,164.8 L141.0,164.8 L141.3,164.8 L141.6,164.8 L141.9,164.8 L142.2,164.8 L142.5,164.8 L142.8,164.8 L143.1,164.8 L143.3,164.8 L143.6,164.8 L143.9,164.8 L144.2,164.8 L144.5,164.8 L144.8,164.8 L145.1,164.8 L145.4,164.8 L145.6,164.8 L145.9,164.8 L146.2,164.8 L146.5,164.8 L146.8,164.8 L147.1,164.8 L147.4,164.8 L147.6,164.8 L147.9,164.8 L148.2,164.8 L148.5,164.8 L148.8,164.8 L149.1,164.8 L149.4,164.8 L149.7,164.8 L149.9,164.8 L150.2,164.8 L150.5,164.8 L150.8,164.7 L151.1,164.7 L151.4,164.7 L151.7,164.7 L152.0,164.7 L152.2,164.7 L152.5,164.7 L152.8,164.7 L153.1,164.7 L153.4,165.1 L154.0,165.8 L154.5,166.4 L155.1,166.9 L155.7,167.3 L156.3,167.8 L156.8,168.1 L157.4,168.5 L158.0,168.8 L158.6,169.1 L159.1,169.3 L159.7,169.6 L160.3,169.8 L160.8,170.0 L161.4,170.2 L162.0,170.4 L162.6,170.5 L163.1,170.7 L163.7,170.8 L164.3,171.0 L164.9,171.1 L165.4,171.3 L166.0,171.4 L166.6,171.5 L167.2,171.6 L167.7,171.7 L168.3,171.8 L168.9,171.9 L169.5,172.0 L170.0,172.1 L170.6,172.2 L171.2,172.3 L171.8,172.4 L172.3,172.5 L172.9,172.6 L173.5,172.7 L174.1,172.7 L174.6,172.8 L175.2,172.9 L175.8,173.0 L176.3,173.0 L176.9,173.1 L177.5,173.2 L178.1,173.2 L178.6,173.3 L179.2,173.3 L179.8,173.4 L180.4,173.5 L180.9,173.5 L181.5,173.6 L182.1,173.6 L182.7,173.7 L183.2,173.7 L183.8,173.8 L184.4,173.8 L185.0,173.8 L185.5,173.9 L186.1,173.9 L186.7,174.0 L187.3,174.0 L187.8,174.0 L188.4,174.1 L189.0,174.1 L189.5,174.2 L190.1,174.2 L190.7,174.2 L191.3,174.3 L191.8,174.3 L192.4,174.3 L193.0,174.3 L193.6,174.4 L194.1,174.4 L194.7,174.4 L195.3,174.5 L195.9,174.5 L196.4,174.5 L197.0,174.5 L197.6,174.6 L198.2,174.6 L198.7,174.6 L199.3,174.6 L199.9,174.6 L200.5,174.7 L201.0,174.7 L201.6,174.7 L202.2,174.7 L202.8,174.7 L203.3,174.8 L203.9,174.8 L204.5,174.8 L205.0,174.8 L205.6,174.8 L206.2,174.8 L206.8,174.9 L207.3,174.9 L207.9,174.9 L208.5,174.9 L209.1,174.9 L209.6,174.9 L210.2,174.9 L210.8,174.9 L211.4,175.0 L211.9,175.0 L212.5,175.0 L213.1,175.0 L213.7,175.0 L214.2,175.0 L214.8,175.0 L215.4,175.0 L216.0,175.0 L216.5,175.1 L217.1,175.1 L217.7,175.1 L218.2,175.1 L218.8,175.1 L219.4,175.1 L220.0,175.1 L220.5,175.1 L221.1,175.1 L221.7,175.1 L222.3,175.1 L222.8,175.1 L223.4,175.1 L224.0,175.2 L224.6,175.2 L225.1,175.2 L225.7,175.2 L226.3,175.2 L226.9,175.2 L227.4,175.2 L228.0,175.2 L228.6,175.2 L229.2,175.2 L229.7,175.2 L230.3,175.2 L230.9,175.2 L231.5,175.2" fill="none" stroke="#c8303c" stroke-width="1.0" stroke-linejoin="round" opacity="0.95"/>
<line x1="152.80" y1="78.31" x2="152.80" y2="174.84" stroke="#c8303c" stroke-width="1.0" />
<line x1="152.80" y1="174.84" x2="231.45" y2="174.84" stroke="#c8303c" stroke-width="1.0" />
<line x1="231.45" y1="155.27" x2="231.45" y2="174.84" stroke="#c8303c" stroke-width="1.0" />
<path d="M310.1,180.6 L310.2,177.6 L310.2,182.1 L310.3,177.9 L310.4,179.7 L310.4,182.6 L310.5,180.1 L310.6,179.3 L310.7,178.2 L310.7,177.1 L310.8,183.5 L310.9,182.0 L310.9,181.9 L311.0,183.7 L311.1,174.9 L311.2,181.2 L311.2,180.8 L311.3,181.1 L311.4,182.3 L311.4,177.7 L311.5,179.7 L311.6,181.8 L311.7,180.9 L311.7,179.0 L311.8,179.3 L311.9,177.8 L311.9,176.8 L312.0,181.4 L312.1,182.6 L312.2,181.3 L312.2,179.7 L312.3,181.7 L312.4,179.3 L312.4,183.2 L312.5,180.2 L312.6,179.2 L312.7,182.3 L312.7,178.2 L312.8,175.9 L312.9,185.6 L312.9,182.2 L313.0,180.6 L313.1,178.2 L313.2,182.7 L313.2,179.7 L313.3,176.5 L313.4,179.4 L313.4,181.6 L313.5,181.6 L313.6,179.5 L313.7,179.0 L313.7,179.2 L313.8,180.1 L313.9,185.6 L313.9,182.3 L314.0,181.0 L314.1,179.7 L314.1,178.8 L314.2,181.8 L314.3,178.4 L314.4,176.1 L314.4,178.9 L314.5,178.1 L314.6,181.3 L314.6,182.7 L314.7,178.9 L314.8,179.2 L314.9,177.5 L314.9,181.1 L315.0,182.9 L315.1,182.8 L315.1,179.6 L315.2,185.3 L315.3,176.9 L315.4,181.4 L315.4,180.3 L315.5,181.0 L315.6,176.3 L315.6,183.7 L315.7,178.5 L315.8,179.2 L315.9,177.3 L315.9,178.1 L316.0,183.0 L316.1,184.5 L316.1,185.6 L316.2,181.2 L316.3,179.1 L316.4,180.0 L316.4,181.4 L316.5,179.1 L316.6,184.1 L316.6,177.1 L316.7,176.6 L316.8,177.2 L316.9,178.5 L316.9,175.8 L317.0,184.1 L317.1,183.1 L317.1,180.3 L317.2,180.4 L317.3,181.2 L317.4,179.0 L317.4,181.2 L317.5,176.1 L317.6,180.2 L317.6,185.6 L317.7,181.5 L317.8,182.2 L317.9,184.2 L317.9,177.9 L318.0,182.9 L318.1,185.2 L318.1,181.5 L318.2,175.6 L318.3,180.3 L318.4,175.4 L318.4,178.6 L318.5,175.5 L318.6,178.6 L318.6,178.8 L318.7,185.6 L318.8,184.0 L318.9,184.0 L318.9,181.2 L319.0,177.9 L319.1,178.5 L319.1,178.9 L319.2,185.5 L319.3,183.1 L319.4,181.0 L319.4,179.2 L319.5,180.1 L319.6,182.9 L319.6,184.3 L319.7,177.9 L319.8,183.1 L319.9,181.0 L319.9,180.5 L320.0,179.3 L320.1,182.5 L320.1,183.6 L320.2,181.0 L320.3,182.8 L320.4,180.1 L320.4,184.5 L320.5,181.5 L320.6,183.8 L320.6,174.8 L320.7,185.2 L320.8,181.9 L320.9,181.3 L320.9,182.0 L321.0,183.8 L321.1,183.0 L321.1,181.0 L321.2,176.6 L321.3,177.0 L321.4,175.6 L321.4,181.7 L321.5,179.8 L321.6,176.8 L321.6,178.7 L321.7,179.5 L321.8,179.9 L321.9,177.9 L321.9,181.5 L322.0,179.3 L322.1,182.2 L322.1,178.1 L322.2,178.6 L322.3,180.2 L322.4,183.6 L322.4,180.5 L322.5,175.9 L322.6,181.6 L322.6,179.3 L322.7,184.8 L322.8,183.0 L322.9,180.3 L322.9,177.9 L323.0,178.1 L323.1,181.8 L323.1,175.3 L323.2,185.6 L323.3,184.2 L323.4,177.5 L323.4,176.9 L323.5,175.7 L323.6,182.6 L323.6,184.0 L323.7,184.1 L323.8,182.8 L323.9,179.1 L323.9,181.3 L324.0,181.2 L324.1,178.6 L324.1,180.7 L324.2,179.7 L324.3,176.3 L324.4,182.0 L324.4,179.9 L324.5,182.1 L324.6,178.2 L324.6,183.2 L324.7,182.5 L324.8,178.3 L324.9,185.3 L324.9,175.2 L325.0,178.4 L325.1,180.5 L325.1,180.9 L325.2,178.6 L325.3,178.9 L325.4,182.5 L325.4,179.5 L325.5,182.2 L325.6,181.2 L325.6,179.9 L325.7,179.6 L325.8,180.6 L325.9,180.1 L325.9,180.9 L326.0,180.6 L326.1,175.7 L326.1,176.0 L326.2,182.1 L326.3,185.0 L326.4,177.6 L326.4,174.8 L326.5,180.2 L326.6,178.6 L326.6,179.5 L326.7,178.7 L326.8,180.9 L326.9,179.6 L326.9,180.1 L327.0,180.2 L327.1,179.0 L327.1,183.1 L327.2,176.6 L327.3,179.2 L327.4,178.9 L327.4,181.3 L327.5,184.7 L327.6,179.7 L327.6,180.6 L327.7,184.7 L327.8,176.3 L327.9,175.4 L327.9,180.1 L328.0,178.1 L328.1,175.4 L328.1,177.7 L328.2,184.7 L328.3,176.1 L328.4,184.1 L328.4,180.5 L328.5,175.2 L328.6,181.4 L328.6,183.2 L328.7,179.6 L328.8,180.1 L328.9,184.5 L328.9,175.5 L329.0,179.4 L329.1,179.7 L329.1,179.1 L329.2,179.0 L329.3,175.8 L329.4,179.8 L329.4,180.9 L329.5,178.0 L329.6,178.5 L329.6,177.5 L329.7,181.5 L329.8,178.0 L329.9,177.7 L329.9,181.8 L330.0,177.8 L330.1,179.2 L330.1,175.4 L330.2,174.7 L330.3,178.3 L330.4,182.0 L330.4,179.2 L330.5,181.4 L330.6,181.2 L330.6,175.8 L330.7,177.6 L330.8,179.9 L330.9,181.8 L330.9,178.5 L331.0,175.5 L331.1,177.5 L331.1,178.4 L331.2,178.3 L331.3,175.4 L331.4,176.7 L331.4,178.5 L331.5,184.1 L331.6,177.1 L331.6,178.4 L331.7,178.9 L331.8,175.9 L331.9,180.9 L331.9,178.0 L332.0,178.4 L332.1,182.5 L332.1,179.3 L332.2,178.4 L332.3,175.9 L332.4,177.3 L332.4,178.8 L332.5,176.7 L332.6,184.0 L332.6,179.8 L332.7,180.7 L332.8,177.4 L332.9,174.2 L332.9,176.8 L333.0,176.1 L333.1,176.5 L333.1,174.4 L333.2,181.5 L333.3,177.3 L333.3,180.8 L333.4,179.8 L333.5,176.7 L333.6,176.4 L333.6,178.8 L333.7,175.7 L333.8,178.5 L333.8,178.8 L333.9,178.4 L334.0,178.3 L334.1,175.5 L334.1,175.7 L334.2,179.5 L334.3,178.9 L334.3,179.7 L334.4,177.0 L334.5,177.5 L334.6,177.2 L334.6,181.2 L334.7,177.7 L334.8,179.9 L334.8,181.0 L334.9,178.2 L335.0,179.2 L335.1,177.1 L335.1,177.1 L335.2,178.4 L335.3,177.0 L335.3,177.5 L335.4,178.5 L335.5,180.4 L335.6,175.8 L335.6,175.9 L335.7,175.6 L335.8,180.7 L335.8,180.7 L335.9,177.7 L336.0,176.0 L336.1,178.1 L336.1,175.4 L336.2,180.8 L336.3,176.7 L336.3,183.1 L336.4,180.2 L336.5,180.9 L336.6,176.6 L336.6,179.7 L336.7,178.1 L336.8,175.9 L336.8,179.7 L336.9,175.8 L337.0,180.5 L337.1,174.8 L337.1,180.6 L337.2,181.1 L337.3,177.0 L337.3,174.6 L337.4,182.6 L337.5,175.5 L337.6,175.1 L337.6,177.1 L337.7,181.6 L337.8,180.6 L337.8,176.8 L337.9,183.4 L338.0,175.2 L338.1,173.5 L338.1,181.4 L338.2,181.0 L338.3,176.2 L338.3,179.8 L338.4,176.3 L338.5,179.1 L338.6,179.3 L338.6,178.3 L338.7,176.3 L338.8,176.4 L338.8,178.1 L338.9,174.4 L339.0,174.0 L339.1,175.9 L339.1,181.5 L339.2,179.6 L339.3,178.4 L339.3,176.6 L339.4,174.5 L339.5,179.4 L339.6,174.7 L339.6,180.9 L339.7,177.0 L339.8,179.0 L339.8,178.5 L339.9,174.7 L340.0,178.8 L340.1,177.6 L340.1,173.4 L340.2,177.1 L340.3,181.3 L340.3,180.6 L340.4,179.0 L340.5,177.2 L340.6,177.1 L340.6,182.2 L340.7,180.7 L340.8,181.1 L340.8,177.8 L340.9,176.8 L341.0,178.3 L341.1,176.5 L341.1,178.2 L341.2,177.5 L341.3,174.0 L341.3,175.7 L341.4,179.1 L341.5,178.6 L341.6,174.8 L341.6,177.8 L341.7,179.4 L341.8,176.5 L341.8,180.9 L341.9,177.1 L342.0,178.9 L342.1,176.8 L342.1,172.3 L342.2,177.0 L342.3,180.3 L342.3,182.0 L342.4,177.3 L342.5,178.3 L342.6,181.1 L342.6,179.0 L342.7,177.6 L342.8,180.5 L342.8,178.0 L342.9,176.4 L343.0,179.4 L343.1,174.2 L343.1,179.9 L343.2,180.5 L343.3,174.8 L343.3,178.7 L343.4,179.4 L343.5,180.0 L343.6,176.5 L343.6,179.3 L343.7,178.8 L343.8,182.2 L343.8,181.1 L343.9,178.6 L344.0,181.2 L344.1,178.8 L344.1,174.8 L344.2,177.3 L344.3,174.8 L344.3,180.1 L344.4,176.0 L344.5,178.7 L344.6,175.6 L344.6,180.4 L344.7,177.2 L344.8,175.1 L344.8,177.0 L344.9,176.8 L345.0,178.3 L345.1,182.8 L345.1,179.7 L345.2,179.4 L345.3,175.1 L345.3,177.2 L345.4,180.1 L345.5,175.1 L345.6,176.4 L345.6,181.7 L345.7,174.1 L345.8,176.4 L345.8,172.0 L345.9,174.7 L346.0,181.5 L346.1,174.5 L346.1,176.9 L346.2,178.4 L346.3,176.6 L346.3,175.7 L346.4,178.3 L346.5,179.8 L346.6,175.8 L346.6,176.5 L346.7,180.5 L346.8,174.0 L346.8,178.1 L346.9,172.5 L347.0,173.6 L347.1,177.8 L347.1,175.3 L347.2,180.0 L347.3,176.9 L347.3,182.2 L347.4,180.3 L347.5,177.5 L347.6,175.8 L347.6,175.1 L347.7,174.4 L347.8,174.7 L347.8,178.6 L347.9,177.6 L348.0,179.0 L348.1,177.3 L348.1,182.0 L348.2,179.4 L348.3,173.7 L348.3,176.9 L348.4,179.1 L348.5,175.5 L348.6,176.6 L348.6,177.5 L348.7,178.3 L348.8,180.0 L348.8,177.4 L348.9,177.0 L349.0,177.2 L349.1,173.4 L349.1,177.2 L349.2,176.5 L349.3,173.9 L349.3,175.1 L349.4,182.6 L349.5,177.5 L349.6,179.9 L349.6,179.3 L349.7,174.8 L349.8,173.1 L349.8,176.1 L349.9,182.6 L350.0,178.5 L350.1,178.1 L350.1,178.5 L350.2,173.0 L350.3,176.0 L350.3,175.4 L350.4,177.0 L350.5,174.9 L350.6,177.6 L350.6,180.6 L350.7,177.2 L350.8,179.0 L350.8,181.2 L350.9,182.3 L351.0,178.8 L351.1,177.9 L351.1,172.5 L351.2,178.8 L351.3,179.1 L351.3,177.4 L351.4,175.1 L351.5,180.5 L351.6,177.9 L351.6,173.9 L351.7,172.9 L351.8,179.2 L351.8,181.7 L351.9,177.6 L352.0,177.8 L352.1,174.4 L352.1,174.9 L352.2,177.1 L352.3,179.4 L352.3,176.3 L352.4,179.4 L352.5,179.6 L352.5,177.3 L352.6,172.0 L352.7,172.5 L352.8,173.4 L352.8,181.4 L352.9,175.5 L353.0,179.1 L353.0,175.9 L353.1,174.8 L353.2,175.3 L353.3,178.9 L353.3,179.8 L353.4,175.3 L353.5,173.8 L353.5,179.1 L353.6,179.4 L353.7,177.4 L353.8,178.6 L353.8,174.6 L353.9,174.3 L354.0,174.9 L354.0,178.7 L354.1,179.4 L354.2,177.9 L354.3,176.7 L354.3,174.8 L354.4,175.9 L354.5,177.9 L354.5,175.5 L354.6,174.9 L354.7,177.3 L354.8,179.5 L354.8,175.8 L354.9,174.5 L355.0,175.2 L355.0,179.6 L355.1,175.8 L355.2,176.7 L355.3,177.5 L355.3,177.3 L355.4,178.3 L355.5,178.7 L355.5,176.1 L355.6,176.9 L355.7,176.6 L355.8,179.9 L355.8,176.3 L355.9,172.8 L356.0,179.7 L356.0,176.7 L356.1,176.9 L356.2,176.2 L356.3,175.0 L356.3,178.4 L356.4,174.6 L356.5,175.2 L356.5,177.6 L356.6,175.2 L356.7,173.7 L356.8,173.1 L356.8,177.3 L356.9,174.6 L357.0,176.8 L357.0,178.7 L357.1,171.5 L357.2,174.0 L357.3,174.6 L357.3,177.3 L357.4,176.1 L357.5,177.8 L357.5,171.7 L357.6,178.0 L357.7,176.5 L357.8,174.3 L357.8,176.9 L357.9,174.2 L358.0,175.9 L358.0,176.8 L358.1,176.6 L358.2,181.8 L358.3,174.2 L358.3,175.1 L358.4,175.7 L358.5,176.2 L358.5,179.3 L358.6,176.5 L358.7,179.0 L358.8,178.2 L358.8,179.8 L358.9,177.7 L359.0,174.1 L359.0,175.6 L359.1,179.1 L359.2,179.0 L359.3,174.0 L359.3,177.4 L359.4,174.5 L359.5,172.5 L359.5,174.1 L359.6,179.5 L359.7,182.2 L359.8,172.6 L359.8,180.3 L359.9,180.4 L360.0,178.2 L360.0,177.7 L360.1,175.2 L360.2,178.5 L360.3,179.0 L360.3,174.6 L360.4,179.2 L360.5,171.4 L360.5,180.3 L360.6,176.6 L360.7,173.7 L360.8,176.7 L360.8,180.9 L360.9,176.8 L361.0,173.9 L361.0,178.6 L361.1,180.9 L361.2,176.8 L361.3,182.2 L361.3,175.5 L361.4,174.8 L361.5,176.3 L361.5,179.7 L361.6,173.9 L361.7,173.2 L361.8,173.7 L361.8,177.7 L361.9,175.3 L362.0,178.5 L362.0,173.5 L362.1,177.8 L362.2,179.8 L362.3,177.2 L362.3,175.2 L362.4,176.9 L362.5,177.1 L362.5,179.2 L362.6,176.4 L362.7,176.9 L362.8,176.5 L362.8,177.1 L362.9,176.9 L363.0,178.8 L363.0,172.0 L363.1,180.9 L363.2,176.1 L363.3,173.7 L363.3,181.2 L363.4,181.0 L363.5,174.8 L363.5,171.4 L363.6,173.9 L363.7,177.7 L363.8,178.1 L363.8,178.2 L363.9,180.0 L364.0,178.4 L364.0,174.4 L364.1,177.5 L364.2,175.8 L364.3,174.6 L364.3,178.4 L364.4,177.7 L364.5,176.2 L364.5,178.8 L364.6,176.5 L364.7,175.1 L364.8,176.6 L364.8,181.0 L364.9,176.0 L365.0,177.2 L365.0,176.8 L365.1,179.7 L365.2,176.5 L365.3,177.0 L365.3,178.2 L365.4,178.7 L365.5,177.1 L365.5,181.6 L365.6,176.1 L365.7,178.0 L365.8,174.1 L365.8,181.4 L365.9,178.0 L366.0,176.0 L366.0,176.1 L366.1,177.8 L366.2,174.3 L366.3,177.9 L366.3,175.4 L366.4,176.9 L366.5,177.4 L366.5,178.7 L366.6,178.5 L366.7,178.1 L366.8,175.9 L366.8,178.2 L366.9,179.4 L367.0,175.2 L367.0,176.4 L367.1,175.3 L367.2,176.5 L367.3,172.5 L367.3,174.9 L367.4,175.9 L367.5,175.5 L367.5,174.2 L367.6,176.3 L367.7,174.9 L367.8,177.2 L367.8,172.8 L367.9,177.2 L368.0,182.1 L368.0,175.1 L368.1,177.6 L368.2,177.2 L368.3,175.0 L368.3,182.1 L368.4,181.3 L368.5,177.1 L368.5,180.1 L368.6,175.2 L368.7,175.4 L368.8,177.8 L368.8,174.6 L368.9,181.7 L369.0,177.0 L369.0,174.5 L369.1,173.2 L369.2,175.3 L369.3,172.9 L369.3,175.7 L369.4,177.1 L369.5,175.9 L369.5,171.3 L369.6,171.3 L369.7,175.7 L369.8,175.4 L369.8,175.4 L369.9,180.4 L370.0,178.0 L370.0,176.3 L370.1,178.7 L370.2,177.2 L370.3,179.8 L370.3,177.0 L370.4,174.2 L370.5,176.6 L370.5,174.7 L370.6,177.2 L370.7,178.8 L370.8,176.4 L370.8,181.3 L370.9,178.7 L371.0,177.6 L371.0,178.2 L371.1,175.8 L371.2,178.7 L371.2,174.5 L371.3,174.7 L371.4,176.5 L371.5,178.5 L371.5,179.7 L371.6,175.2 L371.7,177.5 L371.7,171.4 L371.8,174.6 L371.9,173.2 L372.0,179.1 L372.0,177.0 L372.1,178.1 L372.2,182.1 L372.2,176.2 L372.3,177.9 L372.4,177.6 L372.5,175.9 L372.5,174.3 L372.6,175.4 L372.7,172.4 L372.7,178.5 L372.8,174.7 L372.9,178.7 L373.0,177.4 L373.0,174.0 L373.1,175.5 L373.2,176.2 L373.2,176.2 L373.3,175.1 L373.4,173.6 L373.5,175.2 L373.5,177.9 L373.6,174.7 L373.7,176.9 L373.7,176.1 L373.8,176.4 L373.9,174.4 L374.0,176.2 L374.0,177.7 L374.1,180.3 L374.2,180.1 L374.2,175.9 L374.3,178.4 L374.4,174.6 L374.5,176.7 L374.5,176.1 L374.6,176.9 L374.7,171.4 L374.7,174.3 L374.8,175.4 L374.9,175.1 L375.0,182.1 L375.0,179.0 L375.1,173.7 L375.2,173.6 L375.2,178.7 L375.3,182.1 L375.4,180.1 L375.5,175.5 L375.5,177.3 L375.6,174.1 L375.7,177.4 L375.7,176.2 L375.8,175.5 L375.9,177.2 L376.0,178.0 L376.0,178.4 L376.1,177.4 L376.2,176.8 L376.2,174.4 L376.3,176.7 L376.4,178.3 L376.5,179.6 L376.5,178.8 L376.6,175.9 L376.7,176.6 L376.7,173.5 L376.8,177.2 L376.9,177.9 L377.0,173.3 L377.0,174.4 L377.1,173.8 L377.2,180.0 L377.2,177.0 L377.3,176.3 L377.4,176.3 L377.5,182.2 L377.5,176.7 L377.6,176.9 L377.7,174.1 L377.7,177.4 L377.8,176.7 L377.9,177.3 L378.0,179.6 L378.0,175.2 L378.1,172.1 L378.2,179.3 L378.2,173.0 L378.3,172.6 L378.4,180.4 L378.5,180.1 L378.5,178.9 L378.6,179.3 L378.7,178.7 L378.7,179.5 L378.8,177.8 L378.9,175.8 L379.0,174.9 L379.0,177.4 L379.1,179.4 L379.2,175.5 L379.2,175.3 L379.3,178.9 L379.4,175.9 L379.5,179.7 L379.5,178.7 L379.6,176.7 L379.7,177.6 L379.7,174.1 L379.8,177.3 L379.9,176.3 L380.0,174.1 L380.0,180.9 L380.1,175.3 L380.2,174.0 L380.2,177.5 L380.3,174.2 L380.4,179.8 L380.5,179.2 L380.5,180.4 L380.6,172.9 L380.7,179.2 L380.7,175.6 L380.8,181.3 L380.9,174.6 L381.0,180.5 L381.0,178.9 L381.1,182.2 L381.2,180.3 L381.2,174.6 L381.3,180.6 L381.4,172.9 L381.5,171.5 L381.5,177.5 L381.6,180.5 L381.7,178.0 L381.7,176.4 L381.8,182.2 L381.9,178.7 L382.0,176.6 L382.0,175.9 L382.1,181.9 L382.2,177.1 L382.2,176.7 L382.3,174.1 L382.4,176.2 L382.5,174.2 L382.5,175.5 L382.6,179.2 L382.7,171.5 L382.7,175.2 L382.8,176.3 L382.9,178.0 L383.0,172.9 L383.0,176.8 L383.1,175.5 L383.2,176.4 L383.2,177.3 L383.3,181.1 L383.4,178.5 L383.5,172.4 L383.5,176.3 L383.6,178.8 L383.7,179.3 L383.7,179.2 L383.8,178.1 L383.9,177.4 L384.0,173.2 L384.0,176.1 L384.1,172.6 L384.2,181.4 L384.2,177.5 L384.3,182.0 L384.4,182.3 L384.5,176.5 L384.5,181.7 L384.6,176.9 L384.7,179.4 L384.7,174.0 L384.8,173.9 L384.9,181.2 L385.0,175.1 L385.0,177.1 L385.1,175.7 L385.2,178.4 L385.2,173.9 L385.3,174.5 L385.4,177.2 L385.5,181.3 L385.5,182.3 L385.6,174.5 L385.7,176.6 L385.7,180.9 L385.8,179.6 L385.9,171.6 L386.0,180.0 L386.0,176.2 L386.1,173.7 L386.2,171.6 L386.2,176.2 L386.3,175.8 L386.4,180.2 L386.5,175.9 L386.5,177.2 L386.6,180.0 L386.7,180.1 L386.7,173.8 L386.8,174.3 L386.9,171.6 L387.0,178.0 L387.0,182.3 L387.1,171.7 L387.2,175.4 L387.2,172.5 L387.3,178.9 L387.4,178.1 L387.5,173.0 L387.5,179.2 L387.6,177.2 L387.7,177.1 L387.7,174.7 L387.8,174.3 L387.9,179.1 L388.0,174.5 L388.0,177.6 L388.1,177.3 L388.2,176.6 L388.2,174.5 L388.3,177.2 L388.4,175.7 L388.5,179.0 L388.5,180.7 L388.6,179.9 L388.7,176.3 L388.7,176.7 L388.8,176.5 L388.9,180.5 L389.0,179.0 L389.0,176.9 L389.1,175.1 L389.2,175.6 L389.2,177.8 L389.3,178.8 L389.4,180.9 L389.5,178.4 L389.5,173.9 L389.6,177.6 L389.7,178.5 L389.7,176.3 L389.8,171.6 L389.9,178.2 L390.0,179.6 L390.0,181.5 L390.1,182.4 L390.2,176.0 L390.2,176.2 L390.3,178.7 L390.4,176.0 L390.4,175.5 L390.5,179.1 L390.6,176.3 L390.7,174.8 L390.7,181.0 L390.8,177.4 L390.9,176.8 L390.9,181.8 L391.0,171.7 L391.1,174.2 L391.2,172.0 L391.2,180.9 L391.3,177.2 L391.4,173.9 L391.4,178.3 L391.5,171.7 L391.6,179.9 L391.7,177.1 L391.7,178.0 L391.8,181.4 L391.9,177.7 L391.9,177.1 L392.0,179.9 L392.1,178.3 L392.2,174.5 L392.2,174.8 L392.3,175.8 L392.4,175.1 L392.4,173.6 L392.5,177.5 L392.6,178.9 L392.7,176.8 L392.7,176.6 L392.8,178.8 L392.9,176.4 L392.9,176.2 L393.0,174.2 L393.1,179.5 L393.2,173.8 L393.2,177.5 L393.3,180.7 L393.4,174.2 L393.4,175.7 L393.5,176.7 L393.6,180.1 L393.7,174.8 L393.7,179.8 L393.8,179.9 L393.9,177.3 L393.9,174.6 L394.0,177.0 L394.1,176.8 L394.2,179.5 L394.2,174.6 L394.3,178.0 L394.4,175.5 L394.4,171.7 L394.5,176.5 L394.6,179.8 L394.7,180.9 L394.7,179.7 L394.8,179.7 L394.9,176.4 L394.9,173.6 L395.0,177.1 L395.1,177.9 L395.2,175.5 L395.2,179.3 L395.3,177.7 L395.4,174.7 L395.4,173.9 L395.5,178.1 L395.6,178.1 L395.7,178.4 L395.7,176.3 L395.8,173.1 L395.9,176.9 L395.9,180.2 L396.0,174.3 L396.1,174.2 L396.2,174.1 L396.2,174.9 L396.3,178.1 L396.4,179.8 L396.4,175.7 L396.5,177.9 L396.6,176.8 L396.7,173.7 L396.7,181.9 L396.8,181.7 L396.9,181.0 L396.9,179.0 L397.0,177.4 L397.1,176.3 L397.2,179.3 L397.2,174.2 L397.3,178.0 L397.4,175.2 L397.4,172.9 L397.5,174.2 L397.6,178.0 L397.7,177.3 L397.7,175.8 L397.8,175.0 L397.9,180.2 L397.9,180.1 L398.0,178.7 L398.1,174.3 L398.2,176.6 L398.2,177.4 L398.3,180.9 L398.4,180.8 L398.4,176.2 L398.5,180.0 L398.6,174.7 L398.7,179.5 L398.7,176.7 L398.8,175.3 L398.9,175.7 L398.9,177.3 L399.0,171.8 L399.1,177.4 L399.2,176.1 L399.2,178.1 L399.3,174.5 L399.4,174.0 L399.4,174.0 L399.5,176.4 L399.6,174.7 L399.7,179.9 L399.7,178.2 L399.8,175.4 L399.9,182.6 L399.9,181.4 L400.0,175.4 L400.1,176.7 L400.2,177.9 L400.2,177.8 L400.3,173.3 L400.4,176.0 L400.4,178.2 L400.5,181.1 L400.6,176.9 L400.7,180.2 L400.7,177.7 L400.8,179.2 L400.9,173.9 L400.9,179.1 L401.0,177.3 L401.1,173.5 L401.2,182.6 L401.2,178.6 L401.3,181.5 L401.4,173.0 L401.4,176.1 L401.5,177.4 L401.6,176.8 L401.7,175.2 L401.7,175.7 L401.8,176.9 L401.9,174.7 L401.9,176.2 L402.0,172.0 L402.1,180.1 L402.2,178.1 L402.2,175.1 L402.3,175.0 L402.4,178.5 L402.4,173.7 L402.5,174.7 L402.6,172.6 L402.7,177.9 L402.7,173.9 L402.8,177.4 L402.9,176.2 L402.9,175.1 L403.0,178.3 L403.1,178.0 L403.2,172.5 L403.2,179.7 L403.3,175.7 L403.4,173.6 L403.4,173.2 L403.5,177.6 L403.6,179.8 L403.7,174.2 L403.7,178.6 L403.8,177.2 L403.9,179.1 L403.9,180.9 L404.0,178.8 L404.1,177.9 L404.2,181.9 L404.2,173.5 L404.3,178.0 L404.4,173.0 L404.4,174.2 L404.5,178.8 L404.6,177.4 L404.7,178.5 L404.7,177.3 L404.8,177.0 L404.9,176.3 L404.9,176.2 L405.0,176.9 L405.1,178.9 L405.2,181.4 L405.2,176.7 L405.3,177.8 L405.4,175.6 L405.4,178.9 L405.5,176.6 L405.6,179.8 L405.7,176.3 L405.7,178.0 L405.8,176.2 L405.9,172.0 L405.9,175.2 L406.0,177.6 L406.1,176.6 L406.2,177.2 L406.2,177.4 L406.3,177.1 L406.4,177.3 L406.4,177.3 L406.5,174.7 L406.6,174.7 L406.7,172.8 L406.7,176.0 L406.8,176.1 L406.9,172.0 L406.9,181.0 L407.0,176.8 L407.1,176.0 L407.2,175.7 L407.2,179.0 L407.3,178.3 L407.4,181.1 L407.4,178.7 L407.5,182.3 L407.6,175.3 L407.7,177.8 L407.7,180.0 L407.8,173.7 L407.9,177.4 L407.9,179.9 L408.0,176.2 L408.1,178.6 L408.2,182.4 L408.2,177.2 L408.3,173.4 L408.4,181.9 L408.4,178.5 L408.5,175.6 L408.6,176.6 L408.7,175.1 L408.7,178.0 L408.8,174.0 L408.9,177.4 L408.9,177.6 L409.0,176.4 L409.1,178.1 L409.1,178.0 L409.2,178.3 L409.3,179.0 L409.4,178.9 L409.4,180.1 L409.5,176.4 L409.6,176.9 L409.6,181.4 L409.7,178.4 L409.8,177.5 L409.9,179.6 L409.9,176.9 L410.0,178.8 L410.1,177.7 L410.1,179.6 L410.2,177.4 L410.3,177.5 L410.4,173.8 L410.4,174.8 L410.5,177.5 L410.6,177.8 L410.6,177.7 L410.7,177.4 L410.8,181.9 L410.9,178.0 L410.9,176.8 L411.0,177.9 L411.1,180.3 L411.1,181.0 L411.2,181.6 L411.3,174.9 L411.4,176.7 L411.4,175.5 L411.5,178.7 L411.6,179.6 L411.6,181.2 L411.7,177.5 L411.8,181.0 L411.9,179.8 L411.9,176.0 L412.0,175.4 L412.1,178.8 L412.1,176.6 L412.2,178.1 L412.3,177.4 L412.4,180.9 L412.4,177.8 L412.5,177.9 L412.6,177.7 L412.6,177.7 L412.7,178.2 L412.8,177.4 L412.9,180.0 L412.9,177.8 L413.0,180.3 L413.1,178.3 L413.1,179.4 L413.2,179.9 L413.3,179.7 L413.4,179.7 L413.4,177.1 L413.5,180.0 L413.6,177.9 L413.6,177.7 L413.7,174.7 L413.8,176.8 L413.9,180.5 L413.9,181.0 L414.0,178.6 L414.1,177.8 L414.1,180.0 L414.2,176.9 L414.3,182.5 L414.4,182.8 L414.4,180.3 L414.5,177.7 L414.6,177.1 L414.6,178.7 L414.7,176.1 L414.8,178.0 L414.9,179.2 L414.9,176.0 L415.0,178.3 L415.1,180.5 L415.1,178.3 L415.2,181.0 L415.3,176.9 L415.4,179.5 L415.4,182.5 L415.5,176.6 L415.6,178.3 L415.6,180.0 L415.7,178.8 L415.8,177.8 L415.9,179.2 L415.9,178.7 L416.0,177.1 L416.1,179.9 L416.1,179.2 L416.2,175.7 L416.3,179.8 L416.4,180.5 L416.4,179.0 L416.5,177.3 L416.6,180.8 L416.6,179.7 L416.7,180.4 L416.8,175.9 L416.9,176.9 L416.9,178.6 L417.0,177.1 L417.1,182.0 L417.1,180.8 L417.2,178.8 L417.3,176.8 L417.4,182.2 L417.4,178.8 L417.5,180.0 L417.6,180.0 L417.6,179.2 L417.7,181.6 L417.8,176.7 L417.9,180.6 L417.9,178.8 L418.0,181.7 L418.1,180.9 L418.1,182.9 L418.2,176.7 L418.3,175.6 L418.4,179.4 L418.4,178.9 L418.5,175.7 L418.6,180.8 L418.6,179.1 L418.7,180.9 L418.8,178.0 L418.9,178.8 L418.9,177.5 L419.0,177.6 L419.1,181.7 L419.1,180.8 L419.2,179.2 L419.3,178.5 L419.4,179.9 L419.4,178.5 L419.5,178.1 L419.6,180.5 L419.6,179.6 L419.7,180.5 L419.8,182.0 L419.9,177.7 L419.9,176.2 L420.0,180.1 L420.1,176.4 L420.1,176.6 L420.2,180.9 L420.3,180.4 L420.4,180.8 L420.4,177.9 L420.5,177.2 L420.6,180.8 L420.6,182.8 L420.7,179.7 L420.8,177.4 L420.9,179.1 L420.9,179.8 L421.0,183.0 L421.1,178.7 L421.1,180.5 L421.2,179.8 L421.3,179.7 L421.4,180.8 L421.4,181.7 L421.5,179.7 L421.6,178.9 L421.6,176.6 L421.7,180.5 L421.8,182.0 L421.9,176.4 L421.9,177.9 L422.0,181.4 L422.1,180.5 L422.1,179.9 L422.2,177.2 L422.3,180.0 L422.4,177.3 L422.4,179.6 L422.5,181.5 L422.6,179.7 L422.6,183.3 L422.7,181.3 L422.8,178.9 L422.9,181.7 L422.9,180.7 L423.0,182.5 L423.1,180.1 L423.1,183.4 L423.2,180.8 L423.3,178.7 L423.4,181.2 L423.4,178.4 L423.5,179.4 L423.6,179.0 L423.6,181.6 L423.7,180.3 L423.8,182.2 L423.9,181.6 L423.9,181.2 L424.0,179.2 L424.1,177.2 L424.1,182.8 L424.2,177.4 L424.3,184.4 L424.4,184.3 L424.4,177.0 L424.5,177.9 L424.6,179.9 L424.6,179.9 L424.7,180.2 L424.8,184.5 L424.9,179.0 L424.9,181.3 L425.0,184.5 L425.1,179.4 L425.1,179.0 L425.2,177.8 L425.3,178.3 L425.4,180.9 L425.4,179.1 L425.5,180.4 L425.6,180.1 L425.6,176.8 L425.7,181.0 L425.8,184.6 L425.9,181.3 L425.9,183.4 L426.0,182.4 L426.1,177.7 L426.1,179.6 L426.2,182.0 L426.3,180.8 L426.4,178.5 L426.4,180.1 L426.5,177.2 L426.6,182.4 L426.6,180.0 L426.7,180.3 L426.8,182.2 L426.9,179.9 L426.9,179.2 L427.0,178.3 L427.1,184.4 L427.1,180.3 L427.2,179.4 L427.3,178.2 L427.4,179.8 L427.4,180.5 L427.5,181.9 L427.6,177.8 L427.6,180.7 L427.7,177.7 L427.8,180.4 L427.9,180.0 L427.9,182.2 L428.0,183.2 L428.1,180.1 L428.1,181.0 L428.2,178.1 L428.3,183.3 L428.3,183.2 L428.4,178.6 L428.5,182.4 L428.6,182.8 L428.6,184.8 L428.7,182.5 L428.8,179.6 L428.8,179.0 L428.9,184.4 L429.0,180.2 L429.1,182.7 L429.1,182.2 L429.2,179.7 L429.3,181.2 L429.3,180.3 L429.4,179.7 L429.5,179.7 L429.6,180.3 L429.6,179.2 L429.7,181.9 L429.8,182.7 L429.8,182.5 L429.9,180.9 L430.0,182.5 L430.1,180.5 L430.1,181.2 L430.2,178.0 L430.3,182.8 L430.3,178.6 L430.4,179.6 L430.5,176.9 L430.6,182.1 L430.6,179.8 L430.7,182.0 L430.8,181.6 L430.8,180.3 L430.9,179.1 L431.0,178.1 L431.1,181.6 L431.1,182.2 L431.2,180.7 L431.3,178.8 L431.3,179.7 L431.4,179.6 L431.5,179.1 L431.6,180.8 L431.6,179.7 L431.7,177.0 L431.8,179.8 L431.8,182.1 L431.9,181.6 L432.0,181.3 L432.1,180.3 L432.1,179.7 L432.2,183.8 L432.3,182.4 L432.3,181.7 L432.4,182.9 L432.5,184.8 L432.6,183.4 L432.6,179.0 L432.7,183.5 L432.8,177.9 L432.8,180.9 L432.9,180.7 L433.0,177.4 L433.1,177.3 L433.1,183.3 L433.2,179.1 L433.3,179.8 L433.3,182.4 L433.4,181.7 L433.5,182.8 L433.6,177.8 L433.6,177.1 L433.7,183.8 L433.8,182.6 L433.8,181.4 L433.9,182.9 L434.0,179.0 L434.1,180.6 L434.1,181.6 L434.2,184.3 L434.3,184.2 L434.3,181.1 L434.4,184.8 L434.5,179.5 L434.6,182.0 L434.6,179.1 L434.7,180.5 L434.8,180.0 L434.8,180.3 L434.9,182.4 L435.0,182.3 L435.1,181.8 L435.1,180.9 L435.2,179.6 L435.3,181.5 L435.3,178.5 L435.4,181.9 L435.5,183.3 L435.6,182.6 L435.6,182.4 L435.7,178.4 L435.8,179.5 L435.8,180.4 L435.9,181.3 L436.0,180.6 L436.1,183.5 L436.1,177.2 L436.2,180.0 L436.3,179.1 L436.3,178.8 L436.4,181.2 L436.5,181.4 L436.6,183.0 L436.6,181.3 L436.7,181.5 L436.8,184.7 L436.8,180.7 L436.9,183.5 L437.0,181.6 L437.1,177.2 L437.1,177.9 L437.2,184.0 L437.3,180.8 L437.3,180.5 L437.4,178.2 L437.5,177.3 L437.6,181.1 L437.6,182.2 L437.7,180.5 L437.8,180.3 L437.8,184.7 L437.9,180.6 L438.0,182.0 L438.1,178.0 L438.1,180.0 L438.2,180.7 L438.3,179.6 L438.3,181.5 L438.4,180.9 L438.5,180.6 L438.6,184.7 L438.6,179.6 L438.7,179.3 L438.8,179.8 L438.8,179.1 L438.9,183.5 L439.0,180.9 L439.1,181.6 L439.1,181.7 L439.2,183.6 L439.3,183.0 L439.3,181.5 L439.4,183.4 L439.5,182.0 L439.6,183.6 L439.6,180.4 L439.7,177.4 L439.8,180.5 L439.8,181.5 L439.9,184.0 L440.0,182.7 L440.1,180.1 L440.1,181.1 L440.2,181.8 L440.3,185.0 L440.3,183.6 L440.4,180.7 L440.5,183.3 L440.6,179.8 L440.6,181.2 L440.7,183.3 L440.8,177.9 L440.8,185.4 L440.9,182.3 L441.0,184.3 L441.1,182.1 L441.1,180.4 L441.2,178.9 L441.3,180.6 L441.3,181.8 L441.4,181.0 L441.5,183.8 L441.6,181.7 L441.6,179.9 L441.7,180.9 L441.8,180.1 L441.8,182.3 L441.9,180.3 L442.0,181.7 L442.1,183.2 L442.1,184.5 L442.2,185.4 L442.3,183.2 L442.3,182.4 L442.4,181.2 L442.5,183.0 L442.6,183.8 L442.6,180.8 L442.7,180.6 L442.8,180.5 L442.8,180.7 L442.9,182.6 L443.0,180.6 L443.1,180.5 L443.1,179.6 L443.2,181.9 L443.3,183.5 L443.3,179.4 L443.4,179.6 L443.5,181.8 L443.6,185.5 L443.6,183.1 L443.7,179.5 L443.8,182.8 L443.8,182.6 L443.9,179.4 L444.0,181.3 L444.1,181.4 L444.1,182.9 L444.2,180.9 L444.3,181.1 L444.3,180.2 L444.4,184.9 L444.5,179.2 L444.6,177.9 L444.6,180.5 L444.7,182.2 L444.8,179.1 L444.8,179.0 L444.9,182.8 L445.0,181.6 L445.1,181.1 L445.1,183.2 L445.2,181.7 L445.3,179.7 L445.3,177.5 L445.4,184.9 L445.5,180.2 L445.6,184.3 L445.6,182.6 L445.7,180.2 L445.8,183.4 L445.8,180.8 L445.9,182.3 L446.0,180.1 L446.1,184.1 L446.1,177.6 L446.2,183.3 L446.3,182.7 L446.3,183.8 L446.4,179.0 L446.5,180.7 L446.6,181.3 L446.6,178.6 L446.7,183.7 L446.8,183.2 L446.8,180.9 L446.9,183.0 L447.0,182.1 L447.1,181.9 L447.1,182.0 L447.2,181.0 L447.3,183.6 L447.3,179.5 L447.4,181.5 L447.5,182.9 L447.5,182.5 L447.6,181.0 L447.7,181.7 L447.8,180.5 L447.8,178.7 L447.9,181.5 L448.0,184.6 L448.0,180.9 L448.1,181.2 L448.2,181.2 L448.3,181.8 L448.3,184.6 L448.4,182.0 L448.5,181.2 L448.5,181.8 L448.6,178.5 L448.7,178.2 L448.8,185.2 L448.8,177.8 L448.9,183.8 L449.0,182.4 L449.0,177.5 L449.1,178.4 L449.2,179.7 L449.3,183.5 L449.3,181.3 L449.4,180.5 L449.5,183.3 L449.5,180.8 L449.6,184.1 L449.7,178.8 L449.8,181.6 L449.8,183.1 L449.9,178.8 L450.0,179.9 L450.0,178.7 L450.1,184.2 L450.2,182.7 L450.3,181.7 L450.3,184.7 L450.4,181.3 L450.5,181.4 L450.5,182.0 L450.6,181.7 L450.7,184.4 L450.8,180.4 L450.8,178.9 L450.9,184.1 L451.0,183.8 L451.0,181.5 L451.1,183.8 L451.2,183.3 L451.3,182.3 L451.3,184.2 L451.4,184.8 L451.5,179.8 L451.5,183.6 L451.6,179.9 L451.7,183.2 L451.8,180.3 L451.8,182.5 L451.9,184.5 L452.0,180.7 L452.0,181.9 L452.1,183.0 L452.2,177.6 L452.3,178.2 L452.3,183.8 L452.4,181.8 L452.5,182.4 L452.5,183.3 L452.6,180.7 L452.7,180.1 L452.8,179.5 L452.8,183.9 L452.9,180.6 L453.0,179.2 L453.0,185.6 L453.1,182.3 L453.2,183.2 L453.3,180.3 L453.3,184.5 L453.4,181.8 L453.5,182.0 L453.5,183.2 L453.6,181.7 L453.7,184.7 L453.8,183.9 L453.8,183.5 L453.9,180.2 L454.0,179.0 L454.0,182.1 L454.1,182.5 L454.2,184.8 L454.3,184.4 L454.3,181.4 L454.4,179.6 L454.5,182.5 L454.5,183.1 L454.6,182.8 L454.7,180.5 L454.8,179.3 L454.8,181.7 L454.9,182.4 L455.0,181.2 L455.0,182.8 L455.1,181.8 L455.2,179.5 L455.3,180.7 L455.3,184.6 L455.4,177.9 L455.5,177.6 L455.5,184.5 L455.6,182.5 L455.7,180.4 L455.8,179.2 L455.8,185.2 L455.9,178.4 L456.0,179.3 L456.0,180.3 L456.1,181.8 L456.2,185.3 L456.3,181.3 L456.3,183.2 L456.4,180.9 L456.5,182.5 L456.5,184.0 L456.6,177.6 L456.7,177.6 L456.8,184.5 L456.8,181.1 L456.9,183.7 L457.0,180.2 L457.0,183.4 L457.1,180.7 L457.2,182.7 L457.3,180.4 L457.3,185.1 L457.4,180.8 L457.5,181.2 L457.5,180.8 L457.6,181.3 L457.7,179.0 L457.8,179.2 L457.8,182.8 L457.9,181.6 L458.0,183.2 L458.0,182.6 L458.1,178.2 L458.2,183.6 L458.3,180.0 L458.3,178.5 L458.4,180.2 L458.5,179.5 L458.5,183.7 L458.6,182.4 L458.7,183.2 L458.8,178.9 L458.8,181.8 L458.9,183.1 L459.0,181.8 L459.0,179.4 L459.1,184.1 L459.2,180.1 L459.3,181.4 L459.3,182.0 L459.4,180.9 L459.5,183.0 L459.5,183.6 L459.6,184.4 L459.7,181.0 L459.8,184.5 L459.8,182.8 L459.9,183.2 L460.0,179.9 L460.0,185.7 L460.1,182.4 L460.2,181.7 L460.3,181.2 L460.3,181.8 L460.4,180.0 L460.5,181.9 L460.5,182.6 L460.6,181.2 L460.7,181.0 L460.8,181.2 L460.8,180.9 L460.9,179.5 L461.0,179.0 L461.0,183.7 L461.1,183.2 L461.2,177.7 L461.3,182.4 L461.3,185.7 L461.4,182.0 L461.5,180.9 L461.5,179.4 L461.6,180.9 L461.7,180.5 L461.8,181.2 L461.8,179.6 L461.9,184.7 L462.0,181.5 L462.0,181.1 L462.1,181.3 L462.2,179.4 L462.3,184.0 L462.3,179.2 L462.4,180.1 L462.5,183.9 L462.5,182.0 L462.6,181.8 L462.7,185.7 L462.8,181.6 L462.8,182.8 L462.9,182.8 L463.0,185.4 L463.0,181.1 L463.1,179.1 L463.2,179.1 L463.3,179.3 L463.3,180.9 L463.4,179.9 L463.5,184.3 L463.5,182.7 L463.6,182.0 L463.7,181.6 L463.8,182.7 L463.8,181.9 L463.9,180.0 L464.0,184.2 L464.0,180.6 L464.1,181.8 L464.2,180.9 L464.3,181.3 L464.3,181.1 L464.4,182.3 L464.5,179.8 L464.5,179.7 L464.6,180.4 L464.7,183.2 L464.8,182.1 L464.8,181.3 L464.9,178.0 L465.0,180.3 L465.0,180.7 L465.1,179.5 L465.2,184.1 L465.3,180.5 L465.3,185.7 L465.4,182.7 L465.5,181.4 L465.5,184.5 L465.6,185.7 L465.7,184.4 L465.8,180.9 L465.8,181.0 L465.9,181.1 L466.0,182.1 L466.0,179.8 L466.1,180.7 L466.2,182.8 L466.2,181.8 L466.3,178.0 L466.4,182.7 L466.5,184.0 L466.5,184.3 L466.6,185.5 L466.7,184.3 L466.7,179.3 L466.8,180.5 L466.9,180.8 L467.0,180.2 L467.0,183.0 L467.1,182.5 L467.2,181.6 L467.2,179.0 L467.3,182.7 L467.4,184.3 L467.5,183.5 L467.5,179.0 L467.6,181.9 L467.7,184.2 L467.7,181.2 L467.8,180.3 L467.9,183.3 L468.0,183.0 L468.0,183.6 L468.1,184.9 L468.2,182.5 L468.2,180.4 L468.3,180.6 L468.4,181.9 L468.5,184.5 L468.5,181.5 L468.6,179.9 L468.7,179.7 L468.7,182.8 L468.8,183.5 L468.9,179.9 L469.0,181.5 L469.0,179.0 L469.1,180.0 L469.2,179.6 L469.2,181.7 L469.3,184.0 L469.4,180.9 L469.5,182.2 L469.5,180.5 L469.6,182.1 L469.7,180.5 L469.7,182.9 L469.8,181.5 L469.9,179.8 L470.0,179.0 L470.0,184.1 L470.1,181.1 L470.2,181.2 L470.2,181.3 L470.3,181.7 L470.4,181.3 L470.5,182.5 L470.5,180.7 L470.6,178.9 L470.7,184.8 L470.7,179.0 L470.8,184.2 L470.9,182.4 L471.0,183.4 L471.0,180.4 L471.1,182.2 L471.2,180.6 L471.2,185.4 L471.3,181.8 L471.4,180.1 L471.5,181.7 L471.5,183.6 L471.6,181.6 L471.7,178.6 L471.7,179.9 L471.8,179.4 L471.9,183.4 L472.0,181.7 L472.0,182.8 L472.1,182.0 L472.2,183.5 L472.2,183.0 L472.3,179.2 L472.4,184.0 L472.5,180.4 L472.5,182.0 L472.6,182.8 L472.7,180.3 L472.7,181.4 L472.8,179.2 L472.9,177.7 L473.0,180.4 L473.0,182.4 L473.1,182.9 L473.2,184.8 L473.2,181.6 L473.3,182.9 L473.4,177.7 L473.5,182.8 L473.5,182.9 L473.6,183.5 L473.7,181.9 L473.7,182.8 L473.8,185.1 L473.9,179.6 L474.0,180.8 L474.0,178.5 L474.1,180.4 L474.2,181.7 L474.2,179.9 L474.3,181.8 L474.4,179.5 L474.5,181.7 L474.5,181.2 L474.6,185.1 L474.7,182.5 L474.7,181.0 L474.8,181.4 L474.9,181.8 L475.0,179.5 L475.0,179.4 L475.1,184.1 L475.2,181.6 L475.2,180.8 L475.3,177.7 L475.4,181.1 L475.5,182.5 L475.5,181.9 L475.6,179.4 L475.7,185.7 L475.7,179.8 L475.8,179.5 L475.9,182.0 L476.0,179.5 L476.0,183.1 L476.1,183.8 L476.2,184.8 L476.2,182.1 L476.3,180.9 L476.4,181.4 L476.5,184.3 L476.5,181.6 L476.6,180.6 L476.7,180.9 L476.7,179.0 L476.8,183.7 L476.9,181.0 L477.0,182.0 L477.0,181.6 L477.1,182.8 L477.2,181.6 L477.2,184.3 L477.3,182.9 L477.4,179.9 L477.5,182.8 L477.5,182.3 L477.6,181.0 L477.7,180.7 L477.7,179.4 L477.8,183.2 L477.9,182.2 L478.0,184.2 L478.0,180.9 L478.1,181.6 L478.2,181.4 L478.2,183.8 L478.3,180.4 L478.4,184.0 L478.5,184.1 L478.5,182.8 L478.6,183.4 L478.7,180.7 L478.7,181.5 L478.8,183.2 L478.9,179.9 L479.0,180.5 L479.0,182.2 L479.1,183.3 L479.2,183.8 L479.2,181.3 L479.3,181.9 L479.4,181.2 L479.5,181.1 L479.5,181.3 L479.6,183.1 L479.7,181.1 L479.7,181.9 L479.8,185.7 L479.9,182.8 L480.0,179.7 L480.0,181.1 L480.1,182.6 L480.2,182.8 L480.2,181.1 L480.3,182.5 L480.4,184.7 L480.5,184.4 L480.5,177.7 L480.6,182.4 L480.7,181.7 L480.7,181.5 L480.8,181.1 L480.9,180.5 L481.0,181.6 L481.0,182.5 L481.1,182.2 L481.2,181.9 L481.2,178.7 L481.3,178.5 L481.4,180.4 L481.5,178.5 L481.5,182.7 L481.6,183.3 L481.7,185.8 L481.7,180.2 L481.8,181.0 L481.9,184.1 L482.0,180.8 L482.0,182.4 L482.1,181.4 L482.2,179.9 L482.2,180.6 L482.3,181.9 L482.4,182.6 L482.5,179.9 L482.5,183.9 L482.6,181.2 L482.7,180.0 L482.7,179.2 L482.8,184.6 L482.9,180.8 L483.0,182.2 L483.0,182.2 L483.1,180.1 L483.2,181.3 L483.2,185.8 L483.3,180.4 L483.4,183.8 L483.5,180.7 L483.5,182.8 L483.6,183.1 L483.7,181.8 L483.7,180.8 L483.8,183.5 L483.9,179.5 L484.0,182.8 L484.0,181.0 L484.1,178.6 L484.2,182.5 L484.2,181.3 L484.3,180.5 L484.4,180.2 L484.5,180.0 L484.5,181.5 L484.6,181.6 L484.7,181.4 L484.7,182.5 L484.8,184.8 L484.9,181.2 L485.0,181.7 L485.0,178.1 L485.1,182.5 L485.2,183.8 L485.2,182.8 L485.3,182.6 L485.4,180.9 L485.4,182.5 L485.5,180.8 L485.6,182.7 L485.7,182.6 L485.7,181.5 L485.8,181.6 L485.9,184.0 L485.9,181.0 L486.0,182.1 L486.1,178.7 L486.2,182.1 L486.2,181.3 L486.3,183.2 L486.4,180.9 L486.4,182.6 L486.5,181.5 L486.6,180.4 L486.7,183.8 L486.7,184.9 L486.8,182.2 L486.9,181.6 L486.9,181.0 L487.0,179.9 L487.1,182.4 L487.2,182.3 L487.2,183.2 L487.3,181.1 L487.4,180.2 L487.4,181.9 L487.5,180.5 L487.6,182.5 L487.7,182.4 L487.7,179.9 L487.8,180.0 L487.9,181.6 L487.9,183.2 L488.0,181.4 L488.1,183.4 L488.2,181.1 L488.2,182.3 L488.3,183.0 L488.4,181.9 L488.4,178.9 L488.5,181.1 L488.6,181.1 L488.7,183.3 L488.7,180.9 L488.8,183.8 L488.9,182.5 L488.9,181.5 L489.0,179.1 L489.1,182.7 L489.2,181.1 L489.2,182.1 L489.3,184.1 L489.4,181.0 L489.4,179.1 L489.5,180.8 L489.6,182.7 L489.7,181.9 L489.7,181.1 L489.8,182.9 L489.9,181.6 L489.9,182.5 L490.0,181.8 L490.1,182.3 L490.2,181.7 L490.2,181.3 L490.3,182.6 L490.4,180.0 L490.4,182.9 L490.5,181.2 L490.6,179.6 L490.7,180.2 L490.7,181.9 L490.8,181.2 L490.9,182.7 L490.9,181.3 L491.0,182.7 L491.1,180.5 L491.2,181.4 L491.2,182.4 L491.3,180.9 L491.4,182.3 L491.4,181.5 L491.5,182.5 L491.6,182.3 L491.7,180.9 L491.7,179.9 L491.8,180.1 L491.9,180.7 L491.9,181.5 L492.0,180.9 L492.1,181.8 L492.2,181.8 L492.2,181.9 L492.3,180.9 L492.4,181.4 L492.4,182.9 L492.5,181.5 L492.6,180.6 L492.7,181.3 L492.7,182.3 L492.8,181.7 L492.9,181.7 L492.9,181.0 L493.0,181.2 L493.1,181.9 L493.2,181.0 L493.2,183.2 L493.3,183.2 L493.4,181.1 L493.4,183.2 L493.5,180.6 L493.6,181.5 L493.7,181.6 L493.7,180.8 L493.8,180.2 L493.9,181.7 L493.9,181.4 L494.0,182.4 L494.1,182.6 L494.2,182.6" fill="none" stroke="#141414" stroke-width="0.9" stroke-linejoin="round" />
<line x1="409.15" y1="176.00" x2="409.15" y2="166.30" stroke="#141414" stroke-width="1.3" />
<text x="10.00" y="265.00" font-size="16.5" text-anchor="start" font-weight="bold" fill="#231f20" >B</text>
<rect x="55.5" y="284.5" width="159.2" height="146.5" fill="none" stroke="#231f20" stroke-width="1.7"/>
<line x1="50.80" y1="284.60" x2="55.50" y2="284.60" stroke="#231f20" stroke-width="1.3" />
<text transform="translate(45.60,288.10) scale(1.08,1)" font-size="11" text-anchor="end" font-weight="normal" fill="#231f20" >0.4</text>
<line x1="50.80" y1="354.20" x2="55.50" y2="354.20" stroke="#231f20" stroke-width="1.3" />
<text transform="translate(45.60,357.70) scale(1.08,1)" font-size="11" text-anchor="end" font-weight="normal" fill="#231f20" >0.2</text>
<line x1="50.80" y1="423.80" x2="55.50" y2="423.80" stroke="#231f20" stroke-width="1.3" />
<text transform="translate(45.60,427.30) scale(1.08,1)" font-size="11" text-anchor="end" font-weight="normal" fill="#231f20" >0.0</text>
<line x1="55.60" y1="431.00" x2="55.60" y2="435.60" stroke="#231f20" stroke-width="1.3" />
<text transform="translate(55.60,450.40) scale(1.08,1)" font-size="11" text-anchor="middle" font-weight="normal" fill="#231f20" >300</text>
<line x1="95.35" y1="431.00" x2="95.35" y2="435.60" stroke="#231f20" stroke-width="1.3" />
<text transform="translate(95.35,450.40) scale(1.08,1)" font-size="11" text-anchor="middle" font-weight="normal" fill="#231f20" >400</text>
<line x1="135.10" y1="431.00" x2="135.10" y2="435.60" stroke="#231f20" stroke-width="1.3" />
<text transform="translate(135.10,450.40) scale(1.08,1)" font-size="11" text-anchor="middle" font-weight="normal" fill="#231f20" >500</text>
<line x1="174.85" y1="431.00" x2="174.85" y2="435.60" stroke="#231f20" stroke-width="1.3" />
<text transform="translate(174.85,450.40) scale(1.08,1)" font-size="11" text-anchor="middle" font-weight="normal" fill="#231f20" >600</text>
<line x1="214.60" y1="431.00" x2="214.60" y2="435.60" stroke="#231f20" stroke-width="1.3" />
<text transform="translate(214.60,450.40) scale(1.08,1)" font-size="11" text-anchor="middle" font-weight="normal" fill="#231f20" >700</text>
<text x="97.80" y="468.90" font-size="14" fill="#231f20" stroke="#231f20" stroke-width="0.4" textLength="73.5" lengthAdjust="spacingAndGlyphs">Wavelenght (nm)</text>
<text transform="translate(22.00,376.80) rotate(-90)" font-size="14" fill="#231f20" stroke="#231f20" stroke-width="0.4" textLength="50.5" lengthAdjust="spacingAndGlyphs">Absorbance</text>
<polygon points="11.7,383.6 21.7,379.0 21.7,388.3" fill="#231f20"/>
<line x1="223.90" y1="290.70" x2="237.80" y2="290.70" stroke="#e0b4c8" stroke-width="1.9" />
<text transform="translate(243.00,294.30) scale(1.04,1)" font-size="10.5" text-anchor="start" font-weight="normal" fill="#231f20" >0.35 µM</text>
<line x1="223.90" y1="307.40" x2="237.80" y2="307.40" stroke="#da6f9c" stroke-width="1.9" />
<text transform="translate(243.00,311.00) scale(1.04,1)" font-size="10.5" text-anchor="start" font-weight="normal" fill="#231f20" >0.7 µM</text>
<line x1="223.90" y1="323.90" x2="237.80" y2="323.90" stroke="#d08898" stroke-width="1.9" />
<text transform="translate(243.00,327.50) scale(1.04,1)" font-size="10.5" text-anchor="start" font-weight="normal" fill="#231f20" >1.4 µM</text>
<line x1="223.90" y1="340.50" x2="237.80" y2="340.50" stroke="#dc7a84" stroke-width="1.9" />
<text transform="translate(243.00,344.10) scale(1.04,1)" font-size="10.5" text-anchor="start" font-weight="normal" fill="#231f20" >2.8 µM</text>
<line x1="223.90" y1="357.10" x2="237.80" y2="357.10" stroke="#cc2c2e" stroke-width="1.9" />
<text transform="translate(243.00,360.70) scale(1.04,1)" font-size="10.5" text-anchor="start" font-weight="normal" fill="#231f20" >5.6 µM</text>
<line x1="223.90" y1="373.50" x2="237.80" y2="373.50" stroke="#7c1a1c" stroke-width="1.9" />
<text transform="translate(243.00,377.10) scale(1.04,1)" font-size="10.5" text-anchor="start" font-weight="normal" fill="#231f20" >10.2 µM</text>
<path d="M55.6,424.5 L56.0,424.5 L56.4,424.5 L56.8,424.5 L57.2,424.5 L57.6,424.5 L58.0,424.6 L58.4,424.6 L58.8,424.6 L59.2,424.6 L59.6,424.6 L60.0,424.6 L60.4,424.6 L60.8,424.6 L61.2,424.6 L61.6,424.6 L62.0,424.6 L62.4,424.6 L62.8,424.6 L63.2,424.6 L63.6,424.6 L63.9,424.6 L64.3,424.6 L64.7,424.6 L65.1,424.6 L65.5,424.6 L65.9,424.6 L66.3,424.6 L66.7,424.6 L67.1,424.6 L67.5,424.6 L67.9,424.6 L68.3,424.6 L68.7,424.6 L69.1,424.6 L69.5,424.5 L69.9,424.5 L70.3,424.5 L70.7,424.5 L71.1,424.5 L71.5,424.5 L71.9,424.5 L72.3,424.4 L72.7,424.4 L73.1,424.4 L73.5,424.4 L73.9,424.3 L74.3,424.3 L74.7,424.3 L75.1,424.3 L75.5,424.2 L75.9,424.2 L76.3,424.2 L76.7,424.1 L77.1,424.1 L77.5,424.0 L77.9,424.0 L78.3,424.0 L78.7,423.9 L79.1,423.9 L79.5,423.8 L79.8,423.7 L80.2,423.7 L80.6,423.6 L81.0,423.6 L81.4,423.5 L81.8,423.4 L82.2,423.3 L82.6,423.2 L83.0,423.2 L83.4,423.1 L83.8,423.0 L84.2,422.9 L84.6,422.8 L85.0,422.7 L85.4,422.5 L85.8,422.4 L86.2,422.3 L86.6,422.2 L87.0,422.0 L87.4,421.9 L87.8,421.7 L88.2,421.5 L88.6,421.4 L89.0,421.2 L89.4,421.0 L89.8,420.8 L90.2,420.6 L90.6,420.3 L91.0,420.1 L91.4,419.9 L91.8,419.6 L92.2,419.3 L92.6,419.1 L93.0,418.8 L93.4,418.5 L93.8,418.2 L94.2,417.9 L94.6,417.5 L95.0,417.2 L95.3,416.9 L95.7,416.6 L96.1,416.2 L96.5,415.9 L96.9,415.6 L97.3,415.3 L97.7,415.1 L98.1,414.8 L98.5,414.6 L98.9,414.4 L99.3,414.3 L99.7,414.1 L100.1,414.1 L100.5,414.0 L100.9,414.0 L101.3,414.1 L101.7,414.2 L102.1,414.3 L102.5,414.5 L102.9,414.7 L103.3,414.9 L103.7,415.1 L104.1,415.4 L104.5,415.7 L104.9,416.0 L105.3,416.2 L105.7,416.5 L106.1,416.8 L106.5,417.1 L106.9,417.4 L107.3,417.7 L107.7,418.0 L108.1,418.3 L108.5,418.5 L108.9,418.8 L109.3,419.0 L109.7,419.3 L110.1,419.5 L110.5,419.7 L110.9,419.9 L111.2,420.1 L111.6,420.3 L112.0,420.4 L112.4,420.6 L112.8,420.8 L113.2,420.9 L113.6,421.0 L114.0,421.2 L114.4,421.3 L114.8,421.4 L115.2,421.5 L115.6,421.6 L116.0,421.7 L116.4,421.8 L116.8,421.9 L117.2,422.0 L117.6,422.1 L118.0,422.1 L118.4,422.2 L118.8,422.3 L119.2,422.3 L119.6,422.4 L120.0,422.4 L120.4,422.5 L120.8,422.5 L121.2,422.6 L121.6,422.6 L122.0,422.6 L122.4,422.7 L122.8,422.7 L123.2,422.8 L123.6,422.8 L124.0,422.8 L124.4,422.8 L124.8,422.9 L125.2,422.9 L125.6,422.9 L126.0,422.9 L126.4,422.9 L126.8,423.0 L127.2,423.0 L127.5,423.0 L127.9,423.0 L128.3,423.0 L128.7,423.0 L129.1,423.0 L129.5,423.0 L129.9,423.0 L130.3,423.0 L130.7,423.0 L131.1,423.0 L131.5,423.0 L131.9,423.0 L132.3,423.0 L132.7,423.0 L133.1,423.0 L133.5,423.0 L133.9,423.0 L134.3,423.0 L134.7,422.9 L135.1,422.9 L135.5,422.9 L135.9,422.9 L136.3,422.9 L136.7,422.9 L137.1,422.9 L137.5,422.9 L137.9,422.8 L138.3,422.8 L138.7,422.8 L139.1,422.8 L139.5,422.8 L139.9,422.8 L140.3,422.8 L140.7,422.7 L141.1,422.7 L141.5,422.7 L141.9,422.7 L142.3,422.7 L142.7,422.7 L143.1,422.7 L143.4,422.6 L143.8,422.6 L144.2,422.6 L144.6,422.6 L145.0,422.6 L145.4,422.6 L145.8,422.6 L146.2,422.6 L146.6,422.5 L147.0,422.5 L147.4,422.5 L147.8,422.5 L148.2,422.5 L148.6,422.5 L149.0,422.5 L149.4,422.5 L149.8,422.5 L150.2,422.5 L150.6,422.4 L151.0,422.4 L151.4,422.4 L151.8,422.4 L152.2,422.4 L152.6,422.4 L153.0,422.4 L153.4,422.4 L153.8,422.4 L154.2,422.4 L154.6,422.4 L155.0,422.4 L155.4,422.4 L155.8,422.4 L156.2,422.4 L156.6,422.4 L157.0,422.4 L157.4,422.4 L157.8,422.4 L158.2,422.4 L158.6,422.4 L159.0,422.4 L159.3,422.4 L159.7,422.4 L160.1,422.4 L160.5,422.4 L160.9,422.4 L161.3,422.4 L161.7,422.4 L162.1,422.4 L162.5,422.4 L162.9,422.4 L163.3,422.4 L163.7,422.4 L164.1,422.4 L164.5,422.4 L164.9,422.4 L165.3,422.4 L165.7,422.4 L166.1,422.4 L166.5,422.4 L166.9,422.4 L167.3,422.4 L167.7,422.4 L168.1,422.4 L168.5,422.4 L168.9,422.4 L169.3,422.4 L169.7,422.4 L170.1,422.4 L170.5,422.4 L170.9,422.4 L171.3,422.4 L171.7,422.4 L172.1,422.4 L172.5,422.4 L172.9,422.4 L173.3,422.4 L173.7,422.4 L174.1,422.4 L174.5,422.4 L174.8,422.4 L175.2,422.4 L175.6,422.4 L176.0,422.4 L176.4,422.4 L176.8,422.4 L177.2,422.4 L177.6,422.4 L178.0,422.4 L178.4,422.4 L178.8,422.4 L179.2,422.4 L179.6,422.4 L180.0,422.4 L180.4,422.4 L180.8,422.4 L181.2,422.4 L181.6,422.4 L182.0,422.4 L182.4,422.4 L182.8,422.4 L183.2,422.4 L183.6,422.4 L184.0,422.4 L184.4,422.4 L184.8,422.4 L185.2,422.4 L185.6,422.4 L186.0,422.4 L186.4,422.4 L186.8,422.4 L187.2,422.4 L187.6,422.4 L188.0,422.4 L188.4,422.4 L188.8,422.4 L189.2,422.4 L189.6,422.4 L190.0,422.4 L190.4,422.4 L190.8,422.4 L191.1,422.4 L191.5,422.4 L191.9,422.4 L192.3,422.4 L192.7,422.4 L193.1,422.4 L193.5,422.4 L193.9,422.4 L194.3,422.4 L194.7,422.4 L195.1,422.4 L195.5,422.4 L195.9,422.4 L196.3,422.4 L196.7,422.4 L197.1,422.4 L197.5,422.4 L197.9,422.4 L198.3,422.4 L198.7,422.4 L199.1,422.4 L199.5,422.4 L199.9,422.4 L200.3,422.4 L200.7,422.4 L201.1,422.4 L201.5,422.4 L201.9,422.4 L202.3,422.4 L202.7,422.4 L203.1,422.4 L203.5,422.4 L203.9,422.4 L204.3,422.4 L204.7,422.4 L205.1,422.4 L205.5,422.4 L205.9,422.4 L206.3,422.4 L206.7,422.4 L207.0,422.4 L207.4,422.4 L207.8,422.4 L208.2,422.4 L208.6,422.4 L209.0,422.4 L209.4,422.4 L209.8,422.4 L210.2,422.4 L210.6,422.4 L211.0,422.4 L211.4,422.4 L211.8,422.4 L212.2,422.4 L212.6,422.4 L213.0,422.4 L213.4,422.4 L213.8,422.4 L214.2,422.4 L214.6,422.4" fill="none" stroke="#e0b4c8" stroke-width="1.35" stroke-linejoin="round" />
<path d="M55.6,423.1 L56.0,423.1 L56.4,423.2 L56.8,423.2 L57.2,423.2 L57.6,423.2 L58.0,423.3 L58.4,423.3 L58.8,423.3 L59.2,423.3 L59.6,423.4 L60.0,423.4 L60.4,423.4 L60.8,423.4 L61.2,423.4 L61.6,423.5 L62.0,423.5 L62.4,423.5 L62.8,423.5 L63.2,423.5 L63.6,423.5 L63.9,423.5 L64.3,423.6 L64.7,423.6 L65.1,423.6 L65.5,423.6 L65.9,423.6 L66.3,423.6 L66.7,423.6 L67.1,423.6 L67.5,423.6 L67.9,423.6 L68.3,423.6 L68.7,423.6 L69.1,423.6 L69.5,423.6 L69.9,423.6 L70.3,423.5 L70.7,423.5 L71.1,423.5 L71.5,423.5 L71.9,423.5 L72.3,423.4 L72.7,423.4 L73.1,423.4 L73.5,423.4 L73.9,423.3 L74.3,423.3 L74.7,423.2 L75.1,423.2 L75.5,423.1 L75.9,423.1 L76.3,423.0 L76.7,423.0 L77.1,422.9 L77.5,422.8 L77.9,422.8 L78.3,422.7 L78.7,422.6 L79.1,422.5 L79.5,422.4 L79.8,422.3 L80.2,422.2 L80.6,422.1 L81.0,422.0 L81.4,421.9 L81.8,421.7 L82.2,421.6 L82.6,421.5 L83.0,421.3 L83.4,421.1 L83.8,421.0 L84.2,420.8 L84.6,420.6 L85.0,420.4 L85.4,420.2 L85.8,420.0 L86.2,419.8 L86.6,419.6 L87.0,419.3 L87.4,419.1 L87.8,418.8 L88.2,418.5 L88.6,418.2 L89.0,417.9 L89.4,417.6 L89.8,417.2 L90.2,416.9 L90.6,416.5 L91.0,416.1 L91.4,415.6 L91.8,415.2 L92.2,414.7 L92.6,414.3 L93.0,413.8 L93.4,413.3 L93.8,412.7 L94.2,412.2 L94.6,411.7 L95.0,411.1 L95.3,410.5 L95.7,410.0 L96.1,409.4 L96.5,408.9 L96.9,408.4 L97.3,407.9 L97.7,407.4 L98.1,407.0 L98.5,406.6 L98.9,406.3 L99.3,406.1 L99.7,405.9 L100.1,405.7 L100.5,405.7 L100.9,405.7 L101.3,405.8 L101.7,406.0 L102.1,406.2 L102.5,406.5 L102.9,406.9 L103.3,407.3 L103.7,407.7 L104.1,408.2 L104.5,408.7 L104.9,409.2 L105.3,409.7 L105.7,410.3 L106.1,410.8 L106.5,411.3 L106.9,411.9 L107.3,412.4 L107.7,412.9 L108.1,413.4 L108.5,413.9 L108.9,414.3 L109.3,414.8 L109.7,415.2 L110.1,415.6 L110.5,416.0 L110.9,416.3 L111.2,416.7 L111.6,417.0 L112.0,417.3 L112.4,417.6 L112.8,417.9 L113.2,418.2 L113.6,418.4 L114.0,418.7 L114.4,418.9 L114.8,419.1 L115.2,419.3 L115.6,419.5 L116.0,419.7 L116.4,419.8 L116.8,420.0 L117.2,420.2 L117.6,420.3 L118.0,420.4 L118.4,420.6 L118.8,420.7 L119.2,420.8 L119.6,420.9 L120.0,421.0 L120.4,421.1 L120.8,421.2 L121.2,421.3 L121.6,421.4 L122.0,421.5 L122.4,421.6 L122.8,421.6 L123.2,421.7 L123.6,421.8 L124.0,421.8 L124.4,421.9 L124.8,421.9 L125.2,422.0 L125.6,422.0 L126.0,422.1 L126.4,422.1 L126.8,422.1 L127.2,422.2 L127.5,422.2 L127.9,422.2 L128.3,422.3 L128.7,422.3 L129.1,422.3 L129.5,422.3 L129.9,422.3 L130.3,422.3 L130.7,422.3 L131.1,422.3 L131.5,422.3 L131.9,422.3 L132.3,422.3 L132.7,422.3 L133.1,422.3 L133.5,422.3 L133.9,422.3 L134.3,422.3 L134.7,422.3 L135.1,422.3 L135.5,422.3 L135.9,422.3 L136.3,422.3 L136.7,422.3 L137.1,422.2 L137.5,422.2 L137.9,422.2 L138.3,422.2 L138.7,422.2 L139.1,422.2 L139.5,422.1 L139.9,422.1 L140.3,422.1 L140.7,422.1 L141.1,422.1 L141.5,422.1 L141.9,422.0 L142.3,422.0 L142.7,422.0 L143.1,422.0 L143.4,422.0 L143.8,421.9 L144.2,421.9 L144.6,421.9 L145.0,421.9 L145.4,421.9 L145.8,421.9 L146.2,421.8 L146.6,421.8 L147.0,421.8 L147.4,421.8 L147.8,421.8 L148.2,421.8 L148.6,421.8 L149.0,421.7 L149.4,421.7 L149.8,421.7 L150.2,421.7 L150.6,421.7 L151.0,421.7 L151.4,421.7 L151.8,421.7 L152.2,421.7 L152.6,421.7 L153.0,421.7 L153.4,421.7 L153.8,421.7 L154.2,421.7 L154.6,421.7 L155.0,421.7 L155.4,421.7 L155.8,421.7 L156.2,421.7 L156.6,421.7 L157.0,421.7 L157.4,421.8 L157.8,421.8 L158.2,421.8 L158.6,421.8 L159.0,421.8 L159.3,421.8 L159.7,421.8 L160.1,421.8 L160.5,421.8 L160.9,421.8 L161.3,421.8 L161.7,421.8 L162.1,421.8 L162.5,421.8 L162.9,421.8 L163.3,421.8 L163.7,421.8 L164.1,421.9 L164.5,421.9 L164.9,421.9 L165.3,421.9 L165.7,421.9 L166.1,421.9 L166.5,421.9 L166.9,421.9 L167.3,421.9 L167.7,421.9 L168.1,421.9 L168.5,421.9 L168.9,421.9 L169.3,421.9 L169.7,421.9 L170.1,421.9 L170.5,421.9 L170.9,421.9 L171.3,421.9 L171.7,421.9 L172.1,421.9 L172.5,421.9 L172.9,421.9 L173.3,422.0 L173.7,422.0 L174.1,422.0 L174.5,422.0 L174.8,422.0 L175.2,422.0 L175.6,422.0 L176.0,422.0 L176.4,422.0 L176.8,422.0 L177.2,422.0 L177.6,422.0 L178.0,422.0 L178.4,422.0 L178.8,422.0 L179.2,422.0 L179.6,422.0 L180.0,422.0 L180.4,422.0 L180.8,422.0 L181.2,422.0 L181.6,422.0 L182.0,422.0 L182.4,422.0 L182.8,422.0 L183.2,422.0 L183.6,422.0 L184.0,422.0 L184.4,422.1 L184.8,422.1 L185.2,422.1 L185.6,422.1 L186.0,422.1 L186.4,422.1 L186.8,422.1 L187.2,422.1 L187.6,422.1 L188.0,422.1 L188.4,422.1 L188.8,422.1 L189.2,422.1 L189.6,422.1 L190.0,422.1 L190.4,422.1 L190.8,422.1 L191.1,422.1 L191.5,422.1 L191.9,422.1 L192.3,422.1 L192.7,422.1 L193.1,422.1 L193.5,422.1 L193.9,422.1 L194.3,422.1 L194.7,422.1 L195.1,422.2 L195.5,422.2 L195.9,422.2 L196.3,422.2 L196.7,422.2 L197.1,422.2 L197.5,422.2 L197.9,422.2 L198.3,422.2 L198.7,422.2 L199.1,422.2 L199.5,422.2 L199.9,422.2 L200.3,422.2 L200.7,422.2 L201.1,422.2 L201.5,422.2 L201.9,422.2 L202.3,422.2 L202.7,422.2 L203.1,422.2 L203.5,422.2 L203.9,422.3 L204.3,422.3 L204.7,422.3 L205.1,422.3 L205.5,422.3 L205.9,422.3 L206.3,422.3 L206.7,422.3 L207.0,422.3 L207.4,422.3 L207.8,422.3 L208.2,422.3 L208.6,422.3 L209.0,422.3 L209.4,422.3 L209.8,422.3 L210.2,422.3 L210.6,422.3 L211.0,422.4 L211.4,422.4 L211.8,422.4 L212.2,422.4 L212.6,422.4 L213.0,422.4 L213.4,422.4 L213.8,422.4 L214.2,422.4 L214.6,422.4" fill="none" stroke="#da6f9c" stroke-width="1.35" stroke-linejoin="round" />
<path d="M55.6,420.3 L56.0,420.4 L56.4,420.4 L56.8,420.5 L57.2,420.5 L57.6,420.6 L58.0,420.6 L58.4,420.6 L58.8,420.7 L59.2,420.7 L59.6,420.8 L60.0,420.8 L60.4,420.8 L60.8,420.9 L61.2,420.9 L61.6,421.0 L62.0,421.0 L62.4,421.0 L62.8,421.0 L63.2,421.1 L63.6,421.1 L63.9,421.1 L64.3,421.1 L64.7,421.2 L65.1,421.2 L65.5,421.2 L65.9,421.2 L66.3,421.2 L66.7,421.2 L67.1,421.2 L67.5,421.2 L67.9,421.2 L68.3,421.2 L68.7,421.2 L69.1,421.2 L69.5,421.2 L69.9,421.2 L70.3,421.1 L70.7,421.1 L71.1,421.1 L71.5,421.1 L71.9,421.0 L72.3,421.0 L72.7,420.9 L73.1,420.9 L73.5,420.8 L73.9,420.8 L74.3,420.7 L74.7,420.6 L75.1,420.6 L75.5,420.5 L75.9,420.4 L76.3,420.3 L76.7,420.2 L77.1,420.1 L77.5,420.0 L77.9,419.8 L78.3,419.7 L78.7,419.6 L79.1,419.4 L79.5,419.3 L79.8,419.1 L80.2,418.9 L80.6,418.8 L81.0,418.6 L81.4,418.4 L81.8,418.1 L82.2,417.9 L82.6,417.7 L83.0,417.4 L83.4,417.2 L83.8,416.9 L84.2,416.6 L84.6,416.3 L85.0,416.0 L85.4,415.6 L85.8,415.3 L86.2,414.9 L86.6,414.5 L87.0,414.1 L87.4,413.7 L87.8,413.2 L88.2,412.7 L88.6,412.2 L89.0,411.7 L89.4,411.1 L89.8,410.5 L90.2,409.9 L90.6,409.3 L91.0,408.6 L91.4,407.9 L91.8,407.2 L92.2,406.4 L92.6,405.6 L93.0,404.8 L93.4,403.9 L93.8,403.0 L94.2,402.1 L94.6,401.2 L95.0,400.3 L95.3,399.3 L95.7,398.4 L96.1,397.5 L96.5,396.6 L96.9,395.7 L97.3,394.9 L97.7,394.1 L98.1,393.4 L98.5,392.8 L98.9,392.2 L99.3,391.8 L99.7,391.5 L100.1,391.2 L100.5,391.1 L100.9,391.2 L101.3,391.3 L101.7,391.6 L102.1,391.9 L102.5,392.4 L102.9,393.0 L103.3,393.6 L103.7,394.3 L104.1,395.1 L104.5,395.8 L104.9,396.7 L105.3,397.5 L105.7,398.4 L106.1,399.3 L106.5,400.1 L106.9,401.0 L107.3,401.8 L107.7,402.6 L108.1,403.4 L108.5,404.2 L108.9,404.9 L109.3,405.6 L109.7,406.3 L110.1,406.9 L110.5,407.5 L110.9,408.1 L111.2,408.6 L111.6,409.2 L112.0,409.7 L112.4,410.1 L112.8,410.6 L113.2,411.0 L113.6,411.4 L114.0,411.8 L114.4,412.2 L114.8,412.5 L115.2,412.8 L115.6,413.1 L116.0,413.4 L116.4,413.7 L116.8,413.9 L117.2,414.2 L117.6,414.4 L118.0,414.6 L118.4,414.8 L118.8,415.0 L119.2,415.2 L119.6,415.4 L120.0,415.6 L120.4,415.7 L120.8,415.9 L121.2,416.0 L121.6,416.2 L122.0,416.3 L122.4,416.4 L122.8,416.5 L123.2,416.6 L123.6,416.8 L124.0,416.9 L124.4,417.0 L124.8,417.0 L125.2,417.1 L125.6,417.2 L126.0,417.3 L126.4,417.4 L126.8,417.5 L127.2,417.5 L127.5,417.6 L127.9,417.7 L128.3,417.7 L128.7,417.8 L129.1,417.9 L129.5,417.9 L129.9,418.0 L130.3,418.0 L130.7,418.1 L131.1,418.1 L131.5,418.2 L131.9,418.2 L132.3,418.2 L132.7,418.3 L133.1,418.3 L133.5,418.3 L133.9,418.4 L134.3,418.4 L134.7,418.4 L135.1,418.5 L135.5,418.5 L135.9,418.5 L136.3,418.5 L136.7,418.6 L137.1,418.6 L137.5,418.6 L137.9,418.6 L138.3,418.6 L138.7,418.7 L139.1,418.7 L139.5,418.7 L139.9,418.7 L140.3,418.7 L140.7,418.7 L141.1,418.7 L141.5,418.8 L141.9,418.8 L142.3,418.8 L142.7,418.8 L143.1,418.8 L143.4,418.8 L143.8,418.8 L144.2,418.8 L144.6,418.8 L145.0,418.8 L145.4,418.8 L145.8,418.8 L146.2,418.8 L146.6,418.9 L147.0,418.9 L147.4,418.9 L147.8,418.9 L148.2,418.9 L148.6,418.9 L149.0,418.9 L149.4,418.9 L149.8,418.9 L150.2,418.9 L150.6,418.9 L151.0,418.9 L151.4,418.9 L151.8,418.9 L152.2,418.9 L152.6,418.9 L153.0,418.9 L153.4,418.9 L153.8,418.9 L154.2,418.9 L154.6,418.9 L155.0,418.9 L155.4,418.9 L155.8,418.9 L156.2,418.9 L156.6,418.9 L157.0,418.9 L157.4,418.9 L157.8,418.9 L158.2,418.9 L158.6,418.9 L159.0,418.9 L159.3,418.9 L159.7,418.9 L160.1,418.9 L160.5,418.9 L160.9,418.9 L161.3,418.9 L161.7,418.9 L162.1,418.9 L162.5,418.9 L162.9,418.9 L163.3,418.9 L163.7,418.9 L164.1,418.9 L164.5,418.9 L164.9,418.9 L165.3,418.9 L165.7,418.9 L166.1,418.9 L166.5,418.9 L166.9,418.9 L167.3,418.9 L167.7,418.9 L168.1,418.9 L168.5,418.9 L168.9,418.9 L169.3,418.9 L169.7,418.9 L170.1,418.9 L170.5,418.9 L170.9,418.9 L171.3,418.9 L171.7,418.9 L172.1,418.9 L172.5,418.9 L172.9,418.9 L173.3,418.9 L173.7,418.9 L174.1,418.9 L174.5,418.9 L174.8,418.9 L175.2,418.9 L175.6,418.9 L176.0,418.9 L176.4,419.0 L176.8,419.0 L177.2,419.0 L177.6,419.0 L178.0,419.0 L178.4,419.0 L178.8,419.0 L179.2,419.0 L179.6,419.0 L180.0,419.0 L180.4,419.0 L180.8,419.0 L181.2,419.1 L181.6,419.1 L182.0,419.1 L182.4,419.1 L182.8,419.1 L183.2,419.1 L183.6,419.1 L184.0,419.1 L184.4,419.2 L184.8,419.2 L185.2,419.2 L185.6,419.2 L186.0,419.2 L186.4,419.2 L186.8,419.2 L187.2,419.3 L187.6,419.3 L188.0,419.3 L188.4,419.3 L188.8,419.3 L189.2,419.3 L189.6,419.4 L190.0,419.4 L190.4,419.4 L190.8,419.4 L191.1,419.4 L191.5,419.4 L191.9,419.5 L192.3,419.5 L192.7,419.5 L193.1,419.5 L193.5,419.5 L193.9,419.6 L194.3,419.6 L194.7,419.6 L195.1,419.6 L195.5,419.7 L195.9,419.7 L196.3,419.7 L196.7,419.7 L197.1,419.7 L197.5,419.8 L197.9,419.8 L198.3,419.8 L198.7,419.8 L199.1,419.9 L199.5,419.9 L199.9,419.9 L200.3,419.9 L200.7,420.0 L201.1,420.0 L201.5,420.0 L201.9,420.0 L202.3,420.1 L202.7,420.1 L203.1,420.1 L203.5,420.2 L203.9,420.2 L204.3,420.2 L204.7,420.2 L205.1,420.3 L205.5,420.3 L205.9,420.3 L206.3,420.4 L206.7,420.4 L207.0,420.4 L207.4,420.4 L207.8,420.5 L208.2,420.5 L208.6,420.5 L209.0,420.6 L209.4,420.6 L209.8,420.6 L210.2,420.7 L210.6,420.7 L211.0,420.7 L211.4,420.8 L211.8,420.8 L212.2,420.8 L212.6,420.9 L213.0,420.9 L213.4,420.9 L213.8,420.9 L214.2,421.0 L214.6,421.0" fill="none" stroke="#d08898" stroke-width="1.35" stroke-linejoin="round" />
<path d="M55.6,409.9 L56.0,409.9 L56.4,409.8 L56.8,409.8 L57.2,409.8 L57.6,409.8 L58.0,409.7 L58.4,409.7 L58.8,409.7 L59.2,409.7 L59.6,409.6 L60.0,409.6 L60.4,409.6 L60.8,409.5 L61.2,409.5 L61.6,409.5 L62.0,409.4 L62.4,409.4 L62.8,409.3 L63.2,409.3 L63.6,409.2 L63.9,409.2 L64.3,409.1 L64.7,409.0 L65.1,409.0 L65.5,408.9 L65.9,408.8 L66.3,408.7 L66.7,408.6 L67.1,408.5 L67.5,408.4 L67.9,408.3 L68.3,408.1 L68.7,408.0 L69.1,407.8 L69.5,407.6 L69.9,407.4 L70.3,407.2 L70.7,407.0 L71.1,406.7 L71.5,406.4 L71.9,406.1 L72.3,405.7 L72.7,405.4 L73.1,405.0 L73.5,404.5 L73.9,404.1 L74.3,403.6 L74.7,403.0 L75.1,402.3 L75.5,401.6 L75.9,400.7 L76.3,399.8 L76.7,398.8 L77.1,397.9 L77.5,397.0 L77.9,396.3 L78.3,395.7 L78.7,395.3 L79.1,395.0 L79.5,394.8 L79.8,394.5 L80.2,394.2 L80.6,393.9 L81.0,393.5 L81.4,393.0 L81.8,392.6 L82.2,392.2 L82.6,391.8 L83.0,391.4 L83.4,391.0 L83.8,390.7 L84.2,390.4 L84.6,390.1 L85.0,389.8 L85.4,389.6 L85.8,389.3 L86.2,389.1 L86.6,388.8 L87.0,388.5 L87.4,388.2 L87.8,387.9 L88.2,387.5 L88.6,387.1 L89.0,386.6 L89.4,386.1 L89.8,385.5 L90.2,384.9 L90.6,384.2 L91.0,383.4 L91.4,382.5 L91.8,381.6 L92.2,380.6 L92.6,379.6 L93.0,378.5 L93.4,377.3 L93.8,376.0 L94.2,374.7 L94.6,373.4 L95.0,372.1 L95.3,370.7 L95.7,369.3 L96.1,368.0 L96.5,366.7 L96.9,365.4 L97.3,364.3 L97.7,363.2 L98.1,362.3 L98.5,361.5 L98.9,360.9 L99.3,360.4 L99.7,360.1 L100.1,360.0 L100.5,360.2 L100.9,360.5 L101.3,361.0 L101.7,361.7 L102.1,362.5 L102.5,363.5 L102.9,364.7 L103.3,365.9 L103.7,367.2 L104.1,368.6 L104.5,370.1 L104.9,371.6 L105.3,373.1 L105.7,374.6 L106.1,376.1 L106.5,377.6 L106.9,379.0 L107.3,380.5 L107.7,381.8 L108.1,383.2 L108.5,384.5 L108.9,385.7 L109.3,386.9 L109.7,388.0 L110.1,389.1 L110.5,390.1 L110.9,391.1 L111.2,392.1 L111.6,393.0 L112.0,393.8 L112.4,394.6 L112.8,395.4 L113.2,396.1 L113.6,396.8 L114.0,397.5 L114.4,398.1 L114.8,398.7 L115.2,399.3 L115.6,399.8 L116.0,400.3 L116.4,400.8 L116.8,401.3 L117.2,401.7 L117.6,402.1 L118.0,402.5 L118.4,402.9 L118.8,403.3 L119.2,403.6 L119.6,403.9 L120.0,404.2 L120.4,404.5 L120.8,404.7 L121.2,405.0 L121.6,405.2 L122.0,405.3 L122.4,405.5 L122.8,405.6 L123.2,405.8 L123.6,405.9 L124.0,406.0 L124.4,406.0 L124.8,406.1 L125.2,406.1 L125.6,406.2 L126.0,406.2 L126.4,406.2 L126.8,406.2 L127.2,406.2 L127.5,406.2 L127.9,406.2 L128.3,406.2 L128.7,406.2 L129.1,406.2 L129.5,406.2 L129.9,406.1 L130.3,406.1 L130.7,406.1 L131.1,406.1 L131.5,406.1 L131.9,406.0 L132.3,406.0 L132.7,406.0 L133.1,406.0 L133.5,406.0 L133.9,406.0 L134.3,406.0 L134.7,406.0 L135.1,406.1 L135.5,406.1 L135.9,406.1 L136.3,406.1 L136.7,406.2 L137.1,406.2 L137.5,406.2 L137.9,406.2 L138.3,406.2 L138.7,406.3 L139.1,406.3 L139.5,406.3 L139.9,406.3 L140.3,406.3 L140.7,406.3 L141.1,406.4 L141.5,406.4 L141.9,406.4 L142.3,406.4 L142.7,406.4 L143.1,406.4 L143.4,406.4 L143.8,406.4 L144.2,406.5 L144.6,406.5 L145.0,406.5 L145.4,406.5 L145.8,406.5 L146.2,406.5 L146.6,406.5 L147.0,406.5 L147.4,406.6 L147.8,406.6 L148.2,406.6 L148.6,406.6 L149.0,406.6 L149.4,406.7 L149.8,406.7 L150.2,406.7 L150.6,406.7 L151.0,406.7 L151.4,406.8 L151.8,406.8 L152.2,406.8 L152.6,406.9 L153.0,406.9 L153.4,406.9 L153.8,407.0 L154.2,407.0 L154.6,407.0 L155.0,407.1 L155.4,407.1 L155.8,407.2 L156.2,407.2 L156.6,407.3 L157.0,407.3 L157.4,407.4 L157.8,407.4 L158.2,407.5 L158.6,407.5 L159.0,407.6 L159.3,407.6 L159.7,407.7 L160.1,407.7 L160.5,407.8 L160.9,407.8 L161.3,407.9 L161.7,407.9 L162.1,408.0 L162.5,408.1 L162.9,408.1 L163.3,408.2 L163.7,408.2 L164.1,408.3 L164.5,408.4 L164.9,408.4 L165.3,408.5 L165.7,408.6 L166.1,408.6 L166.5,408.7 L166.9,408.8 L167.3,408.8 L167.7,408.9 L168.1,408.9 L168.5,409.0 L168.9,409.1 L169.3,409.1 L169.7,409.2 L170.1,409.3 L170.5,409.3 L170.9,409.4 L171.3,409.4 L171.7,409.5 L172.1,409.6 L172.5,409.6 L172.9,409.7 L173.3,409.7 L173.7,409.8 L174.1,409.9 L174.5,409.9 L174.8,410.0 L175.2,410.0 L175.6,410.1 L176.0,410.1 L176.4,410.2 L176.8,410.2 L177.2,410.3 L177.6,410.3 L178.0,410.4 L178.4,410.4 L178.8,410.5 L179.2,410.5 L179.6,410.6 L180.0,410.6 L180.4,410.7 L180.8,410.7 L181.2,410.7 L181.6,410.8 L182.0,410.8 L182.4,410.9 L182.8,410.9 L183.2,410.9 L183.6,411.0 L184.0,411.0 L184.4,411.1 L184.8,411.1 L185.2,411.1 L185.6,411.2 L186.0,411.2 L186.4,411.3 L186.8,411.3 L187.2,411.3 L187.6,411.4 L188.0,411.4 L188.4,411.5 L188.8,411.5 L189.2,411.5 L189.6,411.6 L190.0,411.6 L190.4,411.7 L190.8,411.7 L191.1,411.7 L191.5,411.8 L191.9,411.8 L192.3,411.8 L192.7,411.9 L193.1,411.9 L193.5,412.0 L193.9,412.0 L194.3,412.0 L194.7,412.1 L195.1,412.1 L195.5,412.1 L195.9,412.2 L196.3,412.2 L196.7,412.2 L197.1,412.3 L197.5,412.3 L197.9,412.4 L198.3,412.4 L198.7,412.4 L199.1,412.5 L199.5,412.5 L199.9,412.5 L200.3,412.6 L200.7,412.6 L201.1,412.6 L201.5,412.7 L201.9,412.7 L202.3,412.7 L202.7,412.8 L203.1,412.8 L203.5,412.8 L203.9,412.9 L204.3,412.9 L204.7,412.9 L205.1,413.0 L205.5,413.0 L205.9,413.0 L206.3,413.1 L206.7,413.1 L207.0,413.1 L207.4,413.2 L207.8,413.2 L208.2,413.2 L208.6,413.3 L209.0,413.3 L209.4,413.3 L209.8,413.3 L210.2,413.4 L210.6,413.4 L211.0,413.4 L211.4,413.5 L211.8,413.5 L212.2,413.5 L212.6,413.6 L213.0,413.6 L213.4,413.6 L213.8,413.6 L214.2,413.7 L214.6,413.7" fill="none" stroke="#dc7a84" stroke-width="1.35" stroke-linejoin="round" />
<path d="M55.6,413.0 L56.0,413.0 L56.4,413.0 L56.8,412.9 L57.2,412.9 L57.6,412.9 L58.0,412.8 L58.4,412.8 L58.8,412.8 L59.2,412.7 L59.6,412.7 L60.0,412.7 L60.4,412.6 L60.8,412.6 L61.2,412.5 L61.6,412.5 L62.0,412.4 L62.4,412.4 L62.8,412.3 L63.2,412.3 L63.6,412.2 L63.9,412.1 L64.3,412.1 L64.7,412.0 L65.1,411.9 L65.5,411.8 L65.9,411.7 L66.3,411.6 L66.7,411.5 L67.1,411.4 L67.5,411.3 L67.9,411.1 L68.3,411.0 L68.7,410.8 L69.1,410.6 L69.5,410.4 L69.9,410.2 L70.3,410.0 L70.7,409.7 L71.1,409.5 L71.5,409.2 L71.9,408.8 L72.3,408.5 L72.7,408.1 L73.1,407.7 L73.5,407.2 L73.9,406.8 L74.3,406.2 L74.7,405.6 L75.1,404.9 L75.5,404.2 L75.9,403.3 L76.3,402.3 L76.7,401.3 L77.1,400.3 L77.5,399.4 L77.9,398.7 L78.3,398.1 L78.7,397.6 L79.1,397.2 L79.5,396.9 L79.8,396.6 L80.2,396.2 L80.6,395.8 L81.0,395.3 L81.4,394.7 L81.8,394.2 L82.2,393.7 L82.6,393.1 L83.0,392.6 L83.4,392.1 L83.8,391.6 L84.2,391.2 L84.6,390.7 L85.0,390.2 L85.4,389.8 L85.8,389.3 L86.2,388.8 L86.6,388.2 L87.0,387.7 L87.4,387.1 L87.8,386.4 L88.2,385.7 L88.6,384.9 L89.0,384.1 L89.4,383.2 L89.8,382.2 L90.2,381.1 L90.6,379.9 L91.0,378.6 L91.4,377.2 L91.8,375.7 L92.2,374.2 L92.6,372.5 L93.0,370.7 L93.4,368.9 L93.8,367.0 L94.2,365.0 L94.6,363.0 L95.0,360.9 L95.3,358.9 L95.7,356.8 L96.1,354.8 L96.5,352.8 L96.9,351.0 L97.3,349.2 L97.7,347.7 L98.1,346.3 L98.5,345.1 L98.9,344.2 L99.3,343.6 L99.7,343.3 L100.1,343.2 L100.5,343.5 L100.9,344.0 L101.3,344.9 L101.7,346.0 L102.1,347.4 L102.5,349.0 L102.9,350.8 L103.3,352.7 L103.7,354.8 L104.1,357.0 L104.5,359.3 L104.9,361.7 L105.3,364.0 L105.7,366.4 L106.1,368.8 L106.5,371.1 L106.9,373.4 L107.3,375.6 L107.7,377.8 L108.1,379.9 L108.5,381.9 L108.9,383.8 L109.3,385.7 L109.7,387.5 L110.1,389.2 L110.5,390.8 L110.9,392.4 L111.2,393.9 L111.6,395.3 L112.0,396.6 L112.4,397.9 L112.8,399.1 L113.2,400.3 L113.6,401.4 L114.0,402.4 L114.4,403.4 L114.8,404.3 L115.2,405.2 L115.6,406.1 L116.0,406.9 L116.4,407.6 L116.8,408.3 L117.2,409.0 L117.6,409.7 L118.0,410.3 L118.4,410.9 L118.8,411.4 L119.2,412.0 L119.6,412.5 L120.0,412.9 L120.4,413.3 L120.8,413.7 L121.2,414.0 L121.6,414.3 L122.0,414.6 L122.4,414.8 L122.8,415.0 L123.2,415.2 L123.6,415.3 L124.0,415.5 L124.4,415.6 L124.8,415.6 L125.2,415.7 L125.6,415.7 L126.0,415.8 L126.4,415.8 L126.8,415.8 L127.2,415.7 L127.5,415.7 L127.9,415.7 L128.3,415.6 L128.7,415.6 L129.1,415.5 L129.5,415.4 L129.9,415.4 L130.3,415.3 L130.7,415.2 L131.1,415.2 L131.5,415.1 L131.9,415.0 L132.3,415.0 L132.7,414.9 L133.1,414.9 L133.5,414.8 L133.9,414.8 L134.3,414.8 L134.7,414.8 L135.1,414.8 L135.5,414.8 L135.9,414.8 L136.3,414.8 L136.7,414.8 L137.1,414.8 L137.5,414.8 L137.9,414.8 L138.3,414.8 L138.7,414.8 L139.1,414.8 L139.5,414.8 L139.9,414.8 L140.3,414.8 L140.7,414.8 L141.1,414.8 L141.5,414.8 L141.9,414.8 L142.3,414.8 L142.7,414.8 L143.1,414.8 L143.4,414.8 L143.8,414.8 L144.2,414.8 L144.6,414.8 L145.0,414.8 L145.4,414.7 L145.8,414.7 L146.2,414.7 L146.6,414.7 L147.0,414.7 L147.4,414.7 L147.8,414.7 L148.2,414.7 L148.6,414.6 L149.0,414.6 L149.4,414.6 L149.8,414.6 L150.2,414.6 L150.6,414.5 L151.0,414.5 L151.4,414.5 L151.8,414.5 L152.2,414.5 L152.6,414.4 L153.0,414.4 L153.4,414.4 L153.8,414.4 L154.2,414.4 L154.6,414.4 L155.0,414.3 L155.4,414.3 L155.8,414.3 L156.2,414.3 L156.6,414.3 L157.0,414.3 L157.4,414.3 L157.8,414.3 L158.2,414.3 L158.6,414.3 L159.0,414.3 L159.3,414.4 L159.7,414.4 L160.1,414.4 L160.5,414.4 L160.9,414.5 L161.3,414.5 L161.7,414.6 L162.1,414.6 L162.5,414.7 L162.9,414.8 L163.3,414.9 L163.7,414.9 L164.1,415.0 L164.5,415.1 L164.9,415.2 L165.3,415.3 L165.7,415.5 L166.1,415.6 L166.5,415.7 L166.9,415.8 L167.3,416.0 L167.7,416.1 L168.1,416.2 L168.5,416.4 L168.9,416.5 L169.3,416.6 L169.7,416.8 L170.1,416.9 L170.5,417.0 L170.9,417.2 L171.3,417.3 L171.7,417.5 L172.1,417.6 L172.5,417.7 L172.9,417.9 L173.3,418.0 L173.7,418.2 L174.1,418.3 L174.5,418.4 L174.8,418.5 L175.2,418.7 L175.6,418.8 L176.0,418.9 L176.4,419.0 L176.8,419.1 L177.2,419.2 L177.6,419.3 L178.0,419.4 L178.4,419.4 L178.8,419.5 L179.2,419.6 L179.6,419.6 L180.0,419.7 L180.4,419.7 L180.8,419.8 L181.2,419.8 L181.6,419.9 L182.0,419.9 L182.4,420.0 L182.8,420.0 L183.2,420.1 L183.6,420.1 L184.0,420.2 L184.4,420.2 L184.8,420.3 L185.2,420.3 L185.6,420.4 L186.0,420.4 L186.4,420.5 L186.8,420.5 L187.2,420.6 L187.6,420.6 L188.0,420.6 L188.4,420.7 L188.8,420.7 L189.2,420.8 L189.6,420.8 L190.0,420.9 L190.4,420.9 L190.8,420.9 L191.1,421.0 L191.5,421.0 L191.9,421.1 L192.3,421.1 L192.7,421.1 L193.1,421.2 L193.5,421.2 L193.9,421.3 L194.3,421.3 L194.7,421.3 L195.1,421.4 L195.5,421.4 L195.9,421.4 L196.3,421.5 L196.7,421.5 L197.1,421.5 L197.5,421.6 L197.9,421.6 L198.3,421.6 L198.7,421.7 L199.1,421.7 L199.5,421.7 L199.9,421.8 L200.3,421.8 L200.7,421.8 L201.1,421.9 L201.5,421.9 L201.9,421.9 L202.3,421.9 L202.7,422.0 L203.1,422.0 L203.5,422.0 L203.9,422.0 L204.3,422.1 L204.7,422.1 L205.1,422.1 L205.5,422.1 L205.9,422.1 L206.3,422.2 L206.7,422.2 L207.0,422.2 L207.4,422.2 L207.8,422.2 L208.2,422.3 L208.6,422.3 L209.0,422.3 L209.4,422.3 L209.8,422.3 L210.2,422.3 L210.6,422.3 L211.0,422.3 L211.4,422.4 L211.8,422.4 L212.2,422.4 L212.6,422.4 L213.0,422.4 L213.4,422.4 L213.8,422.4 L214.2,422.4 L214.6,422.4" fill="none" stroke="#cc2c2e" stroke-width="1.35" stroke-linejoin="round" />
<path d="M55.6,413.0 L56.0,413.4 L56.4,413.9 L56.8,414.3 L57.2,414.7 L57.6,415.0 L58.0,415.4 L58.4,415.8 L58.8,416.1 L59.2,416.4 L59.6,416.7 L60.0,417.0 L60.4,417.3 L60.8,417.6 L61.2,417.8 L61.6,418.0 L62.0,418.2 L62.4,418.4 L62.8,418.6 L63.2,418.8 L63.6,418.9 L63.9,419.1 L64.3,419.2 L64.7,419.3 L65.1,419.4 L65.5,419.5 L65.9,419.5 L66.3,419.5 L66.7,419.5 L67.1,419.5 L67.5,419.5 L67.9,419.5 L68.3,419.4 L68.7,419.3 L69.1,419.2 L69.5,419.1 L69.9,419.0 L70.3,418.8 L70.7,418.7 L71.1,418.5 L71.5,418.2 L71.9,418.0 L72.3,417.7 L72.7,417.4 L73.1,417.1 L73.5,416.8 L73.9,416.4 L74.3,416.0 L74.7,415.6 L75.1,415.2 L75.5,414.8 L75.9,414.3 L76.3,413.8 L76.7,413.3 L77.1,412.8 L77.5,412.2 L77.9,411.6 L78.3,410.9 L78.7,410.1 L79.1,409.2 L79.5,408.1 L79.8,406.9 L80.2,405.6 L80.6,404.3 L81.0,402.9 L81.4,401.5 L81.8,400.0 L82.2,398.5 L82.6,397.1 L83.0,395.6 L83.4,394.2 L83.8,392.9 L84.2,391.6 L84.6,390.4 L85.0,389.3 L85.4,388.3 L85.8,387.2 L86.2,386.0 L86.6,384.8 L87.0,383.5 L87.4,382.1 L87.8,380.7 L88.2,379.2 L88.6,377.7 L89.0,376.0 L89.4,374.3 L89.8,372.5 L90.2,370.6 L90.6,368.6 L91.0,366.5 L91.4,364.4 L91.8,362.1 L92.2,359.8 L92.6,357.3 L93.0,354.8 L93.4,352.3 L93.8,349.7 L94.2,347.0 L94.6,344.3 L95.0,341.6 L95.3,339.0 L95.7,336.4 L96.1,333.8 L96.5,331.4 L96.9,329.1 L97.3,327.1 L97.7,325.2 L98.1,323.6 L98.5,322.3 L98.9,321.3 L99.3,320.7 L99.7,320.4 L100.1,320.5 L100.5,321.0 L100.9,321.8 L101.3,323.0 L101.7,324.5 L102.1,326.3 L102.5,328.3 L102.9,330.6 L103.3,333.1 L103.7,335.7 L104.1,338.4 L104.5,341.2 L104.9,344.0 L105.3,346.9 L105.7,349.8 L106.1,352.6 L106.5,355.4 L106.9,358.1 L107.3,360.8 L107.7,363.3 L108.1,365.8 L108.5,368.2 L108.9,370.5 L109.3,372.7 L109.7,374.9 L110.1,376.9 L110.5,378.8 L110.9,380.6 L111.2,382.4 L111.6,384.0 L112.0,385.6 L112.4,387.1 L112.8,388.6 L113.2,389.9 L113.6,391.2 L114.0,392.4 L114.4,393.6 L114.8,394.7 L115.2,395.7 L115.6,396.7 L116.0,397.6 L116.4,398.5 L116.8,399.3 L117.2,400.1 L117.6,400.9 L118.0,401.6 L118.4,402.3 L118.8,402.9 L119.2,403.6 L119.6,404.1 L120.0,404.7 L120.4,405.2 L120.8,405.7 L121.2,406.2 L121.6,406.7 L122.0,407.1 L122.4,407.6 L122.8,408.0 L123.2,408.4 L123.6,408.7 L124.0,409.1 L124.4,409.4 L124.8,409.8 L125.2,410.1 L125.6,410.4 L126.0,410.6 L126.4,410.9 L126.8,411.2 L127.2,411.4 L127.5,411.7 L127.9,411.9 L128.3,412.1 L128.7,412.3 L129.1,412.5 L129.5,412.7 L129.9,412.9 L130.3,413.1 L130.7,413.3 L131.1,413.4 L131.5,413.6 L131.9,413.7 L132.3,413.9 L132.7,414.0 L133.1,414.2 L133.5,414.3 L133.9,414.4 L134.3,414.5 L134.7,414.6 L135.1,414.8 L135.5,414.9 L135.9,414.9 L136.3,415.0 L136.7,415.1 L137.1,415.1 L137.5,415.2 L137.9,415.2 L138.3,415.2 L138.7,415.3 L139.1,415.3 L139.5,415.3 L139.9,415.3 L140.3,415.3 L140.7,415.3 L141.1,415.2 L141.5,415.2 L141.9,415.2 L142.3,415.2 L142.7,415.2 L143.1,415.2 L143.4,415.1 L143.8,415.1 L144.2,415.1 L144.6,415.1 L145.0,415.1 L145.4,415.1 L145.8,415.1 L146.2,415.1 L146.6,415.1 L147.0,415.0 L147.4,415.0 L147.8,415.0 L148.2,415.0 L148.6,414.9 L149.0,414.9 L149.4,414.9 L149.8,414.8 L150.2,414.8 L150.6,414.8 L151.0,414.7 L151.4,414.7 L151.8,414.7 L152.2,414.6 L152.6,414.6 L153.0,414.6 L153.4,414.5 L153.8,414.5 L154.2,414.5 L154.6,414.4 L155.0,414.4 L155.4,414.4 L155.8,414.4 L156.2,414.4 L156.6,414.3 L157.0,414.3 L157.4,414.3 L157.8,414.3 L158.2,414.3 L158.6,414.3 L159.0,414.3 L159.3,414.4 L159.7,414.4 L160.1,414.4 L160.5,414.4 L160.9,414.5 L161.3,414.5 L161.7,414.6 L162.1,414.7 L162.5,414.8 L162.9,414.9 L163.3,415.0 L163.7,415.1 L164.1,415.3 L164.5,415.4 L164.9,415.5 L165.3,415.7 L165.7,415.8 L166.1,416.0 L166.5,416.2 L166.9,416.3 L167.3,416.5 L167.7,416.6 L168.1,416.8 L168.5,417.0 L168.9,417.1 L169.3,417.3 L169.7,417.4 L170.1,417.6 L170.5,417.7 L170.9,417.9 L171.3,418.0 L171.7,418.2 L172.1,418.3 L172.5,418.5 L172.9,418.7 L173.3,418.8 L173.7,419.0 L174.1,419.2 L174.5,419.4 L174.8,419.5 L175.2,419.7 L175.6,419.9 L176.0,420.1 L176.4,420.2 L176.8,420.4 L177.2,420.6 L177.6,420.7 L178.0,420.9 L178.4,421.0 L178.8,421.1 L179.2,421.3 L179.6,421.4 L180.0,421.5 L180.4,421.6 L180.8,421.7 L181.2,421.8 L181.6,421.9 L182.0,422.0 L182.4,422.1 L182.8,422.2 L183.2,422.3 L183.6,422.4 L184.0,422.5 L184.4,422.6 L184.8,422.7 L185.2,422.8 L185.6,422.9 L186.0,423.0 L186.4,423.1 L186.8,423.2 L187.2,423.3 L187.6,423.4 L188.0,423.5 L188.4,423.6 L188.8,423.7 L189.2,423.7 L189.6,423.8 L190.0,423.9 L190.4,424.0 L190.8,424.1 L191.1,424.2 L191.5,424.3 L191.9,424.4 L192.3,424.5 L192.7,424.5 L193.1,424.6 L193.5,424.7 L193.9,424.8 L194.3,424.9 L194.7,425.0 L195.1,425.0 L195.5,425.1 L195.9,425.2 L196.3,425.3 L196.7,425.3 L197.1,425.4 L197.5,425.5 L197.9,425.6 L198.3,425.6 L198.7,425.7 L199.1,425.8 L199.5,425.8 L199.9,425.9 L200.3,426.0 L200.7,426.0 L201.1,426.1 L201.5,426.2 L201.9,426.2 L202.3,426.3 L202.7,426.3 L203.1,426.4 L203.5,426.4 L203.9,426.5 L204.3,426.5 L204.7,426.6 L205.1,426.6 L205.5,426.7 L205.9,426.7 L206.3,426.8 L206.7,426.8 L207.0,426.9 L207.4,426.9 L207.8,426.9 L208.2,427.0 L208.6,427.0 L209.0,427.0 L209.4,427.1 L209.8,427.1 L210.2,427.1 L210.6,427.1 L211.0,427.2 L211.4,427.2 L211.8,427.2 L212.2,427.2 L212.6,427.2 L213.0,427.2 L213.4,427.3 L213.8,427.3 L214.2,427.3 L214.6,427.3" fill="none" stroke="#7c1a1c" stroke-width="1.35" stroke-linejoin="round" />
<text x="299.80" y="265.70" font-size="16.5" text-anchor="start" font-weight="bold" fill="#231f20" >C</text>
<line x1="345.10" y1="283.40" x2="345.10" y2="432.00" stroke="#231f20" stroke-width="1.7" />
<line x1="344.30" y1="431.20" x2="507.90" y2="431.20" stroke="#231f20" stroke-width="1.7" />
<line x1="340.50" y1="431.20" x2="345.10" y2="431.20" stroke="#231f20" stroke-width="1.3" />
<text transform="translate(335.80,434.70) scale(1.08,1)" font-size="11" text-anchor="end" font-weight="normal" fill="#231f20" >0.0</text>
<line x1="340.50" y1="395.40" x2="345.10" y2="395.40" stroke="#231f20" stroke-width="1.3" />
<text transform="translate(335.80,398.90) scale(1.08,1)" font-size="11" text-anchor="end" font-weight="normal" fill="#231f20" >0.1</text>
<line x1="340.50" y1="359.60" x2="345.10" y2="359.60" stroke="#231f20" stroke-width="1.3" />
<text transform="translate(335.80,363.10) scale(1.08,1)" font-size="11" text-anchor="end" font-weight="normal" fill="#231f20" >0.2</text>
<line x1="340.50" y1="323.80" x2="345.10" y2="323.80" stroke="#231f20" stroke-width="1.3" />
<text transform="translate(335.80,327.30) scale(1.08,1)" font-size="11" text-anchor="end" font-weight="normal" fill="#231f20" >0.3</text>
<line x1="340.50" y1="288.00" x2="345.10" y2="288.00" stroke="#231f20" stroke-width="1.3" />
<text transform="translate(335.80,291.50) scale(1.08,1)" font-size="11" text-anchor="end" font-weight="normal" fill="#231f20" >0.4</text>
<line x1="345.10" y1="431.20" x2="345.10" y2="435.20" stroke="#231f20" stroke-width="1.3" />
<text transform="translate(345.10,449.80) scale(1.08,1)" font-size="11" text-anchor="middle" font-weight="normal" fill="#231f20" >0</text>
<line x1="397.70" y1="431.20" x2="397.70" y2="435.20" stroke="#231f20" stroke-width="1.3" />
<text transform="translate(397.70,449.80) scale(1.08,1)" font-size="11" text-anchor="middle" font-weight="normal" fill="#231f20" >5</text>
<line x1="450.30" y1="431.20" x2="450.30" y2="435.20" stroke="#231f20" stroke-width="1.3" />
<text transform="translate(450.30,449.80) scale(1.08,1)" font-size="11" text-anchor="middle" font-weight="normal" fill="#231f20" >10</text>
<line x1="502.90" y1="431.20" x2="502.90" y2="435.20" stroke="#231f20" stroke-width="1.3" />
<text transform="translate(502.90,449.80) scale(1.08,1)" font-size="11" text-anchor="middle" font-weight="normal" fill="#231f20" >15</text>
<text x="379.60" y="469.60" font-size="14" fill="#231f20" stroke="#231f20" stroke-width="0.4" textLength="94.0" lengthAdjust="spacingAndGlyphs">Molar excess of heme</text>
<text transform="translate(311.80,376.00) rotate(-90)" font-size="14" fill="#231f20" stroke="#231f20" stroke-width="0.4" textLength="50.0" lengthAdjust="spacingAndGlyphs">Absorbance</text>
<polygon points="301.4,383.2 311.6,378.5 311.6,387.9" fill="#231f20"/>
<path d="M345.1,431.2 L346.2,428.3 L347.2,425.6 L348.3,422.9 L349.3,420.3 L350.4,417.9 L351.4,415.5 L352.5,413.2 L353.5,411.0 L354.6,408.9 L355.6,406.9 L356.7,404.9 L357.7,403.0 L358.8,401.1 L359.8,399.3 L360.9,397.6 L361.9,395.9 L363.0,394.3 L364.0,392.7 L365.1,391.2 L366.1,389.7 L367.2,388.3 L368.2,386.9 L369.3,385.5 L370.3,384.2 L371.4,382.9 L372.5,381.6 L373.5,380.4 L374.6,379.2 L375.6,378.1 L376.7,376.9 L377.7,375.9 L378.8,374.8 L379.8,373.7 L380.9,372.7 L381.9,371.7 L383.0,370.7 L384.0,369.8 L385.1,368.9 L386.1,368.0 L387.2,367.1 L388.2,366.2 L389.3,365.4 L390.3,364.5 L391.4,363.7 L392.4,362.9 L393.5,362.2 L394.5,361.4 L395.6,360.7 L396.6,359.9 L397.7,359.2 L398.8,358.5 L399.8,357.9 L400.9,357.2 L401.9,356.5 L403.0,355.9 L404.0,355.2 L405.1,354.6 L406.1,354.0 L407.2,353.4 L408.2,352.8 L409.3,352.3 L410.3,351.7 L411.4,351.1 L412.4,350.6 L413.5,350.1 L414.5,349.5 L415.6,349.0 L416.6,348.5 L417.7,348.0 L418.7,347.5 L419.8,347.0 L420.8,346.6 L421.9,346.1 L422.9,345.6 L424.0,345.2 L425.1,344.7 L426.1,344.3 L427.2,343.9 L428.2,343.5 L429.3,343.0 L430.3,342.6 L431.4,342.2 L432.4,341.8 L433.5,341.4 L434.5,341.1 L435.6,340.7 L436.6,340.3 L437.7,339.9 L438.7,339.6 L439.8,339.2 L440.8,338.9 L441.9,338.5 L442.9,338.2 L444.0,337.8 L445.0,337.5 L446.1,337.2 L447.1,336.8 L448.2,336.5 L449.2,336.2 L450.3,335.9 L451.4,335.6 L452.4,335.3 L453.5,335.0 L454.5,334.7 L455.6,334.4 L456.6,334.1 L457.7,333.8 L458.7,333.5 L459.8,333.3 L460.8,333.0 L461.9,332.7 L462.9,332.5 L464.0,332.2 L465.0,331.9 L466.1,331.7 L467.1,331.4 L468.2,331.2 L469.2,330.9 L470.3,330.7 L471.3,330.4 L472.4,330.2 L473.4,330.0 L474.5,329.7 L475.5,329.5 L476.6,329.3 L477.7,329.1 L478.7,328.8 L479.8,328.6 L480.8,328.4 L481.9,328.2 L482.9,328.0 L484.0,327.8 L485.0,327.6 L486.1,327.3 L487.1,327.1 L488.2,326.9 L489.2,326.7 L490.3,326.5 L491.3,326.4 L492.4,326.2" fill="none" stroke="#151515" stroke-width="1.5" stroke-linejoin="round" />
<circle cx="344.8" cy="431.1" r="3.0" fill="#1b4e8a"/>
<circle cx="349.7" cy="421.2" r="3.0" fill="#1b4e8a"/>
<circle cx="354.9" cy="412.0" r="3.0" fill="#1b4e8a"/>
<circle cx="365.3" cy="396.3" r="3.0" fill="#1b4e8a"/>
<circle cx="385.5" cy="365.5" r="3.0" fill="#1b4e8a"/>
<circle cx="426.0" cy="348.0" r="3.0" fill="#1b4e8a"/>
<circle cx="493.1" cy="325.8" r="3.0" fill="#1b4e8a"/>
</svg></div></body></html>
